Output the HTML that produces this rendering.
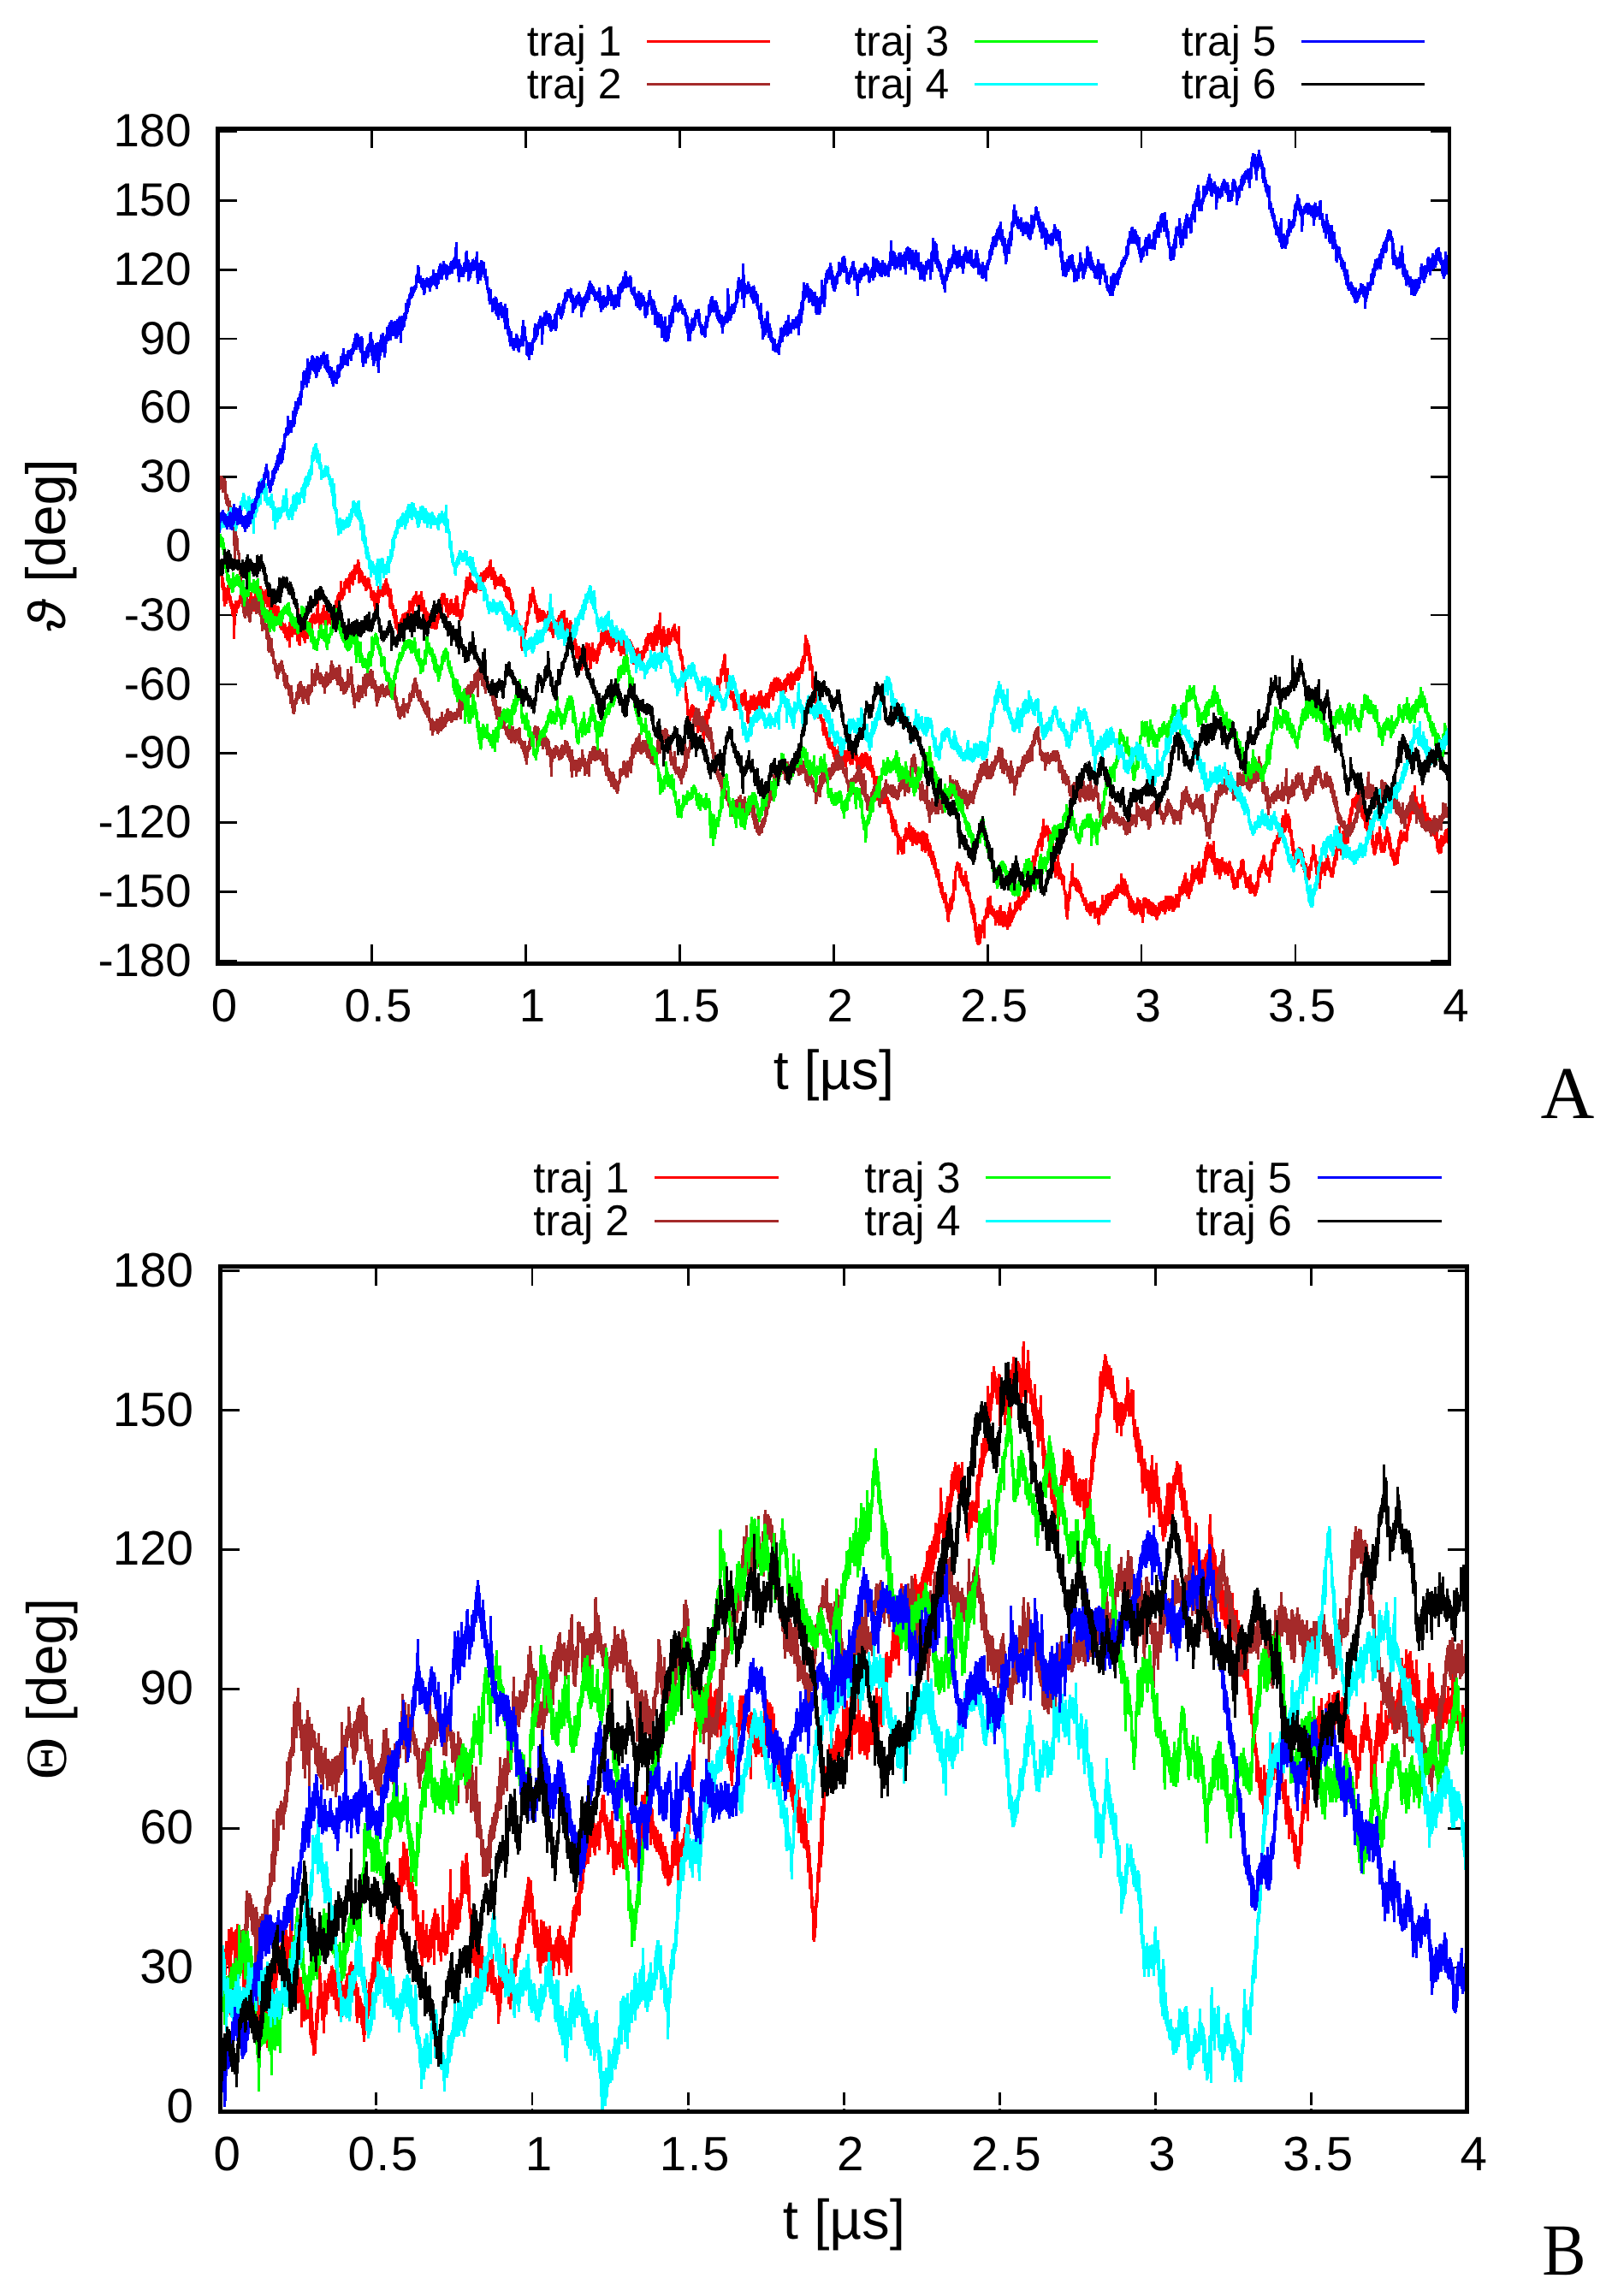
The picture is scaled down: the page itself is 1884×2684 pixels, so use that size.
<!DOCTYPE html>
<html lang="en"><head><meta charset="utf-8"><title>Trajectories</title>
<style>html,body{margin:0;padding:0;background:#fff}svg{display:block}text{fill:#000}</style></head>
<body>
<svg width="1884" height="2684" viewBox="0 0 1884 2684" shape-rendering="crispEdges" text-rendering="geometricPrecision">
<rect width="1884" height="2684" fill="#fff"/>
<path d="M434.4 1124.5v-20.5M434.4 152.5v20.5M614.4 1124.5v-20.5M614.4 152.5v20.5M794.3 1124.5v-20.5M794.3 152.5v20.5M974.2 1124.5v-20.5M974.2 152.5v20.5M1154.2 1124.5v-20.5M1154.2 152.5v20.5M1334.1 1124.5v-20.5M1334.1 152.5v20.5M1514 1124.5v-20.5M1514 152.5v20.5M256.5 153.8h20.5M1692.5 153.8h-20.5M256.5 234.6h20.5M1692.5 234.6h-20.5M256.5 315.3h20.5M1692.5 315.3h-20.5M256.5 396.1h20.5M1692.5 396.1h-20.5M256.5 476.8h20.5M1692.5 476.8h-20.5M256.5 557.6h20.5M1692.5 557.6h-20.5M256.5 719.1h20.5M1692.5 719.1h-20.5M256.5 799.9h20.5M1692.5 799.9h-20.5M256.5 880.6h20.5M1692.5 880.6h-20.5M256.5 961.4h20.5M1692.5 961.4h-20.5M256.5 1042.2h20.5M1692.5 1042.2h-20.5M256.5 1122.9h20.5M1692.5 1122.9h-20.5" fill="none" stroke="#000" stroke-width="2.7"/>
<path d="M257 638.4H1692" fill="none" stroke="#fff" stroke-width="3.4"/>
<clipPath id="clipA"><rect x="254.6" y="150.7" width="1439.4" height="975.7"/></clipPath>
<g clip-path="url(#clipA)" fill="none" stroke-width="3" stroke-linejoin="bevel">
<path d="M255.5 666v6l1 2v-9l1-5v11l1 2v-8l1 10v8l1 7v-15l1 11v10l1 13v-23l1 3v9l1 8v-17l1 5v8l1-4v-13l1-2v12l1 10v-10l1 5v6l1 6v-10l1 7v9l1 2v-6l1-3v36l1-31v-6l1-8v12l1 3v-14l1 2v6l1-1v-6l1-2v7l1-6v-7l1 1v9l1-7v-8l1 7v8l1 8v-20l1 10v8l1-4v-10l1 1v11l1 2v-10l1-1v13l1 0v-10l1-1v9l1-6v-5l1-9v19l1 0v-8l1-3v7l1-3v-7l1 5v13l1-10v-12l1 6v8l1-1v-7l1-2v7l1 1v-7l1-5v11l1-2v-17l1 6v14l1-8v-7l1 2v9l1 10v-14l1-5v13l1-1v-15l1 7v6l1 8v-11l1 0v8l1-1v-11l1 8v12l1-2v-11l1-4v17l1 1v-9l1 5v12l1-5v-10l1-2v8l1 7v-12l1-2v9l1 8v-15l1-1v17l1 2v-12l1-1v16l1 5v-18l1 6v13l1-3v-6l1 4v6l1 3v-12l1 2v15l1-4v-7l1 3v9l1 2v-16l1 1v6l1 17v-30l1 6v8l1 4v-14l1-1v15l1-6v-7l1-6v12l1-1v-11l1 4v12l1-2v-5l1-4v19l1-12v-27l1 24v17l1 3v-19l1-6v15l1-3v-7l1-11v15l1 7v-16l1 5v11l1 6v-14l1 1v7l1-4v-13l1-3v21l1-9v-7l1-4v16l1-5v-15l1 0v10l1 2v-14l1-3v10l1-2v-9l1 2v9l1 1v-9l1 0v9l1-3v-5l1-19v18l1 7v-9l1 0v17l1-8v-10l1 2v10l1-2v-8l1-8v9l1-1v-12l1 14v9l1 1v-7l1-3v7l1 3v-18l1 8v8l1-3v-5l1-1v9l1 0v-10l1-4v10l1 4v-17l1 2v10l1-5v-9l1-2v14l1-7v-11l1-3v14l1-10v-8l1-2v7l1 4v-14l1 4v6l1-2v-21l1 15v7l1-2v-11l1 0v9l1-3v-13l1-1v7l1 1v-12l1 4v7l1-1v-9l1-1v9l1 8v-20l1-4v10l1-1v-6l1-5v16l1 0v-14l1-4v7l1 6v-18l1 3v9l1-3v-9l1 0v11l1-4v-13l1 6v22l1-3v-15l1 4v10l1-2v-9l1 5v7l1 4v-7l1-2v10l1 1v-12l1 7v11l1-3v-8l1-2v9l1-2v-10l1 4v9l1 0v-5l1 6v6l1 7v-7l1-2v9l1-1v-11l1 5v6l1 15v-16l1-5v7l1 1v-6l1-7v16l1-2v-19l1 2v12l1-4v-6l1-2v8l1 0v-10l1 3v10l1-5v-11l1 2v12l1-9v-6l1-5v18l1 0v-13l1 5v10l1 1v-10l1 6v14l1 5v-24l1 14v7l1 5v-8l1 2v9l1 6v-6l1-2v7l1 13v-23l1 13v6l1 6v-6l1 4v6l1-4v-10l1 3v10l1-8v-6l1-4v8l1 1v-12l1-1v6l1 0v-6l1-1v6l1 5v-8l1-5v10l1-1v-6l1-5v10l1-5v-16l1 7v5l1-1v-8l1-2v7l1 9v-17l1-5v12l1-7v-6l1 0v9l1 0v-14l1 9v9l1-6v-7l1 5v11l1 2v-19l1 8v6l1 6v-24l1 14v5l1 3v-11l1 0v15l1 4v-9l1-2v10l1 8v-14l1 3v10l1 6v-12l1-4v12l1-1v-11l1 1v10l1 7v-12l1-7v16l1 2v-10l1 1v8l1 3v-20l1 13v6l1-1v-6l1-9v10l1-8v-8l1-5v9l1 2v-18l1-2v10l1 7v-22l1 0v6l1 2v-8l1 1v10l1 4v-8l1 7v8l1-3v-14l1 11v12l1-6v-6l1-4v11l1 1v-17l1 0v14l1 1v-7l1-4v10l1 4v-13l1 3v8l1-3v-11l1-7v25l1-4v-20l1 16v5l1 3v-6l1-1v10l1 0v-12l1 2v8l1-2v-9l1-9v10l1-6v-9l1-9v13l1-8v-10l1-9v13l1 8v-17l1 2v6l1 5v-12l1-10v19l1 2v-12l1 3v6l1 2v-9l1 6v6l1-1v-7l1-1v10l1-2v-7l1 0v5l1-1v-10l1-6v14l1-2v-9l1 2v14l1-10v-12l1 3v8l1 3v-13l1-2v9l1 3v-13l1 1v9l1-2v-9l1-3v9l1 4v-12l1-2v7l1-2v-8l1-5v15l1 9v-14l1 5v5l1-1v-10l1 8v8l1 10v-21l1 8v9l1-1v-6l1-3v7l1 0v-8l1 4v7l1-2v-7l1-5v14l1-3v-6l1-1v10l1 1v-10l1 4v10l1 1v-5l1 0v10l1 3v-10l1 2v9l1-1v-13l1 5v8l1 5v-11l1 9v9l1 3v-14l1 6v11l1 13v-18l1 4v9l1 3v-15l1 11v6l1 6v-12l1 5v7l1 1v-9l1 4v8l1 3v-6l1 7v11l1 6v-11l1-7v7l1-4v-11l1-1v10l1-8v-7l1-4v6l1-2v-13l1-1v4l1-2v-5l1-18v17l1-3v-10l1-5v8l1-3v-12l1 6v9l1 5v-10l1 9v12l1-1v-11l1 5v9l1 9v-12l1 1v10l1-9v-7l1 4v10l1 1v-12l1 0v11l1-1v-10l1 1v12l1-1v-10l1 5v17l1-6v-6l1 1v11l1-3v-21l1 5v12l1 5v-10l1 1v12l1-6v-6l1 1v10l1 8v-16l1-5v10l1 0v-11l1 5v9l1-4v-8l1 0v12l1-8v-5l1-6v9l1 3v-7l1-7v11l1-2v-12l1 5v25l1-6v-16l1-9v15l1 7v-8l1-1v12l1 7v-23l1 11v5l1 2v-9l1-1v8l1 5v-18l1 4v14l1-1v-11l1 7v17l1-5v-20l1 15v12l1 2v-12l1 9v14l1-3v-6l1-3v11l1 1v-15l1 4v9l1 6v-6l1 0v16l1-4v-9l1-7v11l1-1v-10l1-5v9l1-1v-8l1-8v30l1-18v-7l1-1v8l1 3v-14l1 8v20l1 2v-25l1 1v10l1 4v-21l1 13v9l1-1v-14l1 4v9l1-2v-7l1 2v12l1-6v-8l1-9v14l1-5v-7l1-5v10l1-8v-9l1-6v15l1 3v-7l1-2v7l1-5v-8l1-4v11l1 3v-13l1 0v17l1-8v-9l1 5v7l1 8v-10l1-3v9l1 10v-12l1-3v10l1 3v-15l1-5v15l1-3v-9l1-1v9l1-1v-12l1 1v8l1 4v-8l1 5v12l1 0v-6l1 0v12l1-8v-9l1 5v10l1-6v-6l1-7v19l1-4v-8l1 2v15l1-10v-13l1 5v6l1-1v-8l1-2v6l1 7v-11l1 3v5l1 4v-8l1 5v10l1 9v-19l1 2v7l1 3v-6l1-2v8l1-3v-7l1-3v16l1 6v-14l1-4v10l1 8v-9l1-8v18l1-11v-9l1 3v7l1-3v-11l1-1v7l1 1v-15l1-2v7l1 8v-13l1-8v15l1-5v-8l1 1v7l1 2v-11l1-1v10l1 11v-19l1 8v6l1 5v-16l1-13v19l1 3v-12l1-12v25l1-6v-12l1 0v5l1 6v-13l1-19v26l1 12v-15l1 1v23l1-13v-12l1-6v16l1 3v-15l1 9v12l1-5v-10l1 0v15l1-6v-14l1-3v16l1 4v-10l1-6v11l1 0v-8l1-6v6l1 0v-7l1-2v9l1 8v-20l1 11v7l1 3v-11l1 4v8l1 1v-7l1-13v23l1 12v-9l1 3v7l1 5v-8l1 5v7l1 12v-12l1 6v6l1 13v-6l1 12v7l1 7v-12l1 14v8l1 8v-6l1-4v8l1 5v-11l1-6v13l1-7v-8l1 1v13l1 0v-13l1 6v12l1 1v-6l1 0v8l1 2v-16l1 8v17l1-8v-16l1 11v10l1 0v-13l1 0v6l1 6v-13l1 0v11l1 17v-28l1-2v9l1-7v-9l1 7v10l1-2v-17l1 2v10l1-3v-15l1 1v9l1-1v-12l1-8v6l1-1v-15l1 11v13l1-10v-7l1 1v7l1-5v-10l1 2v7l1-1v-19l1 7v9l1 1v-11l1-5v8l1-4v-12l1-3v7l1 0v-7l1-9v6l1-3v-9l1-1v32l1-3v-13l1 9v12l1 5v-26l1 22v10l1-2v-7l1 1v10l1 2v-7l1-2v7l1 5v-11l1 0v15l1 7v-14l1 5v5l1 2v-6l1 0v7l1-4v-9l1-6v10l1 0v-8l1 0v8l1 1v-11l1 1v14l1-7v-7l1-2v10l1 5v-19l1 7v16l1 1v-9l1 3v18l1 4v-27l1 6v10l1-3v-9l1-10v13l1 0v-9l1-2v15l1-10v-6l1-2v18l1 0v-13l1 2v8l1 3v-13l1-3v11l1 2v-10l1-9v13l1-1v-6l1-7v16l1 6v-16l1 3v9l1-4v-6l1 3v9l1 0v-10l1-7v14l1 3v-12l1 1v5l1 7v-15l1-8v12l1-5v-9l1-6v10l1-4v-5l1 0v21l1-9v-15l1-2v15l1-4v-12l1 2v15l1-2v-11l1-4v9l1 6v-10l1-3v13l1 2v-12l1 5v17l1-12v-8l1 1v13l1-5v-11l1-3v10l1 5v-14l1-3v10l1-5v-8l1-1v11l1 1v-8l1 1v10l1 4v-22l1 9v11l1 1v-14l1-5v9l1 5v-11l1-5v11l1-5v-8l1 1v6l1 6v-14l1-2v14l1-2v-10l1 0v5l1-2v-9l1-6v18l1-7v-14l1 1v8l1-5v-9l1-20v20l1-4v-12l1 4v17l1-3v-12l1 4v6l1 22v-21l1 8v5l1 7v-7l1 5v21l1 4v-16l1 9v7l1 11v-21l1 14v11l1 3v-9l1 7v9l1 9v-8l1-1v7l1 0v-7l1 1v8l1 5v-6l1 5v6l1 10v-20l1 8v9l1 1v-7l1 0v8l1 7v-11l1 6v7l1 6v-14l1 0v13l1 3v-6l1-3v8l1 1v-6l1-3v10l1 8v-8l1-4v10l1 10v-16l1 0v7l1 4v-10l1 0v6l1-3v-7l1-3v15l1-9v-6l1 1v15l1-8v-10l1 5v12l1 6v-14l1 0v10l1 9v-15l1 2v5l1 1v-13l1 1v8l1-2v-10l1 3v15l1 2v-19l1 6v8l1 5v-13l1-3v9l1 1v-6l1-2v6l1 4v-6l1-2v17l1-3v-5l1-1v5l1-2v-7l1-1v21l1-13v-9l1-4v19l1-3v-13l1 1v12l1-1v-12l1-4v11l1-2v-7l1 1v14l1 4v-10l1-3v11l1 3v-17l1 2v14l1 3v-8l1 0v14l1-4v-7l1 7v7l1 9v-9l1 0v10l1-5v-10l1 10v19l1-8v-13l1 10v8l1 5v-7l1-8v16l1-3v-5l1 0v7l1 1v-6l1 2v5l1-7v-7l1-2v15l1-1v-6l1 1v7l1 11v-16l1 4v8l1 6v-8l1 4v6l1 14v-18l1 6v16l1-7v-7l1-1v9l1 10v-19l1 9v9l1 2v-7l1 6v22l1-15v-7l1 2v15l1-11v-5l1 6v9l1 6v-15l1 0v8l1 6v-19l1-4v6l1 3v-15l1-1v14l1-3v-5l1-1v8l1-7v-13l1 11v7l1 5v-19l1 7v6l1 11v-20l1-1v11l1 1v-6l1-4v16l1-1v-9l1 2v10l1-5v-9l1-1v9l1 4v-12l1 1v10l1 1v-11l1-2v22l1-2v-22l1 3v9l1 7v-17l1 5v19l1-9v-12l1-1v17l1 3v-14l1 8v12l1-5v-11l1 6v7l1 9v-13l1 3v14l1-8v-8l1 9v10l1 2v-13l1 10v5l1 8v-11l1 3v5l1 6v-13l1 10v7l1 5v-7l1 3v9l1 2v-14l1 10v8l1 2v-8l1 3v10l1-4v-9l1 5v10l1 8v-11l1 2v16l1 5v-19l1 1v9l1-7v-10l1-3v14l1-1v-12l1-6v10l1-2v-24l1 5v5l1 3v-17l1-12v7l1-4v-6l1-1v9l1-1v-5l1-2v15l1 3v-8l1-5v13l1 5v-7l1-2v12l1 0v-10l1-1v7l1 5v-18l1 10v13l1 1v-11l1 1v11l1 5v-8l1 6v5l1 10v-9l1 2v13l1 2v-11l1-1v14l1 8v-18l1 11v8l1 16v-18l1 9v10l1 7v-10l1 2v9l1-3v-22l1 11v12l1-12v-7l1-3v7l1-5v-8l1 2v7l1 13v-24l1-3v5l1-3v-7l1-5v8l1 5v-21l1-3v16l1 4v-15l1-7v17l1 2v-7l1 1v9l1 1v-5l1-3v8l1 4v-8l1 4v12l1-6v-11l1 0v6l1 4v-9l1 2v14l1-8v-11l1-5v16l1 8v-17l1 3v10l1 6v-18l1 0v13l1 0v-13l1 7v10l1 0v-9l1 2v11l1-7v-10l1-10v15l1 8v-28l1 14v10l1-3v-8l1-4v10l1-2v-6l1-2v6l1-5v-11l1 5v5l1 0v-11l1 1v5l1 4v-19l1 9v10l1 0v-11l1-3v8l1-2v-7l1 0v6l1 2v-12l1-3v7l1 5v-14l1-2v15l1-7v-7l1-1v11l1 0v-23l1 0v11l1-3v-11l1-5v8l1-6v-7l1-12v15l1-5v-10l1 3v9l1-10v-8l1-2v9l1-1v-7l1-10v8l1-3v-7l1 0v9l1-6v-10l1 1v20l1-10v-9l1-19v23l1-5v-7l1 2v9l1-5v-9l1 2v6l1 2v-10l1 7v8l1 7v-17l1 5v10l1 8v-8l1 7v6l1 7v-21l1 21v8l1 7v-15l1 5v16l1-4v-9l1-4v11l1 0v-21l1 18v11l1-3v-12l1 4v9l1 2v-6l1 1v12l1-3v-8l1 1v10l1 11v-6l1 5v9l1 18v-23l1 4v22l1-19v-8l1-6v12l1-7v-10l1-7v7l1-3v-7l1-18v21l1 4v-8l1 2v7l1 1v-9l1 0v14l1 0v-11l1-2v7l1 8v-13l1 5v7l1 3v-9l1 2v8l1 4v-6l1 3v7l1 0v-5l1 3v7l1-4v-6l1 6v7l1 4v-6l1-4v9l1 1v-9l1 1v9l1 4v-17l1 4v8l1 0v-11l1 0v8l1 4v-10l1-4v21l1-4v-8l1 3v5l1 3v-12l1 3v15l1 2v-19l1 1v8l1-5v-6l1-3v8l1-1v-18l1 12v12l1-5v-9l1 3v7l1-2v-18l1 2v11l1 3v-8l1-10v14l1-3v-7l1 0v11l1-7v-8l1-1v10l1-3v-8l1 2v7l1-5v-7l1 3v9l1-5v-9l1-2v16l1-8v-9l1 1v6l1 3v-6l1-2v7l1-2v-20l1 10v14l1-1v-8l1 1v9l1 0v-19l1 7v9l1 2v-7l1-4v14l1 2v-9l1 7v8l1 9v-17l1 0v11l1 8v-16l1 2v9l1 2v-11l1 7v8l1 1v-12l1 2v8l1 0v-5l1-13v16l1-4v-8l1-1v10l1 7v-17l1 8v8l1 4v-10l1 2v15l1-14v-13l1-3v13l1-3v-8l1-1v9l1 2v-8l1 9v6l1-2v-15l1 4v14l1-2v-13l1 11v5l1-1v-12l1-2v16l1-3v-11l1 3v7l1 5v-14l1 4v13l1-1v-7l1-6v10l1-3v-13l1 2v11l1-6v-8l1 0v7l1 0v-7l1 3v9l1-3v-11l1 3v14l1-6v-16l1 6v10l1-3v-11l1-1v9l1 8v-17l1 1v6l1 6v-14l1 4v8l1 7v-18l1 4v13l1-2v-13l1 3v9l1-4v-13l1 7v8l1-1v-11l1-3v16l1-13v-12l1 4v7l1-2v-6l1-6v13l1-2v-13l1-2v15l1-11v-7l1-6v20l1 5v-11l1-7v21l1-5v-5l1 0v13l1-10v-9l1-2v11l1 0v-9l1-21v25l1-7v-10l1 3v9l1-6v-9l1 0v9l1 2v-7l1-6v11l1 5v-15l1-8v27l1-12v-7l1 6v6l1 6v-14l1-6v11l1-4v-16l1 4v18l1-14v-12l1-10v21l1-8v-11l1-8v18l1 1v-14l1 0v8l1-1v-9l1 2v10l1 9v-10l1-2v11l1 4v-28l1 24v8l1 8v-11l1-5v9l1-1v-12l1 8v9l1 2v-10l1-8v24l1-8v-11l1 1v9l1-1v-16l1 10v6l1-3v-8l1 3v10l1 2v-14l1 2v6l1 3v-9l1 0v14l1-8v-8l1-1v8l1 6v-9l1 5v8l1 7v-16l1 9v10l1 5v-7l1-8v12l1 0v-12l1 2v6l1 5v-17l1-5v10l1 2v-10l1-4v13l1-5v-15l1-1v7l1 7v-16l1 4v12l1 6v-8l1 4v6l1 10v-13l1 5v7l1-3v-9l1 2v7l1 10v-12l1-10v23l1-9v-5l1 3v9l1 0v-6l1-3v8l1 6v-13l1 2v10l1-7v-7l1-3v10l1-7v-12l1-7v8l1 4v-9l1-7v10l1-1v-11l1-2v9l1-2v-12l1-1v11l1 7v-9l1 2v9l1 3v-8l1 1v8l1 0v-7l1-3v18l1-14v-9l1-4v11l1 0v-23l1 1v6l1-1v-12l1-3v8l1 4v-12l1-3v5l1-2v-8l1 3v6l1 1v-11l1-3v11l1-6v-8l1-5v11l1 3v-18l1-7v21l1-4v-6l1 3v6l1-4v-23l1 13v6l1-1v-8l1-5v12l1 10v-19l1 7v9l1 8v-8l1 1v12l1 12v-15l1 7v14l1-3v-6l1 4v8l1 7v-10l1-1v8l1 1v-12l1-2v13l1-9v-9l1 3v8l1 3v-8l1-4v21l1-4v-13l1 10v8l1 6v-13l1 4v9l1 1v-12l1 8v7l1 4v-11l1 7v5l1-5v-9l1-5v6l1 2v-15l1-2v7l1-7v-14l1 3v14l1 1v-7l1 3v5l1 16v-16l1 8v9l1 1v-17l1 6v6l1 20v-23l1-2v15l1-13v-7l1-1v10l1 1v-11l1 3v7l1 6v-17l1 4v6l1-1v-16l1 1v9l1 4v-11l1 8v6l1 2v-6l1 3v8l1 1v-8l1-3v12l1-8v-6l1-10v12l1-4v-10l1-7v11l1 2v-22l1 4v5l1 2v-12l1-17v28l1-8v-12l1 10v16l1-15v-8l1-6v16l1-2v-9l1 0v11l1-1v-16l1 2v15l1-10v-10l1 3v16l1-18v-7l1-9v8l1 13v-25l1-5v11l1-4v-16l1 0v8l1-1v-8l1 0v11l1 0v-10l1-6v8l1 0v-10l1 7v7l1 5v-10l1 5v10l1-2v-12l1 0v18l1 2v-13l1 6v7l1 4v-7l1 4v9l1 3v-11l1 2v9l1 4v-16l1-2v12l1-5v-6l1 3v5l1 11v-9l1 7v11l1 7v-15l1 13v7l1 4v-6l1-8v12l1-9v-11l1-5v15l1-2v-7l1-3v9l1-1v-18l1 16v8l1 7v-16l1 6v7l1 3v-7l1 0v7l1-5v-13l1-1v10l1-6v-16l1 3v9l1 7v-13l1 5v13l1 4v-16l1 14v9l1-1v-7l1 0v9l1 5v-14l1 6v13l1-6v-10l1 6v9l1-6v-12l1-3v20l1-18v-8l1-6v15l1-12v-7l1-4v16l1-5v-6l1-2v8l1 1v-8l1-2v7l1 4v-8l1 0v9l1-2v-16l1-3v8l1-9v-16l1 6v10l1-7v-9l1-6v11l1-8v-15l1 4v20l1-9v-11l1-14v21l1 3v-9l1-2v14l1-3v-5l1 5v10l1-1v-7l1-4v11l1 4v-15l1 1v7l1 6v-25l1 22v10l1-6v-18l1 9v10l1 5v-8l1-2v8l1 3v-12l1 10v8l1-3v-7l1-2v11l1 6v-9l1 4v5l1 4v-12l1 2v7l1 4v-9l1-1v11l1 4v-7l1-3v15l1 8v-14l1 0v14l1 2v-5l1-13v16l1 0v-20l1 7v7l1-3v-9l1 0v9l1-3v-7l1-7v11l1 1v-13l1 2v12l1 3v-16l1-3v19" stroke="#ff0000"/>
<path d="M255.5 562v7l1 4v-12l1 2v5l1-5v-7l1 3v9l1 8v-14l1-1v14l1-3v-13l1 6v14l1 10v-12l1 3v11l1-1v-8l1 11v10l1 0v-18l1 12v9l1 4v-5l1-4v9l1 8v-11l1 2v10l1 36v-39l1 5v7l1 4v-6l1 6v6l1 11v-6l1 6v12l1 11v-14l1 16v8l1 13v-12l1 8v6l1 20v-7l1 0v9l1 4v-13l1-2v10l1-3v-20l1 10v12l1 5v-12l1 3v14l1-1v-21l1 3v10l1-7v-8l1-3v9l1 4v-11l1-3v11l1 0v-11l1 2v17l1-4v-10l1-2v15l1-3v-18l1 11v10l1 4v-7l1-4v11l1 17v-21l1 6v9l1-1v-7l1-7v19l1 0v-5l1 5v9l1 3v-19l1 16v14l1 4v-21l1 7v10l1 2v-12l1-3v21l1-1v-8l1 6v11l1 1v-6l1 3v8l1 5v-11l1 4v12l1 3v-12l1-1v7l1-2v-11l1 3v6l1-2v-8l1-2v9l1 7v-11l1 9v6l1 10v-16l1 3v14l1 2v-10l1-6v14l1 3v-8l1 4v11l1 0v-5l1 3v12l1-5v-17l1 15v6l1 12v-13l1-1v15l1-7v-7l1-5v8l1-3v-10l1-3v11l1-12v-7l1 0v17l1-10v-8l1-3v11l1 8v-15l1 4v12l1 7v-18l1-3v11l1 0v-7l1 2v6l1 6v-11l1-7v17l1 5v-24l1 5v9l1-5v-5l1-4v8l1 1v-27l1 9v11l1-6v-8l1 2v10l1 2v-19l1 0v13l1-5v-16l1 6v10l1 4v-7l1 0v10l1 1v-13l1 5v7l1 1v-9l1 6v5l1 3v-11l1-1v19l1-13v-7l1-6v16l1 0v-10l1 0v10l1-5v-7l1-3v13l1-3v-13l1-11v18l1 5v-18l1 2v7l1 3v-6l1-1v12l1-2v-11l1 0v9l1 11v-21l1 4v12l1-1v-18l1 7v12l1 12v-15l1-1v7l1 4v-9l1 6v12l1-3v-9l1-2v13l1-4v-8l1-3v11l1-9v-16l1 10v12l1-7v-9l1 1v7l1 2v-19l1 18v8l1 10v-15l1 8v12l1 8v-17l1 1v6l1 2v-10l1 0v9l1-4v-12l1-2v20l1-7v-11l1 4v6l1-2v-10l1 3v12l1-9v-16l1 9v5l1-1v-16l1 6v20l1-17v-10l1 3v13l1-7v-6l1-2v14l1-9v-7l1-4v8l1 15v-20l1 0v18l1-2v-7l1 2v5l1 9v-15l1 10v9l1 12v-12l1-11v19l1-7v-13l1 6v8l1-3v-8l1-5v12l1-4v-8l1 1v8l1 6v-8l1 0v8l1-2v-8l1-2v9l1-2v-9l1 2v10l1-3v-14l1 3v10l1 6v-14l1 1v14l1 0v-18l1 1v13l1 4v-11l1-6v17l1 6v-9l1 4v8l1 6v-10l1 8v7l1 3v-11l1-1v14l1-6v-7l1-3v10l1 2v-7l1-14v16l1 7v-14l1-3v8l1 1v-8l1 2v5l1 4v-8l1-5v8l1-6v-11l1-2v10l1-1v-6l1-6v8l1-4v-9l1-4v18l1-14v-7l1-3v18l1-6v-7l1 6v8l1 5v-5l1 1v8l1-4v-10l1 4v8l1 6v-7l1 0v8l1 2v-8l1 5v6l1 2v-10l1 5v6l1 3v-12l1-5v20l1-3v-9l1 1v14l1 2v-5l1 3v12l1-8v-6l1 2v18l1-8v-7l1-1v9l1-1v-6l1-3v6l1 6v-15l1 6v12l1-2v-16l1 4v7l1-5v-8l1 5v12l1-4v-19l1 12v6l1 1v-10l1-1v7l1 3v-13l1-3v12l1-4v-11l1-3v11l1-2v-5l1 0v11l1-4v-8l1 3v11l1-3v-8l1 1v5l1 2v-6l1-4v7l1 1v-5l1-3v10l1-7v-7l1 3v7l1-4v-16l1 1v13l1 9v-28l1 1v15l1 1v-5l1-10v10l1-3v-13l1 4v8l1-4v-13l1 2v5l1 5v-11l1-5v15l1-2v-9l1 2v7l1 2v-19l1 6v9l1-5v-7l1-3v11l1-4v-13l1-3v5l1 2v-6l1-3v8l1 22v-32l1 1v10l1 1v-14l1-1v7l1 8v-6l1-1v14l1-6v-8l1 0v11l1 7v-11l1-6v22l1-10v-9l1-2v15l1 1v-10l1 6v7l1-2v-7l1 6v8l1-3v-9l1 3v10l1 10v-14l1-2v12l1 10v-14l1 2v12l1 10v-15l1 2v11l1 2v-12l1-2v12l1 13v-26l1 12v5l1 9v-18l1 4v9l1 3v-5l1-4v9l1 4v-5l1 3v5l1 3v-11l1 2v9l1 4v-17l1 2v16l1-6v-12l1 8v14l1-4v-9l1-7v16l1 0v-9l1 4v9l1-2v-12l1-3v9l1 5v-10l1-3v7l1 9v-17l1-1v17l1 3v-8l1 4v8l1 0v-8l1 2v7l1 6v-10l1-6v16l1 8v-10l1-3v17l1-15v-7l1 0v6l1-2v-7l1-6v13l1-8v-10l1 0v6l1 0v-9l1 2v5l1 0v-9l1-5v14l1-7v-5l1 2v24l1-19v-8l1 5v10l1-2v-7l1 6v9l1 0v-13l1 3v8l1 8v-18l1-2v14l1-2v-9l1 2v9l1 6v-12l1-1v20l1-11v-7l1 2v11l1 7v-12l1 4v9l1 22v-26l1-5v14l1-8v-6l1-2v11l1-1v-7l1-7v8l1 3v-8l1-1v8l1 4v-6l1 1v9l1-3v-8l1-4v12l1 0v-15l1 1v14l1-6v-6l1 1v8l1-8v-10l1 3v9l1 4v-14l1 2v15l1 1v-6l1-7v15l1 4v-8l1 4v8l1 14v-33l1 15v7l1-1v-7l1-2v13l1-4v-9l1 4v16l1-9v-8l1-2v5l1 4v-12l1 2v14l1-6v-9l1 0v9l1-6v-14l1 12v6l1 2v-9l1 0v20l1-6v-9l1 1v6l1 6v-12l1-6v5l1 16v-22l1-8v12l1 3v-10l1-3v7l1 0v-10l1-5v17l1-8v-7l1-1v17l1-5v-7l1-5v14l1 1v-10l1-3v6l1 0v-6l1 4v6l1 5v-7l1-3v5l1 10v-16l1 7v6l1-1v-9l1 3v11l1 11v-32l1 14v6l1 13v-11l1 3v13l1-6v-6l1 3v6l1 10v-10l1-8v10l1 3v-13l1 7v13l1-1v-9l1-1v9l1 6v-5l1-3v10l1-6v-7l1-3v4l1-2v-15l1 0v7l1 0v-7l1 0v5l1 2v-14l1-3v16l1-1v-13l1 7v9l1 2v-10l1-10v20l1-13v-6l1 2v9l1-7v-8l1-1v19l1-18v-8l1-8v16l1-1v-11l1-5v10l1 3v-10l1-9v13l1 1v-15l1 8v9l1-3v-12l1-7v20l1 4v-11l1-3v15l1-5v-7l1-5v15l1-8v-6l1 5v7l1 0v-13l1 3v10l1 8v-13l1-4v15l1 2v-9l1 0v6l1 7v-6l1 2v7l1-2v-12l1 5v9l1 0v-8l1-3v10l1 1v-16l1-3v9l1-3v-11l1-8v12l1 2v-6l1-2v14l1-9v-9l1-10v10l1 6v-10l1-6v14l1 1v-8l1-9v14l1-6v-7l1 3v7l1 3v-7l1 3v10l1 8v-7l1-2v14l1 11v-16l1 9v6l1-4v-6l1 3v10l1 4v-23l1 13v12l1 2v-8l1 2v6l1 0v-8l1 0v10l1 3v-7l1-4v9l1 9v-18l1 1v8l1 1v-11l1-6v14l1-13v-32l1 23v18l1-8v-17l1-1v9l1 2v-11l1-2v6l1-6v-8l1-1v5l1-2v-7l1-11v7l1-3v-9l1-9v11l1 3v-12l1-11v19l1-1v-7l1 4v6l1-6v-14l1 8v12l1 0v-8l1 1v14l1 0v-18l1 2v10l1-1v-7l1 3v9l1 1v-7l1 1v10l1 4v-11l1-4v13l1 5v-11l1 1v12l1-3v-14l1 9v12l1 10v-17l1 8v13l1 4v-5l1-5v21l1-1v-7l1 5v5l1 7v-8l1-1v11l1 2v-9l1 1v8l1 7v-17l1 6v16l1-5v-10l1-1v11l1 9v-10l1 2v9l1 4v-9l1 1v8l1 3v-9l1 3v9l1 4v-7l1 3v8l1 7v-13l1-1v13l1-3v-7l1 1v10l1 0v-19l1 0v12l1 7v-20l1 1v9l1-1v-7l1-6v16l1-5v-8l1-5v14l1 4v-11l1-2v16l1-3v-10l1 3v9l1 9v-27l1 12v12l1 0v-11l1-2v10l1-5v-8l1 1v13l1-6v-7l1-3v13l1-6v-7l1 6v9l1 7v-27l1 19v8l1 10v-18l1 3v10l1 9v-12l1-4v14l1 5v-8l1 1v8l1-4v-5l1-5v6l1 5v-13l1-4v9l1 0v-8l1-3v9l1-7v-16l1 4v10l1-4v-8l1-7v10l1-4v-11l1-7v15l1-7v-11l1-6v21l1-14v-5l1-4v7l1-4v-9l1-3v5l1 4v-15l1 1v11l1-2v-6l1-8v8l1-2v-7l1-1v10l1-3v-8l1 0v9l1 5v-9l1-2v6l1 4v-13l1 3v18l1-3v-12l1-6v6l1 1v-8l1 6v10l1-3v-7l1-3v15l1-8v-8l1 2v7l1 0v-5l1-2v11l1-8v-6l1-7v9l1 3v-10l1 6v6l1 5v-8l1-5v17l1-12v-8l1 2v17l1-9v-6l1-2v14l1 0v-13l1 2v9l1 2v-7l1 6v8l1 5v-14l1 5v13l1-2v-14l1 4v7l1 1v-9l1 0v7l1 5v-9l1 1v11l1 0v-9l1 4v10l1 0v-8l1-3v25l1-7v-7l1-3v7l1-2v-10l1 1v9l1 4v-25l1 0v16l1-7v-20l1 9v10l1 1v-10l1-8v13l1 3v-9l1-1v9l1 2v-10l1-1v7l1 1v-12l1-3v15l1-3v-6l1-4v9l1-3v-10l1-4v14l1-2v-11l1 4v6l1-3v-6l1-11v14l1 1v-6l1 0v10l1-4v-18l1 6v9l1 6v-14l1-2v11l1 3v-9l1 4v10l1 1v-5l1 0v6l1 5v-10l1-3v16l1 4v-6l1 3v11l1 1v-13l1 0v10l1 7v-20l1 2v11l1 6v-15l1-5v7l1-2v-8l1 3v6l1-1v-9l1-2v7l1 4v-15l1-5v13l1-4v-7l1 10v10l1 2v-18l1 12v16l1 0v-13l1-11v25l1 2v-10l1-9v21l1 5v-9l1 0v18l1-1v-16l1 3v9l1 1v-11l1 0v17l1-11v-12l1 0v10l1-5v-5l1-7v7l1-1v-8l1 2v6l1 4v-8l1 2v7l1 3v-11l1 9v9l1 4v-19l1 8v7l1-5v-8l1-1v8l1-7v-6l1 1v10l1-1v-12l1-8v10l1 7v-10l1-2v8l1 1v-5l1-2v10l1 0v-10l1 0v10l1 4v-5l1-10v11l1 5v-6l1-8v13l1 0v-10l1 3v9l1 0v-5l1-5v11l1-6v-7l1-7v11l1-3v-8l1-8v13l1-5v-5l1-5v18l1-2v-6l1-8v24l1-9v-7l1 0v9l1-5v-6l1-1v15l1-2v-19l1 0v6l1 0v-8l1-18v22l1-11v-8l1-7v17l1-9v-9l1 8v13l1 2v-11l1 6v7l1 7v-6l1 3v10l1 3v-6l1 3v14l1 2v-16l1-7v11l1 7v-14l1 11v6l1 3v-14l1 5v12l1-4v-8l1-10v25l1 5v-11l1-2v13l1 14v-22l1 7v4l1 0v-9l1-9v15l1 0v-7l1 0v7l1-4v-7l1 6v9l1-4v-7l1-6v11l1 6v-14l1-5v9l1 0v-5l1-1v11l1-6v-10l1 3v17l1-8v-12l1 2v7l1 0v-6l1-3v10l1-4v-6l1-4v6l1-2v-9l1-2v6l1 2v-22l1 12v16l1-6v-12l1-5v13l1 1v-7l1-3v12l1-8v-5l1-2v13l1-2v-11l1 6v13l1 6v-18l1 2v8l1 8v-10l1 1v6l1 6v-13l1-5v19l1-2v-13l1 2v5l1 2v-12l1 6v9l1 8v-15l1 3v6l1 1v-9l1-8v13l1 2v-12l1 1v8l1-2v-7l1-3v16l1-11v-13l1 0v13l1-7v-10l1 2v9l1-6v-13l1 3v8l1-1v-11l1-5v17l1-6v-16l1 6v7l1 0v-14l1 3v7l1 1v-13l1 3v14l1-1v-4l1-15v24l1-5v-10l1 4v8l1 3v-16l1 5v9l1 1v-13l1-7v18l1-3v-12l1 2v6l1-2v-6l1-10v12l1-2v-6l1-4v9l1-3v-7l1-9v11l1 6v-12l1 10v11l1-3v-22l1 5v25l1-12v-6l1 9v10l1-8v-7l1-2v11l1-1v-6l1 7v9l1-7v-5l1 4v5l1 11v-15l1-12v21l1-3v-12l1 6v13l1 1v-8l1 6v17l1-11v-7l1-6v12l1-2v-9l1-11v12l1-2v-10l1 3v10l1-3v-8l1-4v9l1-4v-7l1-8v18l1-6v-8l1-6v14l1-6v-7l1 3v6l1-2v-12l1 0v13l1-1v-12l1-4v17l1-11v-8l1-1v9l1 10v-24l1 0v5l1 0v-9l1-7v15l1-9v-6l1-4v12l1-2v-9l1-3v16l1 6v-9l1 4v17l1 0v-7l1 5v7l1 1v-9l1 1v8l1 1v-10l1 2v19l1-9v-9l1-2v7l1 5v-14l1 7v6l1 0v-6l1-3v6l1 0v-9l1 2v6l1 0v-8l1-3v10l1 2v-11l1 1v11l1-1v-11l1 0v12l1-2v-9l1 7v13l1 5v-14l1-1v11l1 4v-7l1-3v13l1 9v-17l1 5v7l1-1v-10l1 8v8l1 2v-13l1 5v7l1 0v-10l1 9v6l1 9v-11l1-1v6l1 8v-14l1-1v13l1 1v-14l1-4v11l1-1v-6l1 1v9l1-1v-12l1 4v8l1-1v-15l1 9v14l1 4v-19l1 1v8l1 3v-8l1-15v24l1 0v-19l1 9v7l1 8v-11l1-3v9l1 1v-12l1-4v16l1 3v-15l1 5v7l1-6v-15l1 11v12l1-4v-7l1 6v7l1-5v-7l1-5v7l1-1v-11l1 8v9l1 0v-5l1 1v17l1 2v-8l1 2v10l1 9v-13l1 4v11l1-1v-5l1-1v11l1-2v-7l1 1v8l1 4v-17l1 2v5l1 0v-9l1 1v10l1-1v-12l1-12v21l1-2v-5l1-10v12l1-1v-8l1-1v14l1 6v-11l1-3v8l1-1v-7l1 3v9l1 2v-8l1 0v5l1 6v-9l1 2v5l1-2v-5l1-2v7l1 3v-10l1 5v9l1 1v-11l1 7v10l1-2v-8l1-6v16l1-10v-9l1-1v13l1 5v-22l1 0v12l1 0v-9l1-3v13l1-6v-4l1-2v10l1-3v-8l1 5v10l1-6v-23l1 7v8l1 0v-11l1 4v6l1 3v-7l1-1v6l1 7v-13l1-4v12l1 4v-15l1 2v8l1 5v-11l1 1v11l1-2v-6l1-6v13l1 11v-16l1-4v18l1-5v-15l1-7v9l1 1v-9l1-3v8l1 1v-8l1-4v12l1-3v-8l1 1v8l1 1v-7l1 1v10l1-2v-13l1 6v8l1 3v-6l1 3v8l1 0v-8l1 3v11l1-6v-8l1 2v6l1-6v-6l1-7v14l1-1v-16l1-2v10l1 3v-8l1 1v9l1 2v-9l1 2v7l1 6v-7l1 1v10l1 3v-18l1 3v11l1-4v-9l1 3v7l1 3v-8l1-1v5l1-3v-5l1-1v17l1-11v-8l1-19v22l1-4v-7l1-13v12l1 5v-13l1-6v9l1 0v-12l1 9v8l1 3v-10l1 0v12l1 2v-9l1-1v9l1 4v-7l1 0v12l1 0v-8l1-5v8l1-1v-6l1-5v7l1 0v-13l1 10v7l1-4v-5l1-1v7l1 7v-15l1-5v13l1-1v-10l1-3v16l1 11v-16l1 2v14l1 6v-7l1 0v12l1 12v-15l1-2v10l1 4v-12l1 1v17l1-11v-6l1-7v6l1-3v-21l1 6v17l1-12v-9l1 3v6l1-2v-17l1-7v18l1-4v-8l1-5v10l1-8v-10l1 6v8l1-2v-8l1-5v14l1-4v-7l1-4v10l1-3v-12l1 11v6l1-6v-22l1 13v17l1-9v-20l1 10v14l1-4v-12l1-2v16l1-3v-10l1 3v8l1 8v-13l1 5v16l1-4v-12l1 1v13l1-9v-8l1-3v9l1-4v-16l1 3v10l1-1v-12l1 2v13l1-2v-10l1 2v11l1-3v-5l1-9v14l1 2v-8l1-12v16l1 3v-24l1 17v11l1 1v-6l1-2v10l1 0v-10l1-10v16l1 1v-13l1-9v18l1-5v-6l1-4v11l1 2v-8l1-3v12l1-8v-15l1 4v10l1 7v-18l1-12v9l1 17v-20l1 4v15l1 3v-16l1 6v22l1 4v-19l1 10v7l1 3v-6l1 4v10l1-3v-15l1 4v15l1 15v-24l1 4v7l1 5v-10l1-4v7l1-4v-6l1 0v8l1 4v-14l1 1v7l1 2v-12l1 4v9l1-6v-8l1-6v13l1 4v-8l1-2v9l1 0v-7l1-2v12l1-2v-20l1 10v13l1-3v-9l1-4v9l1-3v-8l1-21v32l1-1v-10l1 3v18l1-9v-12l1 4v9l1-1v-8l1-6v14l1-1v-19l1 9v9l1 0v-12l1-2v7l1-2v-10l1-5v14l1 2v-12l1-6v10l1 5v-10l1 1v7l1 2v-8l1-7v19l1 1v-11l1 6v6l1 9v-10l1 1v11l1 1v-11l1-2v10l1 0v-10l1-2v8l1 1v-7l1-15v13l1 5v-13l1 3v5l1 7v-22l1 5v5l1 2v-15l1-7v22l1-10v-7l1-6v13l1 2v-10l1-5v11l1-1v-5l1 6v6l1 7v-9l1 5v5l1 2v-8l1 0v5l1-2v-13l1 9v7l1-1v-17l1 8v9l1-2v-10l1 5v6l1 3v-14l1 6v14l1-1v-12l1 5v8l1 11v-13l1-1v13l1 7v-10l1-3v16l1 4v-15l1 13v7l1 6v-13l1 4v8l1 3v-10l1 2v10l1-1v-5l1 0v7l1 1v-8l1 1v7l1 6v-9l1 0v14l1-5v-10l1 1v13l1-2v-9l1 2v9l1-4v-6l1-7v11l1 1v-8l1-2v6l1-2v-8l1-2v6l1-3v-9l1-1v12l1-9v-10l1-5v12l1-1v-9l1-7v11l1-4v-14l1-3v14l1 2v-11l1-8v16l1-3v-8l1-6v13l1-1v-9l1-3v13l1 2v-19l1-13v25l1 7v-15l1-3v10l1 8v-10l1-5v17l1-5v-14l1 9v5l1 0v-8l1-2v8l1 3v-7l1 2v17l1-10v-8l1-2v11l1-2v-11l1 1v9l1 10v-29l1-1v13l1 2v-11l1 4v12l1-6v-12l1 3v8l1 9v-16l1 6v11l1-1v-10l1-4v9l1 6v-13l1 0v9l1 1v-5l1 0v7l1 12v-10l1-4v13l1-7v-10l1 7v13l1 4v-18l1 6v10l1 3v-16l1 4v11l1 4v-6l1-7v18l1 2v-8l1-17v20l1-1v-7l1-1v20l1-6v-13l1-5v11l1-2v-13l1 4v8l1-6v-7l1-2v12l1-4v-15l1-1v11l1-1v-13l1-1v22l1-4v-7l1 8v6l1 0v-13l1 7v18l1-9v-11l1 5v7l1-1v-8l1 7v5l1 5v-12l1-7v22l1 1v-16l1 6v6l1 6v-7l1-1v10l1 0v-10l1 0v6l1 2v-9l1 0v12l1-4v-6l1-2v10l1 8v-15l1-3v14l1-6v-9l1-2v9l1 10v-23l1 6v10l1-5v-7l1 1v14l1-1v-5l1-8v12l1-9v-8l1 7v6l1 5v-13l1-7v10l1-7v-16l1 11v8l1-3v-6l1-9v15l1 0v-6l1-3v10l1-1v-8l1-5v13" stroke="#a52a2a"/>
<path d="M255.5 625v14l1 0v-9l1-6v8l1 8v-12l1 1v7l1 7v-14l1 9v8l1 5v-11l1 10v9l1 11v-13l1 13v8l1 2v-8l1 1v7l1 7v-9l1-2v10l1 2v-5l1 0v10l1-3v-21l1 9v7l1 0v-9l1 0v8l1-1v-9l1-3v12l1 1v-8l1-3v12l1 1v-7l1 2v13l1 1v-9l1-1v10l1 4v-21l1 15v16l1-12v-8l1 1v6l1 2v-13l1 0v13l1-3v-10l1-19v22l1 2v-9l1 3v6l1 2v-10l1 1v9l1 0v-15l1 4v13l1-5v-8l1 2v7l1 7v-17l1-4v18l1 9v-14l1 1v7l1 3v-11l1 11v7l1 12v-18l1 4v8l1 10v-10l1-3v7l1 11v-14l1-2v13l1 2v-14l1 5v6l1 10v-17l1 9v13l1-14v-12l1 8v12l1 1v-17l1 8v12l1 0v-16l1 0v7l1 4v-8l1-2v7l1 0v-8l1 1v9l1-5v-8l1-1v7l1 8v-18l1 1v12l1-6v-8l1-2v6l1 1v-8l1-2v5l1 5v-9l1-2v9l1 2v-13l1 0v15l1 0v-10l1 9v7l1 2v-9l1-2v15l1-2v-8l1-1v9l1 5v-11l1-3v11l1 3v-6l1 1v9l1 2v-8l1-13v17l1-4v-11l1-3v10l1-4v-17l1 5v16l1-11v-9l1 4v10l1 14v-20l1 2v11l1 3v-7l1 4v7l1 3v-13l1 5v7l1 5v-16l1 11v12l1-5v-11l1 5v7l1 12v-8l1-7v14l1 1v-7l1-4v9l1 4v-14l1 1v6l1-9v-8l1 1v5l1-2v-10l1 0v15l1-1v-9l1 3v7l1 2v-13l1 7v8l1 0v-25l1 12v16l1 7v-10l1-3v6l1-3v-8l1-1v5l1-6v-7l1 0v10l1-6v-10l1-3v8l1 2v-10l1-8v13l1 7v-8l1-17v26l1-3v-9l1-2v14l1-5v-12l1 10v7l1 7v-13l1 5v10l1 2v-7l1-1v11l1 0v-9l1 7v6l1 3v-12l1 1v13l1 0v-12l1 5v7l1-1v-17l1 6v10l1-3v-17l1 7v7l1-2v-6l1-6v8l1 8v-11l1 3v10l1 19v-28l1-10v23l1 1v-12l1 4v8l1 14v-16l1-9v21l1 2v-10l1 7v7l1 4v-11l1 0v7l1 3v-10l1 1v10l1-1v-8l1 0v15l1-10v-11l1-4v18l1-9v-10l1 4v14l1-20v-15l1 2v21l1-12v-6l1-2v5l1 1v-11l1-2v6l1 8v-11l1 5v8l1 4v-7l1 5v6l1 2v-9l1 11v11l1-1v-6l1-5v12l1-2v-10l1 3v14l1 5v-5l1 2v10l1-1v-9l1 2v5l1 4v-11l1 12v5l1 4v-14l1 4v16l1 5v-11l1-9v10l1-9v-7l1-6v9l1-3v-7l1-7v7l1 1v-11l1-5v8l1-5v-6l1-5v6l1 5v-8l1 0v5l1-4v-8l1-4v11l1-8v-9l1 2v10l1-2v-7l1-3v8l1 0v-6l1-3v7l1 4v-10l1 2v5l1 9v-16l1 3v13l1-3v-7l1-2v6l1 2v-15l1 10v8l1 7v-11l1 3v9l1 3v-8l1-8v16l1 5v-7l1-3v19l1-5v-8l1 4v7l1-3v-12l1 0v7l1-7v-11l1 1v16l1-17v-8l1-16v24l1 3v-9l1-3v12l1 2v-9l1 3v5l1 4v-10l1 2v12l1 4v-7l1-5v17l1 4v-18l1 6v14l1-3v-7l1 1v6l1 13v-14l1-1v12l1-8v-5l1-5v8l1-3v-12l1-4v12l1-7v-7l1-3v14l1-8v-8l1 1v9l1 2v-7l1-1v13l1 7v-9l1 0v10l1 5v-8l1 0v12l1 0v-7l1 7v8l1 8v-16l1 3v17l1-5v-14l1 6v9l1 13v-27l1 10v11l1 0v-12l1-1v12l1 4v-8l1 0v9l1-1v-9l1 0v10l1 2v-16l1 11v30l1-16v-6l1 3v8l1-3v-17l1-3v30l1 4v-14l1-8v22l1-9v-8l1-3v6l1 7v-28l1 3v14l1 0v-8l1 2v9l1 10v-12l1 7v10l1 10v-12l1-1v16l1 11v-15l1 8v13l1-2v-24l1 4v10l1-2v-16l1 4v8l1 5v-7l1-1v8l1-2v-7l1-8v14l1 4v-8l1 3v7l1 1v-9l1 9v5l1-6v-7l1 0v16l1-7v-15l1 6v6l1 14v-23l1-6v7l1 3v-9l1-1v18l1-10v-9l1-11v15l1-3v-6l1-3v10l1-7v-7l1-6v11l1-4v-9l1 1v7l1 6v-12l1 4v8l1 2v-15l1-2v15l1-3v-7l1-4v23l1-10v-11l1-1v12l1 6v-22l1-4v9l1 5v-19l1 10v7l1-5v-16l1-1v14l1-4v-18l1 7v9l1-3v-9l1-14v21l1 0v-14l1 24v9l1 12v-13l1 5v5l1 2v-9l1 7v10l1-5v-8l1-7v21l1-7v-5l1 1v18l1 0v-12l1 1v7l1 4v-6l1 3v14l1-1v-6l1-6v23l1 1v-7l1 1v6l1 6v-10l1-6v9l1-7v-9l1 1v5l1-1v-7l1-10v12l1-7v-5l1 0v9l1-3v-6l1-4v8l1 4v-12l1-2v9l1-3v-11l1 1v7l1-6v-7l1-4v8l1-2v-5l1-6v16l1 0v-13l1 4v6l1-1v-10l1 6v7l1 3v-10l1-4v7l1 4v-7l1-23v22l1 0v-9l1 3v7l1 2v-8l1 4v9l1 9v-15l1-2v8l1 1v-11l1 2v11l1-7v-7l1-9v15l1-8v-5l1-10v15l1-3v-7l1-8v15l1 2v-13l1-4v14l1-3v-9l1 6v24l1-4v-16l1 13v5l1 6v-11l1 13v7l1 10v-15l1 7v10l1-2v-8l1-10v6l1-2v-7l1-4v6l1 13v-22l1 1v8l1 4v-21l1 16v10l1 1v-8l1-5v9l1 2v-9l1-4v10l1 3v-17l1-2v12l1-11v-10l1-3v7l1 1v-11l1 8v12l1-1v-9l1 6v11l1 6v-14l1 6v13l1 16v-20l1-14v17l1 2v-11l1-6v10l1 0v-11l1 0v17l1-10v-11l1-1v10l1-6v-8l1-3v7l1-1v-8l1-3v9l1-3v-9l1-1v13l1-6v-6l1-5v8l1-2v-8l1 3v5l1 0v-6l1-5v10l1-8v-12l1-3v15l1-4v-16l1 0v5l1-8v-8l1-6v17l1-8v-8l1-1v14l1-11v-5l1 4v8l1-4v-12l1-6v22l1-7v-9l1-3v9l1-2v-12l1 6v11l1 7v-12l1 12v16l1-10v-6l1 5v10l1 7v-7l1-12v21l1 0v-8l1 4v14l1 8v-14l1 9v6l1 6v-19l1 8v12l1 8v-16l1 5v9l1 3v-9l1 1v19l1-7v-6l1 1v8l1-2v-6l1 0v7l1 3v-18l1 15v6l1 5v-6l1 2v8l1 0v-15l1 7v12l1 3v-10l1-4v13l1 9v-12l1 1v11l1-3v-6l1-1v18l1-2v-7l1-4v14l1 6v-6l1 8v13l1-2v-10l1 6v21l1-11v-9l1 8v7l1 2v-14l1 1v8l1 2v-16l1 0v9l1-2v-24l1 14v8l1 8v-18l1 6v6l1-1v-7l1 5v11l1-4v-9l1-4v18l1 0v-9l1-4v18l1 4v-8l1 3v8l1 7v-5l1 3v9l1 7v-17l1-5v11l1 11v-14l1 8v5l1 0v-13l1-2v8l1-6v-13l1 4v9l1-2v-10l1 2v6l1 3v-9l1-8v11l1 0v-7l1-1v9l1-3v-5l1-1v6l1 1v-14l1 3v10l1-8v-7l1 1v5l1 2v-5l1 2v6l1 13v-11l1-3v10l1 8v-19l1 2v10l1 9v-12l1-7v9l1 3v-6l1 0v7l1 1v-10l1 3v7l1 4v-10l1-10v14l1 3v-5l1-3v9l1-7v-5l1 7v9l1 31v-32l1 11v5l1 8v-21l1 17v21l1-16v-21l1 10v19l1-11v-6l1-5v7l1-2v-9l1 4v8l1-13v-7l1 0v8l1-10v-7l1-13v21l1-3v-21l1 5v7l1-8v-16l1 3v10l1-10v-7l1-1v10l1 6v-8l1 11v10l1 5v-7l1 13v10l1-10v-9l1 4v12l1-2v-17l1 7v14l1 2v-11l1-1v13l1 11v-22l1-1v12l1-4v-8l1 0v11l1 1v-19l1 13v12l1 4v-12l1-5v7l1 2v-14l1 10v10l1 5v-12l1-5v11l1-11v-14l1 1v14l1-4v-13l1-7v13l1 6v-12l1-3v10l1-6v-6l1-6v11l1 4v-8l1-7v9l1 3v-10l1 5v11l1-1v-7l1 6v7l1 7v-12l1 9v8l1-8v-7l1-3v6l1 5v-8l1-25v26l1-1v-8l1-13v17l1-8v-5l1-3v17l1-14v-8l1-6v10l1-6v-9l1 2v11l1-2v-7l1 1v7l1 1v-9l1 6v5l1 12v-27l1 16v6l1-2v-10l1-7v9l1-6v-6l1-3v10l1-6v-8l1-4v9l1-5v-6l1-17v20l1-2v-14l1-3v20l1-4v-10l1 1v8l1 6v-8l1-1v10l1 4v-9l1 5v6l1 3v-9l1-3v7l1 5v-12l1 1v5l1 2v-12l1-9v16l1-6v-7l1-4v12l1-4v-7l1-3v12l1 0v-12l1-9v18l1-2v-12l1 2v6l1 7v-10l1-8v6l1-1v-6l1-2v12l1 2v-8l1-4v14l1 9v-17l1-2v14l1 8v-12l1 2v11l1 5v-19l1 7v10l1-3v-8l1-1v7l1 6v-9l1-14v23l1 3v-10l1-1v28l1-20v-9l1-2v6l1 5v-9l1 0v5l1 0v-14l1-4v17l1-3v-6l1 3v5l1 3v-9l1-13v19l1-1v-7l1 2v6l1 10v-8l1 12v8l1 11v-12l1 4v6l1 0v-5l1-5v13l1 6v-14l1 4v5l1 7v-11l1-1v7l1 5v-16l1 4v9l1 1v-14l1 2v7l1 4v-11l1-4v9l1 4v-12l1 8v12l1 2v-7l1-3v8l1 12v-20l1-1v12l1-2v-9l1-5v15l1-1v-18l1 0v6l1 3v-8l1-8v9l1 1v-17l1 6v9l1-5v-7l1-3v7l1 4v-5l1 3v11l1 12v-25l1 0v12l1 2v-11l1 1v6l1 5v-15l1 13v9l1 1v-11l1 5v13l1 12v-11l1 7v9l1 3v-6l1 10v10l1-9v-17l1 0v6l1-2v-10l1 0v10l1-8v-8l1-10v18l1-9v-14l1 8v8l1 1v-19l1 0v8l1-3v-7l1-3v8l1-3v-9l1-4v9l1-1v-9l1-9v26l1-16v-10l1 0v6l1-3v-12l1 0v6l1-3v-13l1 6v10l1 3v-10l1 3v7l1-4v-10l1-8v12l1 3v-12l1 3v10l1 3v-10l1-1v9l1-2v-8l1-3v11l1-1v-12l1 0v10l1 0v-8l1-12v27l1-9v-16l1 16v6l1 13v-29l1 13v11l1 3v-14l1 3v8l1 0v-14l1 5v10l1-1v-5l1-3v8l1 1v-20l1 10v16l1-8v-6l1-1v7l1 6v-7l1 7v6l1-2v-9l1 5v5l1 1v-23l1 21v5l1 8v-22l1 2v15l1-1v-17l1 5v7l1 1v-13l1-12v17l1-1v-8l1-2v10l1-6v-7l1-2v5l1 1v-9l1-10v12l1 9v-26l1 4v8l1 5v-12l1-5v16l1-1v-12l1-3v14l1-1v-20l1 14v10l1 3v-9l1 1v8l1 4v-8l1 3v10l1 18v-25l1 3v12l1-1v-10l1 7v7l1 5v-16l1 7v10l1 7v-7l1 1v8l1-1v-6l1 0v11l1 2v-18l1 2v19l1 7v-34l1 9v6l1-3v-6l1 0v14l1-1v-12l1-2v7l1 3v-16l1 3v5l1 4v-11l1 3v9l1-3v-8l1 2v9l1 5v-5l1-4v9l1 9v-12l1 5v13l1-1v-16l1 5v10l1 1v-13l1 7v7l1 4v-18l1 12v8l1 1v-5l1 4v7l1 2v-8l1 8v8l1-1v-9l1 1v11l1 6v-17l1 6v8l1 4v-10l1 6v5l1 10v-16l1 1v13l1 4v-10l1-1v10l1 0v-6l1-3v7l1-2v-8l1-7v9l1 0v-7l1-6v17l1-14v-12l1-3v8l1 2v-9l1 0v17l1 7v-17l1 6v16l1 3v-9l1 1v7l1 8v-9l1 6v8l1 4v-12l1 3v9l1 1v-9l1 2v12l1 7v-6l1 3v10l1 2v-9l1-5v13l1 7v-13l1 2v16l1-5v-12l1 1v10l1-10v-11l1-4v11l1 6v-16l1-3v9l1 1v-8l1 2v8l1 2v-10l1 4v11l1 9v-16l1 1v7l1 7v-14l1 6v11l1 1v-11l1 1v13l1 3v-10l1 0v13l1-1v-6l1 2v5l1 1v-5l1-3v8l1-4v-10l1 5v10l1-8v-11l1 5v13l1-9v-15l1 3v9l1-5v-8l1-4v6l1 4v-7l1-12v11l1 5v-10l1-11v13l1 0v-10l1 0v13l1-7v-10l1 7v13l1 9v-20l1-4v9l1 10v-10l1 4v12l1 6v-12l1-10v24l1-2v-8l1-12v11l1 4v-16l1 2v6l1-8v-6l1-11v14l1-2v-15l1 14v11l1-3v-8l1-10v11l1-1v-10l1 1v10l1 6v-13l1-4v8l1-2v-10l1-6v12l1 1v-14l1-16v25l1 0v-14l1-6v9l1-6v-16l1 1v8l1 1v-13l1 4v12l1 3v-18l1 2v14l1-7v-7l1-4v10l1-2v-7l1-1v11l1-2v-9l1 1v23l1-20v-12l1-2v5l1-1v-5l1-3v9l1 4v-22l1 9v9l1-3v-10l1 1v6l1 7v-15l1 6v21l1-10v-9l1-5v15l1 4v-5l1-5v12l1 6v-6l1-5v15l1 3v-6l1-1v6l1 6v-9l1 2v8l1-6v-13l1-3v11l1 3v-14l1-6v10l1-2v-9l1 2v9l1-3v-6l1-3v8l1 0v-11l1-3v10l1 7v-9l1-1v6l1 0v-13l1 9v29l1-17v-14l1 5v5l1 1v-8l1 5v9l1 2v-11l1-9v26l1 5v-19l1-3v7l1-2v-7l1-6v9l1-6v-8l1-3v7l1-7v-11l1-3v10l1-8v-10l1-7v6l1 3v-14l1-6v13l1-7v-14l1 0v19l1-6v-10l1-9v14l1 11v-19l1-5v13l1-7v-6l1-4v11l1 10v-23l1 3v5l1-3v-5l1-8v11l1-7v-18l1 0v6l1-5v-9l1-9v13l1 2v-10l1 2v5l1 1v-6l1 5v8l1-1v-5l1 3v8l1 4v-8l1-12v17l1 4v-11l1 3v7l1 5v-9l1 3v9l1 5v-15l1 9v7l1 17v-22l1 8v15l1-7v-8l1-4v8l1-4v-16l1 4v13l1-2v-12l1-15v9l1-2v-16l1-1v5l1-8v-14l1 2v6l1 6v-7l1 3v8l1-1v-17l1 7v11l1-2v-16l1 12v8l1 10v-19l1 4v7l1-2v-22l1 11v12l1-1v-16l1 9v10l1 7v-18l1 2v10l1 7v-13l1-3v11l1 5v-11l1-4v5l1 3v-14l1-3v12l1-1v-8l1-3v11l1-2v-12l1-1v7l1 4v-14l1 8v8l1-2v-6l1 7v9l1-5v-17l1 6v6l1 3v-18l1 8v9l1-7v-13l1-4v7l1-4v-8l1-7v13l1-2v-11l1 5v6l1 6v-10l1 3v6l1 4v-11l1 9v6l1-3v-6l1 1v21l1-11v-25l1 7v11l1-5v-13l1-3v15l1-3v-7l1 2v11l1-5v-14l1-14v13l1 2v-6l1-9v8l1 6v-19l1 6v9l1 2v-12l1 2v5l1-2v-6l1-4v13l1 6v-8l1 5v8l1 5v-9l1 4v12l1 13v-24l1 5v10l1 5v-7l1-1v10l1-4v-11l1 0v9l1-3v-5l1-4v12l1-8v-8l1-2v21l1-13v-12l1 3v7l1 7v-15l1-5v11l1-5v-6l1 4v6l1-3v-6l1-10v16l1 2v-15l1-10v9l1 13v-13l1-1v9l1 3v-12l1 7v11l1 9v-10l1-9v12l1 2v-6l1 2v10l1-4v-5l1 6v10l1 6v-13l1-2v10l1 2v-8l1-7v20l1-2v-6l1 3v6l1 1v-14l1 3v13l1 1v-9l1-6v21l1-2v-5l1-3v11l1-4v-7l1 0v9l1 1v-7l1 0v19l1-4v-7l1 1v14l1-5v-7l1 0v13l1 3v-10l1 10v9l1 0v-19l1 11v9l1 12v-13l1 1v5l1 16v-17l1-7v16l1-5v-8l1-3v14l1 5v-10l1-1v13l1-3v-8l1-14v16l1-1v-25l1 15v13l1-9v-10l1 4v6l1 6v-10l1 2v6l1 3v-10l1 3v6l1 3v-7l1 2v7l1 8v-12l1 0v11l1-2v-14l1-3v10l1-2v-6l1-6v9l1-6v-11l1-12v23l1-6v-9l1-8v24l1-12v-9l1-9v12l1-9v-9l1-4v6l1-4v-7l1-11v14l1-15v-11l1 3v9l1 16v-22l1-3v13l1 1v-6l1-1v7l1 8v-12l1-2v14l1-1v-5l1-16v13l1 4v-9l1-5v13l1-10v-5l1 6v6l1 12v-20l1-2v12l1 8v-12l1 0v18l1-4v-6l1-3v17l1 0v-12l1-3v10l1 4v-9l1 5v10l1 2v-7l1 1v11l1 0v-10l1-8v9l1-5v-8l1-5v7l1-3v-9l1-8v11l1 3v-17l1-3v10l1-4v-5l1-2v16l1-5v-26l1 12v10l1 6v-18l1-1v12l1 2v-15l1 2v8l1 7v-22l1 7v11l1 7v-24l1 8v9l1 0v-9l1 2v7l1 11v-20l1 4v9l1 3v-17l1-1v17l1 2v-10l1 4v7l1 4v-10l1-9v14l1 6v-8l1 4v8l1 15v-18l1-3v9l1 9v-9l1-6v19l1-2v-7l1-6v12l1-4v-6l1-6v8l1 2v-9l1-5v10l1-4v-13l1 3v7l1 5v-6l1-14v15l1-4v-13l1 1v9l1-2v-7l1-2v18l1-9v-14l1 8v8l1-4v-8l1 6v12l1-4v-6l1 0v9l1 4v-12l1-5v28l1-22v-5l1-10v16l1-6v-10l1-1v17l1 15v-24l1 4v8l1-4v-8l1-7v15l1 2v-4l1-8v13l1 9v-14l1 4v9l1 2v-7l1-1v8l1 5v-17l1 4v6l1 2v-14l1-14v19l1-7v-11l1 0v6l1-1v-17l1 1v8l1-3v-6l1 3v11l1 7v-20l1 10v10l1 1v-14l1-2v17l1-5v-11l1 8v6l1 1v-11l1 6v10l1 1v-10l1-6v20l1-4v-10l1 0v11l1 10v-6l1 0v17l1-2v-12l1 5v8l1 4v-13l1 3v17l1-9v-15l1-2v6l1 8v-15l1-1v10l1-6v-7l1-2v11l1 4v-15l1 4v11l1 0v-12l1 4v17l1-6v-21l1 14v6l1 0v-5l1-7v6l1 2v-7l1-4v5l1 3v-10l1 0v7l1-7v-11l1-5v10l1 1v-7l1 4v7l1 2v-8l1 1v12l1-7v-14l1 1v8l1 0v-6l1-5v11l1 8v-26l1 13v12l1 1v-19l1 10v12l1 1v-9l1 0v7l1-4v-12l1-3v12l1 2v-15l1 2v20l1-17v-6l1-5v10l1 4v-13l1 3v12l1-11v-7l1-3v16l1-6v-19l1 14v10l1-2v-17l1 12v7l1-2v-12l1 7v13l1 0v-6l1-5v9l1 8v-7l1 3v6l1 3v-6l1-2v10l1 9v-10l1-2v10l1 8v-13l1-3v13l1 3v-10l1 2v19l1-9v-6l1 2v6l1 24v-32l1 5v8l1 1v-9l1 5v7l1-2v-8l1 4v6l1 11v-25l1-3v22l1-26v-8l1 7v6l1 1v-5l1-2v7l1 3v-7l1-6v14" stroke="#00ff00"/>
<path d="M255.5 606v16l1-1v-12l1-1v12l1-5v-8l1-3v9l1 2v-8l1-2v12l1-7v-10l1 3v9l1 5v-15l1 2v7l1-5v-5l1-2v14l1-6v-6l1-8v14l1 0v-12l1-1v10l1 8v-7l1 1v8l1 1v-12l1 2v16l1-6v-6l1-6v9l1-1v-8l1 0v8l1-4v-7l1-14v12l1-2v-7l1-8v11l1-1v-15l1 5v9l1 5v-10l1 1v8l1 2v-6l1-1v12l1-1v-20l1 2v9l1 3v-6l1-3v11l1 1v-11l1-3v17l1 24v-24l1-3v6l1 2v-6l1-6v7l1-5v-6l1-17v20l1-1v-12l1-5v7l1 9v-25l1-5v8l1 7v-16l1 5v14l1-2v-6l1 4v12l1-5v-16l1 10v10l1 6v-9l1 0v9l1-3v-5l1 0v5l1 6v-11l1-6v11l1 8v-9l1-1v23l1-5v-10l1-2v27l1-16v-7l1-1v14l1 0v-10l1-6v11l1 3v-13l1 0v12l1-4v-9l1 1v6l1-4v-7l1-10v19l1-1v-10l1 0v8l1-4v-20l1 20v9l1 5v-6l1-1v10l1-6v-6l1-2v9l1-2v-10l1-1v18l1-10v-15l1-5v19l1-5v-9l1-2v17l1-7v-14l1-1v10l1 1v-6l1-5v14l1-3v-6l1-6v5l1 2v-12l1 0v10l1 2v-13l1-5v24l1-15v-13l1-2v13l1-9v-6l1 2v11l1-4v-9l1-7v14l1-4v-7l1-8v11l1-1v-17l1-9v11l1-1v-13l1-3v10l1-5v-6l1-3v15l1 8v-17l1 5v7l1 7v-11l1-2v17l1 1v-8l1 7v14l1-5v-5l1 2v6l1-3v-6l1-2v8l1 1v-13l1 4v7l1-3v-7l1 2v8l1 6v-7l1 4v6l1 5v-9l1 5v6l1 9v-21l1 19v10l1 7v-30l1 22v6l1 8v-7l1 2v13l1 8v-10l1 4v15l1-9v-9l1-3v11l1 8v-13l1-3v11l1-3v-9l1 4v9l1-5v-7l1 2v6l1 1v-7l1-6v7l1 6v-11l1 0v9l1-1v-14l1 4v7l1-6v-9l1-1v10l1-9v-8l1-3v7l1 5v-8l1-1v14l1 1v-10l1-2v11l1 5v-19l1-3v20l1 5v-14l1 7v17l1-7v-9l1 6v22l1-1v-14l1-4v18l1 9v-14l1 5v12l1 10v-13l1-1v13l1 3v-10l1 8v12l1 0v-10l1 1v19l1-10v-6l1-3v11l1-1v-7l1 6v7l1-2v-8l1 1v7l1 15v-22l1-10v22l1 1v-17l1-6v21l1 15v-28l1-3v6l1 3v-15l1 3v9l1 12v-16l1 0v9l1 3v-13l1 6v7l1-4v-5l1-13v15l1 5v-13l1-4v6l1-4v-13l1 5v7l1-7v-15l1-4v16l1-7v-7l1-9v9l1-3v-5l1-6v7l1 1v-16l1 1v7l1 2v-9l1-2v7l1-1v-9l1 0v12l1-4v-12l1 1v11l1-1v-11l1 5v14l1-8v-13l1-1v13l1 1v-16l1-6v9l1 1v-7l1 2v12l1-4v-10l1-5v21l1-8v-8l1-4v11l1 2v-7l1 1v7l1 5v-5l1-5v12l1 8v-18l1 3v14l1-8v-5l1-11v14l1 0v-11l1-4v17l1-5v-11l1 7v10l1 3v-8l1-10v11l1 7v-15l1 7v13l1-8v-9l1 1v9l1 0v-10l1 6v12l1-11v-7l1-1v15l1-4v-7l1 1v6l1 4v-6l1-3v6l1 3v-7l1 0v9l1 4v-15l1-5v13l1-3v-8l1 0v9l1-3v-11l1 6v7l1 1v-10l1 1v12l1 0v-8l1-16v33l1-6v-11l1 3v10l1 5v-6l1 6v16l1 2v-8l1-2v14l1 12v-13l1 7v7l1 4v-5l1 2v8l1 5v-14l1-4v9l1-5v-6l1-2v6l1 3v-10l1-7v11l1-1v-8l1 2v6l1 4v-8l1-2v8l1 1v-7l1-6v10l1 2v-6l1-5v17l1-4v-5l1 3v6l1 0v-8l1-3v11l1 5v-13l1 2v12l1 6v-22l1 11v10l1 1v-5l1-5v10l1 2v-7l1 5v8l1-3v-6l1 7v8l1 3v-15l1 0v7l1 7v-7l1-2v9l1 1v-9l1 7v15l1-6v-11l1 4v11l1 0v-6l1 1v11l1 6v-7l1 2v10l1-6v-9l1 5v6l1-2v-7l1 1v10l1-3v-13l1 4v6l1 3v-9l1 4v6l1 5v-10l1-5v13l1-5v-5l1 0v4l1-1v-8l1 4v9l1-2v-10l1 7v6l1 3v-9l1 2v9l1 9v-8l1-8v13l1 4v-16l1 10v11l1 1v-20l1 5v15l1-7v-10l1 2v6l1 5v-9l1-2v11l1-2v-12l1 1v19l1-5v-12l1-9v12l1 3v-6l1 7v8l1 0v-6l1 1v11l1-2v-9l1 0v8l1 4v-7l1 1v13l1 10v-13l1 0v11l1 9v-16l1-4v11l1 0v-9l1-1v9l1 1v-11l1-3v7l1 2v-9l1 1v14l1 4v-19l1 2v15l1-6v-4l1-12v13l1-2v-7l1-8v17l1-1v-8l1-7v13l1 0v-7l1-7v16l1-6v-6l1-2v12l1-1v-13l1-2v9l1-6v-10l1-4v16l1-2v-6l1-6v9l1-2v-7l1-6v10l1-4v-10l1-21v24l1-1v-6l1 0v8l1 9v-8l1 7v8l1-2v-5l1-1v15l1-4v-11l1 8v6l1 7v-10l1-6v11l1 4v-20l1 0v17l1-3v-18l1 10v14l1-3v-8l1 4v15l1-7v-5l1-1v5l1 2v-12l1-2v14l1 2v-7l1-1v10l1-5v-8l1 2v7l1 16v-25l1-10v18l1-4v-12l1 3v11l1-4v-20l1 6v14l1-8v-8l1-6v12l1-3v-8l1-5v6l1 2v-11l1 1v8l1-5v-10l1 0v18l1-14v-10l1 1v10l1 0v-18l1 5v6l1-1v-9l1-4v8l1-2v-7l1-6v13l1 8v-20l1 11v9l1 2v-5l1-2v12l1-1v-21l1 16v9l1 3v-6l1 10v5l1 6v-11l1 2v15l1-7v-7l1 0v7l1 2v-13l1 2v7l1 9v-17l1 8v7l1-2v-10l1-5v10l1 7v-18l1 1v11l1-3v-10l1-4v17l1 1v-6l1 2v8l1 8v-18l1-1v11l1 10v-14l1 2v8l1-2v-6l1 2v7l1 8v-20l1 7v10l1-4v-6l1 1v7l1 3v-11l1 1v7l1 9v-18l1-2v9l1 2v-9l1 3v8l1-1v-5l1 3v5l1 15v-22l1 6v9l1 0v-11l1 5v7l1 6v-15l1 7v18l1-1v-14l1-4v12l1 1v-9l1 6v8l1 1v-7l1 2v17l1-10v-10l1 2v8l1 3v-13l1-3v12l1 8v-12l1 2v8l1 0v-9l1 2v9l1-1v-7l1 2v16l1-9v-6l1 0v9l1-3v-8l1-5v11l1-3v-7l1-4v11l1-2v-18l1 10v10l1-2v-7l1-3v10l1 4v-19l1 0v13l1 9v-21l1 7v10l1-8v-7l1-3v10l1-2v-7l1-1v11l1 8v-17l1-2v10l1 0v-9l1 0v6l1 1v-5l1-6v12l1-6v-10l1 2v15l1 0v-8l1 3v6l1 4v-7l1 4v8l1 7v-18l1 12v12l1 2v-12l1 3v7l1 0v-7l1 4v10l1 1v-5l1-5v20l1-7v-8l1-5v11l1 3v-13l1-3v10l1-1v-17l1 5v6l1 9v-15l1-3v11l1-1v-9l1-5v14l1-4v-6l1-2v10l1-6v-8l1-3v6l1 5v-8l1 1v13l1-9v-8l1-3v9l1 8v-15l1 3v7l1 9v-10l1 3v8l1 4v-9l1 2v8l1 7v-13l1 3v5l1 1v-7l1 1v11l1-9v-9l1 2v6l1 2v-6l1-2v9l1-2v-10l1 7v22l1-8v-19l1 4v14l1-2v-13l1-2v12l1 1v-9l1 5v8l1 4v-11l1 1v9l1-3v-7l1-2v18l1-2v-11l1 0v9l1-3v-11l1 6v7l1 6v-11l1 4v7l1 1v-8l1 6v6l1 6v-8l1-5v11l1 1v-10l1-5v13l1-4v-12l1-2v7l1-7v-13l1 6v9l1-9v-14l1 4v10l1-5v-6l1-1v16l1-4v-14l1 6v5l1 4v-8l1 5v6l1 7v-8l1 2v11l1 4v-8l1-4v15l1 6v-10l1 5v14l1-3v-8l1 4v9l1 17v-15l1 0v9l1 0v-9l1 8v8l1 7v-13l1 1v7l1 4v-9l1-7v10l1-1v-8l1-14v23l1-4v-10l1-9v12l1-3v-9l1-3v9l1-2v-9l1-1v8l1 5v-15l1 1v11l1-1v-8l1-8v14l1 1v-11l1 1v7l1-1v-7l1 6v5l1 2v-9l1 5v8l1 6v-9l1-3v11l1-4v-7l1-1v8l1-2v-7l1-5v13l1 6v-17l1 4v6l1 1v-5l1-1v8l1-2v-7l1 3v8l1-11v-6l1 0v11l1 0v-9l1-6v12l1 12v-26l1-3v8l1-10v-14l1 4v5l1 6v-10l1-6v6l1 8v-7l1 1v12l1-1v-8l1-2v29l1-17v-10l1 0v6l1 4v-6l1 7v6l1 5v-9l1-4v14l1 8v-16l1 4v15l1-14v-18l1 7v8l1-4v-7l1-2v8l1-2v-7l1-23v22l1 3v-6l1 3v10l1 4v-9l1-1v15l1 14v-27l1 3v8l1 6v-15l1 2v5l1-3v-8l1-6v11l1-7v-9l1 2v6l1 12v-16l1 1v17l1-5v-8l1 2v10l1 2v-7l1-5v15l1 2v-13l1-4v7l1 0v-7l1-4v19l1-9v-24l1 13v10l1 6v-19l1 9v8l1 1v-11l1 2v8l1-2v-7l1 4v10l1-1v-13l1 9v10l1 0v-11l1 6v7l1-1v-14l1 6v26l1-8v-9l1-3v9l1-1v-10l1 11v6l1 6v-9l1 9v9l1-2v-8l1-7v8l1 2v-11l1 4v9l1 3v-8l1 3v8l1 9v-21l1 8v15l1-3v-18l1 5v8l1-1v-7l1-4v6l1-3v-6l1-6v11l1 0v-11l1-12v15l1-3v-15l1 9v9l1-7v-10l1 1v11l1-3v-10l1 2v6l1 9v-15l1 4v9l1 1v-9l1 4v7l1-1v-18l1 7v10l1 2v-12l1-7v11l1-5v-18l1 5v13l1 8v-8l1 3v8l1 0v-5l1 4v10l1 0v-8l1-11v17l1 5v-9l1-3v13l1 9v-11l1-7v9l1 5v-13l1-18v19l1-6v-7l1 1v8l1-6v-12l1-1v13l1-6v-12l1-2v10l1-1v-10l1-8v11l1 8v-20l1-7v12l1-6v-9l1-3v9l1-4v-15l1 5v9l1-8v-10l1 4v7l1-2v-14l1 9v14l1-11v-11l1 4v8l1 2v-8l1 4v11l1 17v-22l1 7v7l1 6v-7l1-4v25l1-8v-8l1-8v17l1-1v-12l1 9v14l1-5v-13l1 0v8l1 2v-8l1 2v6l1 5v-18l1 0v11l1 0v-8l1 3v11l1 5v-8l1 6v8l1-3v-7l1-4v13l1 2v-5l1 2v6l1 15v-11l1-2v10l1-3v-6l1-5v14l1-12v-8l1-7v10l1 3v-24l1 15v10l1-1v-7l1-12v20l1-5v-7l1-4v11l1 3v-10l1-5v15l1 4v-9l1 3v7l1 2v-6l1-15v18l1 5v-17l1 3v10l1-4v-15l1 5v8l1-2v-5l1-5v10l1 3v-10l1 10v7l1 6v-6l1 5v6l1 8v-15l1 0v22l1-5v-8l1 1v6l1 7v-11l1 7v7l1-5v-12l1-5v9l1-2v-16l1-2v9l1-1v-10l1 3v10l1-4v-11l1 0v7l1-2v-6l1 1v10l1-1v-9l1 2v10l1 6v-7l1 2v7l1 3v-8l1 4v5l1-2v-8l1-12v23l1-5v-13l1 6v11l1 2v-11l1 4v11l1-2v-9l1 3v11l1-5v-8l1 7v8l1-2v-5l1 0v10l1-5v-5l1 1v9l1-4v-9l1 0v10l1-3v-12l1-7v23l1-2v-11l1 1v8l1 5v-15l1 8v8l1 0v-15l1 6v9l1-2v-19l1 11v7l1-8v-8l1-2v15l1-1v-10l1 1v12l1-5v-7l1-8v17l1-1v-6l1-10v19l1 4v-13l1 3v6l1 4v-22l1 5v12l1 2v-14l1 0v11l1-9v-9l1-6v7l1 2v-12l1-14v10l1-6v-13l1 4v13l1-8v-11l1-5v8l1-6v-11l1-5v10l1 2v-17l1-1v14l1 0v-14l1-10v17l1-3v-7l1-3v16l1 0v-8l1-1v12l1 5v-18l1 10v13l1 2v-11l1 1v7l1 2v-10l1-15v25l1 6v-9l1 1v11l1 2v-10l1 5v10l1 0v-8l1 5v11l1-1v-10l1 2v11l1-5v-8l1-4v11l1 2v-14l1-11v16l1 0v-8l1 3v19l1-17v-9l1-2v11l1 10v-15l1-13v15l1 0v-17l1 0v6l1 9v-18l1 3v8l1-1v-9l1 2v14l1-5v-22l1 11v10l1-3v-11l1 6v6l1 5v-8l1 5v7l1 0v-14l1 0v16l1-11v-6l1-3v8l1 1v-8l1-1v28l1-7v-6l1 5v12l1-2v-15l1 14v7l1 8v-4l1-10v18l1-5v-6l1 0v8l1-3v-10l1-5v13l1-2v-10l1-1v10l1-5v-11l1 3v6l1 8v-16l1-2v9l1-4v-10l1-3v7l1-3v-7l1 0v7l1 6v-8l1-1v7l1 10v-7l1 3v6l1 1v-9l1-1v8l1 6v-8l1 1v6l1 3v-12l1 2v9l1 6v-7l1-2v6l1 15v-17l1-1v14l1 3v-9l1 0v12l1-6v-7l1-6v10l1-3v-12l1-10v15l1-2v-7l1-2v7l1 3v-9l1-5v13l1 2v-23l1 6v5l1-4v-14l1 13v5l1 8v-20l1-1v9l1-3v-6l1 3v9l1-5v-7l1-3v11l1-1v-6l1 1v12l1 3v-11l1 8v11l1-5v-6l1 0v12l1 13v-12l1-3v18l1-3v-17l1 13v18l1-2v-10l1 3v29l1-21v-9l1-3v10l1 1v-12l1-5v7l1 7v-13l1 3v9l1-3v-15l1 5v8l1 16v-25l1 3v7l1-1v-14l1-1v19l1-5v-14l1-6v17l1-1v-14l1 6v14l1-6v-9l1-8v15l1 5v-21l1 2v17l1-6v-6l1-1v10l1 3v-6l1 4v7l1-2v-6l1-3v20l1-3v-8l1-1v17l1-7v-10l1 2v7l1 6v-16l1 5v8l1 5v-6l1-3v18l1 3v-10l1 1v12l1-4v-11l1 8v6l1 3v-10l1-7v13l1-4v-9l1-5v13l1-5v-17l1 1v17l1-5v-6l1-1v5l1-4v-8l1 0v5l1-3v-8l1 4v18l1-8v-8l1 9v8l1-9v-11l1 4v11l1 4v-10l1-6v26l1-5v-7l1 1v6l1 0v-13l1 9v5l1 9v-11l1 0v16l1 1v-15l1 1v21l1-11v-9l1 5v5l1 2v-8l1-1v8l1 5v-8l1-5v19l1-8v-18l1 10v4l1-1v-30l1 23v8l1-1v-8l1-8v10l1 6v-11l1-5v11l1 7v-21l1-4v7l1-3v-7l1-3v7l1-2v-18l1-1v19l1-5v-7l1 0v10l1-8v-7l1-5v8l1 1v-12l1-11v11l1 2v-11l1-6v14l1-6v-12l1 2v10l1 6v-14l1-7v14l1-4v-9l1-7v24l1-9v-9l1 6v11l1-4v-6l1 8v7l1 2v-7l1-2v5l1 1v-6l1-3v11l1 5v-11l1 5v9l1-1v-6l1-6v15l1 1v-11l1 6v10l1-3v-8l1 1v12l1-1v-6l1-2v12l1 8v-8l1-9v14l1 1v-5l1 6v8l1-2v-6l1-2v10l1 9v-15l1 0v8l1 15v-20l1 5v7l1 9v-15l1-6v19l1 14v-16l1-5v18l1 5v-8l1-8v12l1 3v-14l1 1v7l1 0v-18l1 4v12l1-2v-7l1-4v6l1 4v-12l1 3v10l1-5v-14l1 5v8l1 8v-21l1 7v10l1 1v-9l1-11v15l1-2v-4l1 1v7l1 6v-15l1-6v10l1 1v-6l1-10v14l1 6v-12l1 5v14l1-4v-5l1 2v8l1 1v-14l1 2v14l1 4v-24l1 8v8l1 2v-11l1 5v6l1 4v-7l1-4v15l1 1v-9l1 1v6l1 10v-14l1 3v6l1 3v-13l1-3v16l1 5v-13l1 1v15l1 2v-11l1 3v5l1 11v-22l1 6v8l1 1v-7l1 3v6l1 6v-11l1 7v8l1 7v-8l1 7v6l1 0v-7l1 4v5l1 5v-9l1-3v10l1-3v-9l1-3v8l1 2v-10l1 0v8l1-5v-10l1 3v9l1 3v-13l1 1v8l1-1v-13l1-4v14l1 4v-11l1 4v6l1 3v-15l1 2v12l1-1v-10l1 1v12l1 3v-11l1 1v9l1 1v-9l1-8v16l1 1v-10l1-5v8l1-1v-7l1-7v16l1 0v-10l1 3v12l1-2v-6l1 2v7l1 2v-8l1-2v17l1-5v-6l1 0v8l1 2v-10l1 11v6l1 0v-9l1 5v8l1 3v-12l1 10v7l1 2v-9l1 1v13l1 5v-9l1 2v9l1-3v-10l1 6v11l1-4v-7l1 6v9l1-1v-6l1-7v7l1-6v-8l1-2v8l1-5v-7l1 1v7l1 4v-7l1-4v11l1 0v-9l1 5v9l1 2v-9l1 3v10l1 2v-6l1 6v7l1 9v-8l1 5v8l1 7v-10l1 5v13l1 2v-10l1-11v24l1 2v-10l1 3v8l1-4v-16l1-3v10l1-4v-8l1-5v11l1-3v-13l1-3v12l1-7v-12l1-6v9l1-11v-6l1-1v6l1-2v-14l1 1v6l1 1v-12l1-4v17l1-4v-11l1-1v19l1-12v-8l1-5v8l1-1v-8l1 4v7l1 5v-11l1-7v18l1 3v-7l1-2v14l1-4v-11l1-16v19l1-1v-12l1-11v23l1-6v-17l1 10v14l1 3v-16l1 3v11l1 1v-17l1 3v13l1 3v-9l1 4v17l1-7v-8l1 0v13l1-6v-10l1 5v9l1 2v-15l1 4v8l1 0v-7l1-3v15l1-2v-6l1-1v9l1 1v-11l1 2v8l1 6v-16l1 1v12l1 2v-16l1 1v9l1 2v-12l1-1v8l1 2v-12l1-6v11l1-3v-7l1 2v11l1 4v-16l1 3v11l1-6v-6l1-3v15l1-9v-14l1 5v5l1-4v-9l1-5v11l1-2v-7l1-14v23l1-10v-11l1 1v6l1 4v-11l1-7v14l1-11v-6l1-3v9l1 1v-10l1 1v6l1 6v-19l1-8v20l1-4v-27l1 25v8l1 10v-18l1 6v9l1 5v-10l1 7v5l1-1v-5l1-21v17l1-5v-11l1 1v5l1 2v-15l1-5v16l1-5v-7l1 1v15l1-10v-12l1-2v6l1-2v-15l1 5v9l1 3v-12l1 3v9l1 0v-18l1 0v10l1 1v-8l1-4v8l1 1v-8l1-7v6l1 0v-12l1 0v14l1-8v-8l1-8v14l1 1v-8l1-4v8l1-6v-6l1-5v9l1-8v-9l1 2v5l1-6v-13l1 2v16l1-9v-9l1-4v8l1-3v-20l1 9v7l1 1v-10l1 1v5l1-2v-7l1 0v17l1 4v-15l1-14v23l1 3v-6l1 1v7l1 3v-10l1-9v19l1 3v-17l1 6v13l1 2v-16l1 0v26l1-13v-6l1 3v7l1 5v-13l1 1v20l1-3v-14l1 2v7l1-1v-10l1 2v12l1-4v-8l1 2v5l1-1v-10l1 5v8l1-7v-7l1 1v6l1-1v-15l1 6v12l1-7v-9l1 0v6l1 0v-8l1-2v14l1-1v-13l1-3v11l1 0v-13l1-3v10l1-2v-9l1-4v10" stroke="#00ffff"/>
<path d="M255.5 603v12l1 8v-11l1-11v9l1-2v-9l1 1v7l1-3v-8l1 7v7l1 2v-12l1 3v8l1 5v-10l1 0v13l1-7v-9l1 6v4l1-5v-8l1-1v20l1-5v-8l1 1v13l1-11v-11l1-9v23l1-6v-8l1-5v8l1 8v-14l1 0v19l1-5v-12l1 4v9l1 3v-22l1 9v13l1-3v-6l1-1v13l1-4v-7l1-1v9l1 9v-17l1-2v10l1 5v-15l1-2v11l1 4v-16l1-3v13l1 3v-10l1-5v6l1 3v-17l1-1v10l1 1v-11l1-2v7l1 0v-10l1-4v8l1-6v-8l1-5v12l1 1v-19l1 2v12l1-6v-7l1 4v8l1-6v-8l1 1v8l1-3v-11l1-5v9l1-5v-6l1-8v9l1 4v-6l1 5v11l1 6v-9l1 7v7l1-4v-10l1-2v8l1-3v-13l1-3v14l1-6v-8l1-4v7l1 1v-9l1-6v6l1 6v-18l1 0v14l1-6v-6l1-10v17l1 1v-9l1-7v15l1-7v-11l1-6v13l1-8v-15l1 0v5l1-5v-5l1-3v6l1 4v-23l1 14v7l1-6v-7l1-3v7l1 8v-11l1-2v6l1-1v-18l1 3v16l1-7v-9l1-14v18l1-6v-6l1-2v7l1-4v-10l1-1v8l1-5v-5l1-6v17l1-17v-12l1 5v6l1-5v-14l1-4v7l1 4v-11l1 6v7l1 7v-12l1-22v15l1 14v-25l1 13v7l1-10v-9l1-2v10l1-5v-10l1-1v15l1 3v-15l1 1v12l1 5v-13l1 1v17l1-5v-21l1 3v13l1 3v-7l1-1v5l1-3v-7l1-7v13l1-4v-8l1-2v9l1-2v-10l1 8v9l1 3v-11l1-3v15l1 2v-20l1 14v7l1 2v-9l1 4v10l1-3v-8l1-2v12l1 8v-13l1-2v18l1-8v-11l1 5v6l1 0v-6l1 0v11l1-12v-9l1-1v13l1 0v-14l1 1v7l1-5v-13l1 3v12l1-3v-8l1-13v18l1 2v-8l1 0v6l1-4v-7l1 3v8l1 3v-17l1-1v8l1 0v-6l1-3v8l1 5v-14l1 1v5l1-1v-9l1-4v10l1-2v-7l1-11v12l1 7v-18l1-1v10l1 0v-9l1 6v5l1 7v-10l1 1v10l1 3v-20l1 5v21l1 10v-12l1-5v5l1 2v-9l1 3v12l1-13v-5l1-2v14l1-5v-10l1-3v11l1-7v-12l1-5v18l1 10v-20l1 4v14l1 14v-19l1 4v12l1-7v-13l1-4v16l1-2v-11l1-4v22l1 14v-26l1-10v21l1-9v-9l1-12v19l1 2v-13l1-10v19l1 4v-13l1 6v13l1-9v-13l1-5v11l1-7v-13l1 8v9l1-6v-10l1-6v10l1 11v-19l1-5v15l1-2v-9l1 1v14l1-6v-11l1 0v10l1 10v-12l1-1v13l1-5v-18l1 2v8l1-2v-9l1-2v13l1 18v-28l1-4v16l1 1v-11l1-3v10l1-1v-14l1-1v8l1-2v-18l1 7v6l1-5v-11l1-1v10l1-7v-7l1-4v6l1 0v-12l1 1v11l1-5v-5l1-2v7l1-4v-5l1 0v5l1-5v-11l1-2v10l1-6v-15l1 5v11l1 5v-7l1-2v6l1 8v-7l1 0v6l1 4v-14l1 4v16l1-5v-13l1 4v5l1-4v-6l1-1v11l1-3v-6l1-1v7l1 8v-12l1-6v13l1-4v-7l1-3v8l1-3v-12l1 8v9l1 1v-12l1 2v8l1 7v-19l1 7v7l1-3v-10l1-9v16l1-3v-16l1 2v14l1 3v-11l1 0v6l1-6v-11l1 6v9l1-1v-7l1-3v16l1 2v-17l1 4v7l1-1v-6l1-2v9l1-4v-7l1-5v10l1 5v-15l1 1v9l1-5v-6l1-4v12l1 2v-19l1-12v19l1 11v-10l1 5v7l1 15v-27l1 10v8l1-4v-7l1 4v10l1-4v-5l1-1v10l1-8v-7l1-3v7l1 4v-20l1-4v25l1-2v-13l1 3v23l1-5v-15l1-1v17l1-9v-6l1-4v10l1-2v-11l1 2v10l1 1v-12l1 3v6l1 3v-10l1-12v23l1 15v-19l1-5v14l1-1v-14l1 7v14l1-8v-16l1 7v5l1-1v-7l1-2v10l1 9v-10l1 0v7l1 11v-8l1-2v11l1 9v-6l1 0v10l1 9v-10l1-8v13l1 5v-5l1-2v16l1-4v-11l1-1v9l1-3v-6l1-2v18l1 4v-20l1 10v6l1 9v-11l1-3v5l1-3v-8l1 0v11l1 7v-15l1 3v7l1 3v-9l1 3v5l1 16v-30l1 12v8l1 8v-23l1 22v7l1 4v-12l1 6v7l1 11v-17l1 0v13l1 2v-7l1 0v9l1 5v-14l1 3v6l1 2v-7l1-10v15l1 1v-14l1 6v9l1 5v-14l1-2v8l1 0v-4l1-8v9l1 2v-15l1-14v31l1-16v-7l1 1v8l1 8v-6l1 10v12l1 0v-13l1-2v13l1 8v-14l1 0v7l1-5v-9l1 2v13l1-10v-6l1-4v6l1-3v-10l1-10v19l1-1v-8l1-1v7l1-4v-7l1-7v8l1-1v-5l1-9v14l1-1v-10l1 0v31l1-23v-6l1-4v10l1-1v-14l1 3v13l1-7v-11l1 7v7l1 1v-8l1-4v15l1 1v-15l1 5v14l1 1v-11l1-2v7l1 4v-6l1-6v5l1-3v-7l1-1v20l1-6v-14l1-7v7l1-1v-11l1 0v11l1 2v-9l1 2v12l1-2v-8l1-8v14l1-7v-9l1-4v12l1-11v-8l1 1v8l1 0v-7l1-6v7l1 2v-8l1 1v8l1-1v-8l1-2v15l1 1v-9l1 3v19l1-8v-6l1-1v8l1 0v-10l1-2v11l1-4v-8l1-1v8l1-2v-10l1 6v11l1-3v-8l1 3v21l1-11v-11l1 5v9l1-2v-14l1 0v11l1-6v-5l1-6v10l1 3v-11l1-8v12l1 4v-17l1-6v11l1 5v-12l1 1v9l1 0v-8l1 3v6l1 4v-8l1 2v11l1-4v-5l1 2v5l1-1v-6l1-3v11l1 3v-18l1 8v11l1 10v-14l1-5v10l1 6v-13l1-4v15l1-4v-7l1-2v12l1-2v-8l1-2v10l1-3v-21l1 5v14l1-5v-7l1-2v6l1 14v-18l1 8v9l1-1v-11l1 9v8l1-5v-9l1-4v15l1-2v-10l1 0v7l1-2v-17l1 2v22l1-17v-10l1 0v9l1 0v-8l1-5v13l1-7v-11l1 4v6l1 4v-18l1-2v20l1-6v-6l1-1v10l1 1v-7l1-3v8l1 2v-13l1 5v11l1 6v-8l1 4v5l1-1v-5l1-4v11l1 5v-7l1-1v15l1-3v-8l1 2v11l1-5v-15l1 11v10l1 1v-12l1-8v17l1-3v-6l1-5v8l1 5v-11l1 10v9l1 6v-18l1 1v13l1-1v-8l1-8v8l1-5v-9l1-6v16l1 0v-9l1 6v6l1 10v-10l1-8v14l1 3v-15l1 9v19l1-4v-16l1 8v7l1 8v-14l1-4v14l1 1v-8l1 2v7l1 3v-17l1 7v21l1-8v-10l1-2v13l1 11v-16l1-13v23l1 7v-5l1-6v7l1 3v-18l1 1v14l1-14v-14l1 5v10l1-3v-10l1-9v10l1 7v-18l1-3v5l1 3v-15l1-5v17l1 2v-8l1-1v9l1 0v-10l1 1v9l1-4v-7l1-3v8l1 5v-9l1 5v6l1 3v-5l1-3v6l1 4v-9l1 8v8l1 7v-16l1 4v8l1 19v-21l1 1v9l1 11v-14l1-3v8l1-6v-10l1-2v15l1-3v-7l1-6v11l1-2v-9l1-9v8l1 2v-7l1-3v7l1 8v-16l1 10v9l1 2v-6l1 6v5l1 5v-13l1 4v5l1 0v-6l1 2v9l1 1v-10l1-15v13l1 0v-7l1-5v6l1-10v-9l1-1v13l1-7v-8l1-7v12l1 5v-18l1 10v9l1-2v-10l1 4v7l1-1v-12l1 5v10l1 7v-16l1 10v7l1 2v-14l1 11v5l1 0v-8l1-2v8l1 14v-18l1 4v6l1-4v-6l1-3v7l1-3v-8l1 1v12l1-3v-38l1 13v18l1 3v-8l1-2v14l1-7v-6l1-7v12l1-1v-6l1-1v8l1-4v-8l1-1v6l1-8v-11l1-2v15l1-9v-12l1-9v18l1-3v-11l1 2v11l1-5v-7l1-2v23l1-6v-36l1 24v28l1-22v-6l1 2v6l1 3v-6l1 1v6l1-4v-11l1 7v5l1 1v-7l1 5v6l1 2v-10l1-3v11l1 9v-21l1 2v16l1-2v-8l1-2v10l1 8v-13l1-1v15l1 4v-6l1 5v9l1 3v-6l1-14v19l1 11v-16l1 14v15l1-7v-10l1-3v9l1 6v-20l1 4v8l1-4v-16l1 2v16l1 13v-15l1-2v13l1 7v-15l1 8v7l1 3v-6l1 1v14l1-4v-7l1-3v13l1 3v-8l1-1v9l1-2v-8l1 1v8l1 4v-13l1-9v13l1-9v-14l1 2v13l1 2v-14l1-3v9l1 0v-12l1 0v8l1 2v-15l1 10v6l1 2v-12l1-13v21l1 0v-9l1-3v10l1 3v-10l1-3v7l1-1v-10l1 3v9l1-2v-7l1-3v10l1-2v-11l1 4v10l1-5v-7l1-5v25l1-21v-8l1-1v6l1 10v-23l1-4v17l1-9v-8l1-21v22l1-4v-8l1-1v6l1 3v-12l1-5v16l1-4v-9l1 8v12l1-5v-11l1 1v10l1 4v-14l1 4v12l1 3v-11l1-5v16l1-4v-13l1 14v9l1 4v-22l1 7v8l1 0v-12l1 0v19l1-5v-16l1 0v8l1-2v-26l1 19v7l1 1v-14l1-7v26l1-18v-9l1-13v13l1-3v-13l1 1v9l1-3v-7l1-4v15l1-5v-15l1 8v6l1 12v-17l1 10v7l1 7v-10l1 0v11l1-7v-11l1 0v8l1 1v-11l1-4v7l1-3v-15l1 3v13l1-2v-11l1-1v10l1-8v-7l1-3v7l1 12v-20l1 6v8l1 4v-6l1 5v12l1 4v-12l1 4v7l1 1v-11l1-5v7l1 0v-9l1-2v8l1-2v-12l1 0v6l1 16v-16l1 4v6l1 3v-6l1 2v8l1 17v-21l1-2v6l1 2v-15l1 1v9l1 1v-14l1 4v5l1 1v-10l1 2v6l1 1v-14l1 1v12l1-5v-6l1 2v7l1 2v-9l1 9v8l1 1v-11l1-2v8l1-4v-6l1-2v7l1 8v-28l1 5v18l1 1v-14l1-6v12l1-5v-9l1 4v11l1 1v-13l1 6v6l1 6v-16l1 3v11l1 3v-12l1-8v11l1 3v-10l1 0v10l1 5v-15l1 4v7l1-1v-6l1-1v9l1 4v-13l1-6v11l1-2v-7l1-26v28l1 2v-15l1-3v7l1 3v-8l1 1v19l1-2v-15l1 5v6l1 5v-13l1 3v7l1-6v-7l1-3v12l1 9v-21l1 7v6l1 0v-8l1 2v10l1-2v-10l1-6v12l1 15v-20l1-11v14l1-1v-13l1-1v9l1 11v-16l1-3v13l1 0v-7l1 3v16l1-11v-12l1 6v7l1 11v-17l1-1v7l1 4v-17l1 10v9l1 1v-8l1-9v19l1 4v-8l1 1v16l1-4v-17l1 12v9l1-6v-12l1 3v11l1 6v-15l1-3v7l1 3v-16l1 2v9l1-3v-8l1-2v10l1 0v-9l1 2v21l1-23v-6l1-5v25l1-22v-18l1 9v7l1 2v-14l1 4v23l1-10v-14l1 15v13l1 0v-10l1 5v7l1 3v-10l1 2v11l1 6v-13l1 11v7l1 0v-8l1 0v10l1 8v-18l1-4v7l1 1v-16l1 4v8l1-8v-9l1-5v10l1 6v-8l1-2v4l1 1v-10l1-6v10l1-4v-17l1 9v14l1-2v-9l1-4v8l1 12v-21l1 8v11l1-1v-10l1-9v19l1-4v-5l1 0v9l1 2v-14l1 4v17l1-12v-8l1-5v9l1 1v-17l1 8v8l1 4v-10l1 0v9l1-3v-8l1-4v14l1 3v-15l1-2v19l1 0v-6l1-2v10l1-1v-9l1 1v9l1-5v-8l1-8v17l1 4v-17l1 11v14l1-2v-12l1 5v8l1 0v-9l1 6v6l1 3v-20l1 8v8l1 2v-11l1-3v10l1 9v-16l1-6v7l1 2v-11l1-1v6l1-7v-8l1-4v13l1-9v-5l1-7v15l1-12v-9l1 0v8l1 0v-9l1 1v12l1-4v-9l1-8v13l1-2v-9l1-5v13l1-3v-8l1-8v21l1 2v-7l1-7v18l1 1v-11l1 8v8l1 7v-21l1 14v17l1-6v-13l1-1v6l1-4v-8l1-5v19l1-17v-7l1-3v18l1-13v-12l1-5v6l1 0v-12l1-13v22l1-1v-10l1-4v13l1 5v-9l1-2v12l1 3v-6l1-2v8l1-2v-8l1-4v17l1-2v-8l1 2v13l1-4v-10l1-2v6l1 8v-12l1-3v9l1 3v-6l1-5v15l1 4v-7l1 1v7l1-1v-6l1-22v21l1 1v-15l1-6v15l1-2v-9l1-6v7l1-2v-13l1 1v12l1 3v-9l1-2v12l1 7v-13l1 6v11l1 1v-6l1 1v13l1-5v-15l1 4v15l1-3v-7l1-2v14l1 12v-24l1 2v11l1 4v-10l1-1v8l1 0v-8l1 5v7l1 0v-11l1-3v15l1-2v-9l1-8v7l1-3v-10l1 6v8l1 6v-10l1-2v7l1 3v-12l1 6v8l1 6v-18l1 17v7l1 13v-13l1 1v14l1 14v-18l1 2v8l1 2v-7l1 5v9l1-5v-9l1-7v12l1 3v-11l1-8v16l1-2v-13l1-1v10l1 3v-13l1-1v15l1 5v-12l1 8v16l1-9v-6l1-1v11l1 4v-13l1 0v6l1 4v-12l1-7v11l1-7v-16l1 11v9l1 1v-10l1 4v14l1 2v-12l1 0v7l1-7v-12l1 4v8l1-7v-19l1 2v18l1 3v-16l1 7v11l1-1v-18l1 11v11l1-4v-8l1 6v6l1 2v-7l1 2v11l1 1v-9l1-5v14l1 0v-10l1-12v20l1-4v-12l1 9v17l1-14v-7l1-4v8l1 5v-8l1-5v10l1 4v-7l1 5v9l1 1v-6l1-2v11l1 7v-6l1-1v7l1 2v-5l1-1v10l1-8v-15l1 7v10l1 6v-23l1-4v21l1-6v-9l1-2v8l1 0v-11l1 1v11l1 0v-12l1-5v11l1-2v-9l1-3v9l1-6v-7l1-4v7l1 1v-6l1-6v9l1-1v-7l1-2v6l1-4v-12l1-1v12l1-4v-13l1-5v8l1-2v-14l1 4v11l1-5v-14l1 0v15l1 4v-12l1-2v11l1-1v-13l1 4v13l1 0v-10l1 1v8l1 8v-13l1-2v15l1 9v-11l1 7v10l1-6v-9l1-2v9l1 1v-12l1 1v5l1-3v-7l1-7v12l1 10v-19l1-3v10l1 4v-16l1-1v8l1 7v-8l1 2v8l1-2v-7l1-3v12l1-5v-14l1-2v22l1-14v-9l1 1v8l1-5v-8l1-6v11l1 8v-15l1-4v6l1 7v-18l1-4v16l1-4v-13l1 3v9l1 10v-20l1-3v14l1 9v-13l1 0v16l1 5v-12l1 7v9l1 7v-7l1 9v9l1 4v-12l1 1v7l1-3v-6l1-7v19l1-8v-11l1-11v17l1-3v-21l1-2v9l1 2v-11l1 0v7l1 6v-23l1 12v15l1 8v-20l1 5v7l1 5v-15l1-8v15l1-7v-8l1-8v12l1 11v-27l1-2v17l1-7v-5l1 0v12l1-3v-5l1-3v17l1-3v-16l1-7v10l1-8v-9l1-1v11l1 10v-24l1-2v8l1-4v-7l1-11v22l1-3v-23l1 13v18l1-5v-7l1-1v10l1 3v-7l1-9v8l1-7v-15l1 7v8l1-5v-7l1-3v11l1-3v-5l1-9v12l1-4v-8l1-8v18l1 3v-15l1 1v17l1 3v-15l1 1v8l1 2v-10l1-4v14l1-1v-9l1 7v22l1-15v-11l1 0v5l1 5v-9l1 5v7l1-2v-6l1-7v11l1 2v-15l1-2v10l1-7v-7l1 4v6l1 7v-7l1-4v10l1 2v-14l1 7v16l1-8v-6l1 4v8l1 1v-10l1-3v13l1-9v-8l1-9v8l1-1v-6l1 5v8l1 1v-6l1 2v20l1-10v-6l1-4v10l1 1v-12l1-3v6l1-2v-7l1-7v17l1-9v-10l1 6v6l1-5v-8l1-2v6l1 3v-11l1 2v7l1-3v-8l1 4v7l1 12v-23l1 1v12l1-3v-12l1-12v12l1-8v-8l1 5v8l1 5v-17l1 7v9l1 15v-25l1-3v17l1-7v-8l1-10v19l1-2v-10l1 2v6l1 8v-10l1 7v8l1 11v-17l1-1v13l1 10v-12l1 6v9l1 4v-9l1-1v13l1 1v-7l1-6v28l1-4v-6l1 4v6l1 8v-6l1-4v9l1 7v-10l1 4v10l1 5v-10l1 3v14l1-4v-8l1 4v7l1 4v-9l1-1v15l1 0v-18l1-10v32l1 4v-16l1 0v8l1 2v-12l1 8v7l1 3v-14l1-1v11l1-5v-11l1-4v8l1 0v-19l1 4v10l1 2v-14l1 3v5l1 0v-6l1-4v10l1-5v-10l1-12v20l1-12v-7l1-5v11l1-5v-14l1 8v9l1 2v-14l1 13v5l1 2v-11l1 8v22l1-14v-7l1-6v7l1-3v-5l1-3v8l1-1v-7l1-3v10l1 4v-9l1-5v12l1 0v-10l1 3v5l1 6v-6l1-5v9l1 4v-15l1 7v17l1-14v-11l1-2v7l1 10v-11l1-2v10l1-1v-5l1-4v8l1 8v-20l1-3v19l1 4v-7l1 0v11l1 6v-11l1 4v12l1-7v-7l1 7v14l1-9v-20l1 14v6l1 0v-9l1 4v16l1 4v-16l1 0v6l1 10v-22l1 14v14l1-2v-9l1-9v15l1 5v-11l1 10v12l1 5v-20l1 5v9l1-1v-11l1 1v7l1 7v-7l1 6v6l1 6v-13l1 4v5l1 7v-7l1-5v12l1 9v-13l1 9v10l1 0v-18l1 12v8l1 5v-9l1 0v6l1 2v-8l1-1v14l1 0v-11l1 4v7l1 5v-7l1-1v13l1-2v-16l1 8v8l1 1v-5l1-8v9l1-2v-8l1-1v6l1-1v-12l1 3v5l1 3v-9l1 2v12l1 0v-13l1 5v22l1-16v-7l1-2v13l1-8v-11l1 3v6l1-2v-5l1-3v11l1-11v-8l1-1v7l1 6v-18l1-1v10l1-2v-8l1-11v14l1-6v-8l1 1v11l1-2v-9l1-2v7l1 1v-11l1-3v19l1-13v-11l1 1v5l1 5v-13l1-6v10l1-3v-7l1-2v15l1-4v-11l1-8v9l1-1v-10l1-3v10l1-1v-7l1 1v9l1 2v-6l1 4v15l1 15v-26l1 15v9l1 1v-10l1 2v5l1 9v-11l1 1v8l1-6v-6l1 0v13l1-3v-17l1 4v9l1-3v-17l1 18v13l1 6v-16l1 3v6l1 10v-13l1 8v12l1-2v-16l1 9v7l1-4v-4l1 0v12l1-2v-11l1 9v13l1-6v-11l1-1v11l1 8v-17l1 7v10l1-4v-16l1 9v6l1-2v-8l1-5v11l1-1v-12l1 3v5l1-9v-6l1-9v16l1-1v-12l1 5v9l1 6v-20l1 0v15l1-4v-9l1-1v7l1-2v-13l1-4v14l1-3v-8l1 0v19l1-10v-8l1-3v8l1 6v-19l1 4v12l1 1v-13l1 6v7l1-7v-14l1 0v11l1-4v-9l1 0v15l1 0v-9l1-1v12l1 2v-8l1 7v9l1 6v-8l1 0v11l1-6v-8l1-18v22l1 2v-12l1-8v23l1-15v-4l1-8v18" stroke="#0000ff"/>
<path d="M255.5 655v25l1-14v-7l1-2v10l1 6v-19l1 1v18l1-5v-9l1-6v7l1-5v-13l1 7v10l1 0v-7l1-3v11l1 9v-24l1-2v13l1 1v-9l1 1v16l1-2v-11l1 5v8l1 2v-7l1-7v11l1 0v-5l1-5v9l1-1v-6l1 2v7l1 1v-12l1 3v8l1 0v-5l1 1v7l1 6v-11l1-9v17l1 5v-18l1 0v9l1-1v-8l1-2v8l1 25v-34l1-7v13l1 8v-12l1-3v5l1 7v-13l1 4v9l1 1v-10l1 3v7l1 7v-10l1-6v14l1-1v-8l1-4v9l1 7v-26l1 2v20l1-10v-6l1-2v15l1-6v-10l1-4v15l1 0v-6l1 2v6l1 7v-12l1 6v9l1 8v-13l1 5v7l1 7v-8l1 2v13l1 1v-16l1 5v8l1 4v-9l1 0v21l1-6v-7l1-3v9l1-4v-11l1 7v11l1-2v-14l1 4v7l1 3v-12l1-7v13l1-1v-22l1 9v21l1-14v-14l1 1v15l1-10v-7l1-2v12l1-2v-6l1-1v7l1 4v-13l1 1v7l1 8v-8l1 0v12l1-5v-8l1-2v16l1-5v-8l1 6v10l1 1v-12l1 8v10l1-1v-6l1 3v7l1 2v-11l1 10v5l1 13v-11l1 6v7l1 0v-12l1 6v15l1-5v-8l1-3v6l1 8v-12l1-5v9l1 7v-19l1 0v8l1-3v-14l1 5v7l1-4v-13l1 2v8l1-4v-12l1 1v18l1-9v-6l1 0v9l1-2v-8l1 2v5l1 1v-18l1 0v14l1 2v-12l1-1v7l1-3v-9l1 0v14l1-4v-13l1 3v10l1 2v-10l1 1v8l1 4v-9l1 4v5l1 2v-6l1-1v8l1 8v-12l1 0v6l1 8v-12l1 2v10l1 0v-10l1 7v6l1 6v-16l1 4v22l1-7v-21l1 17v9l1 6v-9l1-4v9l1-9v-6l1-10v14l1-2v-20l1 9v12l1 2v-12l1 6v12l1 3v-11l1 8v9l1 0v-13l1 8v11l1 2v-17l1 7v8l1-2v-6l1-15v19l1-3v-6l1-3v11l1 0v-11l1-2v13l1-1v-11l1-3v18l1-5v-10l1-4v5l1 4v-8l1-2v15l1 4v-14l1-2v17l1-6v-6l1 6v7l1-4v-16l1 6v9l1-2v-6l1-7v15l1-7v-13l1 7v10l1-6v-10l1-3v12l1 8v-16l1-7v21l1 2v-13l1 2v11l1-1v-11l1-4v13l1-8v-10l1 0v8l1 1v-9l1-5v10l1-5v-12l1 4v9l1 12v-8l1 2v15l1 0v-6l1-2v15l1 2v-7l1-2v9l1 2v-13l1 3v8l1-4v-6l1 0v8l1-6v-5l1-2v10l1-6v-9l1-3v13l1 1v-10l1 7v25l1-12v-15l1 7v11l1 0v-7l1 1v7l1 2v-9l1-1v12l1-7v-6l1-3v6l1-4v-14l1 5v16l1-9v-11l1-2v18l1-9v-6l1-1v20l1-7v-20l1 7v7l1-3v-10l1-1v10l1 3v-19l1 7v8l1 2v-7l1 2v10l1-9v-13l1 3v25l1-15v-9l1-1v8l1 11v-18l1-7v14l1-4v-6l1-1v11l1 7v-16l1-12v18l1 5v-9l1 4v8l1 3v-9l1-2v7l1-3v-11l1 9v22l1-14v-9l1 2v9l1 1v-10l1 2v14l1-7v-9l1-3v9l1-5v-8l1-2v9l1-3v-10l1-4v11l1 2v-11l1-11v25l1-9v-12l1 4v5l1 3v-10l1-2v9l1-6v-8l1 1v12l1 3v-11l1 8v9l1 0v-6l1 1v10l1 0v-11l1 3v14l1-6v-7l1 1v14l1 0v-10l1 4v14l1-11v-6l1 0v14l1 1v-14l1 7v20l1-10v-13l1 0v9l1 1v-7l1 3v9l1 2v-11l1-3v21l1-8v-7l1-4v14l1 14v-40l1 13v16l1 3v-13l1 5v7l1 4v-5l1-2v15l1-4v-9l1 3v17l1-3v-16l1 8v8l1 0v-7l1-1v9l1-11v-9l1-3v15l1-6v-9l1 3v11l1-5v-21l1 14v8l1 11v-16l1 0v9l1 5v-7l1 4v6l1 2v-6l1 2v5l1 4v-9l1 4v10l1 3v-11l1-4v8l1-2v-16l1 13v9l1 10v-36l1 26v9l1 4v-6l1 1v10l1 4v-5l1 2v7l1-3v-5l1-2v13l1-5v-9l1-5v14l1 5v-12l1-3v9l1 4v-7l1-6v15l1 3v-16l1-3v12l1-2v-8l1-6v8l1 5v-5l1-2v6l1 4v-14l1 5v16l1-1v-11l1-8v8l1-6v-5l1-17v16l1-3v-7l1-6v7l1 3v-11l1-1v14l1 3v-9l1 3v6l1 2v-10l1 6v8l1 4v-11l1 3v7l1-1v-6l1 7v12l1 0v-6l1-10v20l1-4v-14l1 4v10l1 4v-10l1 0v17l1-8v-8l1-1v20l1-9v-11l1 4v5l1 3v-16l1 4v13l1-4v-5l1 4v12l1-2v-8l1-3v12l1 0v-8l1 2v10l1-4v-5l1 4v10l1-2v-16l1 0v9l1-9v-10l1-10v12l1 0v-16l1-5v9l1 1v-7l1 0v6l1 6v-11l1 5v14l1-9v-7l1 0v8l1-9v-8l1-6v17l1-9v-8l1-1v15l1-8v-24l1 16v7l1 7v-8l1 4v15l1 0v-8l1-3v13l1 9v-8l1 1v7l1 4v-10l1-11v23l1-3v-21l1 3v4l1-3v-17l1 9v10l1-3v-9l1-7v9l1-4v-12l1-1v10l1-4v-5l1-6v6l1-3v-5l1-5v9l1-7v-7l1-6v16l1-15v-6l1-1v6l1-6v-6l1 11v7l1 6v-13l1 8v7l1 8v-7l1 7v5l1 6v-11l1 5v8l1 6v-14l1 4v6l1 0v-11l1-7v13l1-7v-8l1-1v5l1 4v-14l1-9v11l1 15v-22l1 3v16l1 8v-10l1 6v6l1 7v-11l1 0v12l1 0v-8l1 3v6l1 6v-6l1 1v6l1 4v-13l1 2v16l1-3v-6l1 2v6l1 6v-8l1 0v14l1 1v-8l1 5v10l1 5v-25l1 11v15l1 6v-15l1-8v21l1-6v-21l1 9v7l1-1v-13l1-4v7l1-3v-9l1 0v11l1-4v-11l1 1v9l1 2v-9l1-6v14l1 9v-28l1 12v13l1-8v-5l1-6v14l1-5v-5l1-11v14l1 6v-11l1 2v7l1 6v-18l1 12v8l1 6v-16l1 2v11l1 1v-8l1 5v11l1 3v-10l1-1v14l1 0v-25l1 15v10l1-1v-12l1-12v13l1-8v-9l1-4v11l1-8v-8l1 5v10l1 3v-15l1 6v8l1 3v-11l1-9v17l1 12v-11l1-5v10l1 1v-9l1 5v11l1 8v-17l1-1v6l1 3v-11l1 7v6l1-1v-10l1-3v10l1 6v-8l1-1v10l1-2v-6l1-3v13l1-3v-11l1 7v6l1-4v-6l1-1v8l1 5v-10l1-2v14l1 8v-20l1 17v9l1 2v-6l1 2v8l1 2v-7l1 0v8l1 0v-17l1-1v18l1 1v-23l1 16v9l1 1v-8l1 4v12l1 3v-12l1 10v21l1-15v-8l1-2v6l1-2v-11l1 3v9l1 5v-15l1-5v11l1 5v-11l1-2v5l1 0v-10l1 2v7l1-5v-5l1-2v8l1-3v-12l1 2v9l1 3v-8l1-4v12l1 20v-25l1 3v6l1 7v-15l1 5v11l1 7v-8l1 0v9l1-9v-8l1-6v8l1 0v-15l1-11v11l1-1v-11l1-4v16l1 11v-23l1 4v7l1-2v-6l1 8v5l1 19v-23l1-7v18l1 1v-10l1 5v14l1-1v-8l1-8v28l1-13v-9l1-2v13l1 0v-11l1 6v6l1-2v-14l1 8v9l1-2v-7l1-3v13l1 6v-13l1 2v15l1 4v-14l1-1v10l1 7v-11l1 6v8l1 8v-11l1-1v9l1 10v-13l1-2v6l1-1v-13l1 2v7l1-1v-7l1 1v14l1-7v-14l1 2v12l1-5v-9l1-1v9l1 4v-7l1-12v25l1-9v-7l1-5v14l1 12v-16l1-10v28l1-25v-11l1 0v10l1-11v-8l1-4v10l1-4v-10l1 4v5l1-3v-12l1 3v12l1 0v-10l1-2v19l1 2v-6l1 7v6l1 0v-11l1 6v11l1-1v-7l1 2v9l1 5v-16l1 5v10l1 3v-6l1 3v10l1-1v-19l1 23v10l1 12v-21l1-8v7l1 1v-8l1-5v10l1-2v-11l1-3v10l1 1v-10l1-12v19l1 3v-9l1 1v10l1 2v-11l1-5v15l1 0v-6l1 7v7l1 9v-13l1 0v5l1 4v-15l1-2v19l1 11v-21l1 10v7l1 7v-8l1-11v15l1-2v-15l1 14v6l1 4v-10l1-7v15l1-6v-10l1-3v15l1-4v-6l1-4v13l1-5v-12l1-7v9l1-6v-11l1-2v15l1-8v-8l1 1v7l1 3v-12l1-5v19l1-1v-6l1 0v11l1-3v-12l1 5v20l1-15v-15l1 4v13l1-7v-11l1 2v7l1 3v-9l1-4v9l1 5v-8l1-6v14l1 4v-8l1 1v11l1 7v-14l1-7v21l1 0v-8l1-9v10l1-1v-17l1-2v14l1-3v-14l1 9v9l1-7v-17l1 3v12l1-5v-12l1 6v9l1-5v-6l1-13v18l1-3v-9l1-7v10l1-8v-7l1-10v8l1-1v-6l1-8v14l1-10v-20l1 8v10l1-3v-14l1-9v11l1 1v-16l1 1v5l1 0v-10l1 3v10l1-2v-9l1-7v8l1 5v-13l1-1v12l1-8v-12l1-15v22l1-4v-8l1 3v10l1-3v-7l1-2v13l1 10v-12l1-4v10l1-3v-11l1-1v17l1-14v-5l1 1v9l1 2v-5l1 0v7l1 4v-9l1 0v6l1 1v-7l1 5v8l1 4v-6l1-4v13l1 4v-14l1 2v15l1-4v-8l1 1v7l1-6v-7l1 0v8l1-4v-13l1 8v9l1-2v-15l1 9v8l1 7v-10l1 6v7l1 11v-12l1 5v7l1 7v-5l1 3v6l1 7v-11l1-4v20l1 0v-10l1 8v8l1 5v-12l1-8v15l1 0v-8l1 3v8l1 11v-14l1-2v7l1-4v-5l1-6v13l1 7v-24l1 8v5l1 1v-13l1-4v12l1-7v-10l1 1v11l1 0v-5l1-2v9l1-5v-6l1-8v6l1 1v-12l1-13v8l1-6v-11l1 5v9l1-2v-6l1 2v13l1-7v-10l1 6v8l1 2v-13l1-2v8l1-7v-11l1-2v8l1-5v-13l1 3v10l1-4v-14l1 4v8l1-1v-8l1 6v6l1 0v-10l1 4v13l1 0v-16l1-4v16l1 9v-10l1 1v8l1 19v-16l1 5v11l1 3v-5l1-1v7l1 1v-8l1-2v9l1 1v-8l1-14v22l1 2v-15l1 4v9l1-2v-7l1-12v14l1 0v-12l1 3v10l1-8v-10l1-1v8l1 6v-13l1 8v8l1 7v-14l1-6v18l1-4v-8l1 5v14l1 1v-14l1 0v10l1 0v-9l1 0v10l1 1v-10l1 8v8l1-1v-8l1-3v16l1 9v-21l1 4v6l1 5v-11l1 1v14l1-7v-12l1 5v10l1-2v-10l1 5v7l1 4v-12l1 9v7l1 1v-7l1-4v11l1 10v-11l1 2v9l1 2v-8l1 0v10l1 4v-9l1 5v19l1 5v-20l1 15v10l1 4v-10l1 1v9l1-9v-5l1-8v7l1 3v-10l1 3v11l1 12v-13l1 8v7l1 6v-5l1-5v19l1 3v-13l1-5v14l1-10v-9l1-8v14l1-4v-11l1 0v14l1 8v-7l1-2v16l1-3v-9l1-1v11l1 1v-10l1 2v11l1 3v-13l1 2v8l1 10v-9l1-6v16l1 0v-14l1 4v10l1-8v-5l1-5v18l1-10v-8l1 7v5l1 6v-7l1-1v12l1 0v-6l1-1v18l1 11v-28l1 18v23l1-11v-11l1 7v10l1-4v-7l1 1v10l1 2v-8l1-5v15l1 3v-12l1-1v9l1 3v-6l1 3v7l1 6v-12l1 1v8l1 4v-11l1 4v7l1 2v-8l1-13v26l1-7v-21l1 10v12l1-14v-11l1 3v9l1-2v-11l1-8v10l1-9v-10l1 4v8l1-3v-11l1 0v7l1 0v-13l1 11v6l1 6v-9l1 4v8l1 3v-10l1 7v12l1-4v-6l1 5v17l1-9v-8l1 8v12l1 0v-6l1-10v25l1-2v-9l1 3v24l1-13v-5l1 5v8l1 2v-8l1-2v7l1-4v-7l1-4v6l1 5v-9l1 7v11l1 8v-12l1-5v10l1 3v-8l1 2v12l1-3v-11l1-2v7l1 0v-7l1-1v7l1 10v-10l1-10v13l1-1v-11l1-7v12l1 5v-8l1-15v16l1-6v-5l1 2v25l1-16v-13l1-12v27l1-11v-10l1 6v10l1 2v-10l1 8v6l1 3v-12l1 4v12l1-2v-14l1 6v11l1 0v-6l1 1v11l1-5v-7l1 1v7l1-3v-10l1-7v14l1 0v-9l1 4v10l1 6v-17l1-2v10l1-4v-5l1-4v9l1 4v-11l1-10v11l1 1v-7l1-1v10l1-2v-5l1-4v7l1 4v-11l1 8v10l1 10v-17l1-11v20l1 10v-6l1-3v8l1 2v-8l1-5v6l1 3v-13l1-4v8l1-2v-15l1 6v6l1-4v-7l1-3v5l1 7v-31l1 10v16l1-7v-11l1-15v19l1-3v-8l1-2v9l1-6v-7l1-12v17l1 2v-6l1-6v11l1 1v-29l1 15v9l1-2v-17l1-5v17l1-1v-8l1-1v8l1-9v-7l1 0v7l1 0v-10l1-6v9l1-1v-13l1 1v7l1-8v-16l1-5v19l1 2v-9l1-8v6l1-5v-20l1 11v9l1 2v-17l1 2v9l1-2v-25l1 12v5l1-2v-6l1-12v15l1 3v-19l1 12v7l1-6v-18l1 6v7l1-2v-7l1-8v8l1-1v-9l1 2v9l1-1v-8l1 1v7l1 9v-21l1 2v21l1-3v-12l1-1v10l1 3v-10l1 3v7l1 1v-10l1 3v11l1 1v-8l1-1v11l1-2v-7l1-11v9l1 2v-14l1-5v8l1 9v-21l1-1v10l1-2v-7l1 1v8l1 12v-10l1 3v10l1 4v-18l1 7v12l1 5v-16l1 2v10l1 4v-12l1 5v18l1-7v-5l1-2v16l1-1v-14l1 2v10l1 0v-5l1 5v6l1 2v-5l1-4v6l1 1v-11l1 4v8l1 1v-9l1 1v14l1-6v-11l1-5v8l1 7v-17l1 19v5l1 10v-14l1 6v6l1 4v-11l1 3v7l1 6v-14l1-12v25l1-10v-10l1-14v16l1 0v-16l1 2v6l1 4v-17l1 5v9l1-4v-9l1 3v13l1-3v-10l1-1v10l1-4v-5l1-1v7l1 8v-12l1-5v6l1 12v-15l1-5v9l1-1v-8l1 0v4l1 3v-6l1-5v15l1-11v-9l1 8v6l1 6v-11l1-3v9l1 0v-5l1 1v8l1-1v-14l1-8v19l1 5v-11l1 3v9l1-1v-7l1 11v7l1 10v-24l1 12v5l1-4v-13l1-1v12l1-3v-5l1-6v12l1-8v-10l1 0v8l1 3v-17l1 6v8l1-7v-9l1 5v8l1-3v-9l1-8v8l1-1v-19l1 6v9l1-10v-15l1-5v18l1-13v-10l1 0v7l1 0v-15l1-5v7l1 7v-10l1-7v9l1 8v-17l1 3v30l1-24v-7l1 7v7l1-2v-6l1 2v15l1 0v-14l1 6v14l1 9v-15l1-3v7l1 4v-6l1 1v11l1-1v-5l1 2v7l1 1v-6l1-6v15l1-2v-5l1-11v11l1-2v-11l1-8v9l1-3v-12l1-2v9l1 4v-11l1 3v18l1-10v-10l1-2v7l1-4v-13l1 4v6l1 1v-13l1-9v16l1-2v-13l1 1v13l1 9v-17l1-5v22l1 1v-22l1-3v7l1 16v-20l1-3v8l1 10v-12l1-7v11l1 10v-15l1-2v7l1 9v-32l1 15v12l1-6v-17l1 5v12l1-5v-7l1-2v5l1 6v-9l1 3v8l1-1v-14l1 12v5l1 16v-19l1 0v6l1 2v-10l1-1v16l1 6v-13l1 2v13l1 3v-8l1-6v8l1-6v-7l1 0v7l1-2v-11l1 2v9l1-8v-9l1-1v10l1 8v-10l1 1v14l1 14v-18l1 7v8l1 7v-14l1 10v7l1 0v-13l1 11v11l1 2v-7l1-2v5l1 6v-10l1-4v6l1 2v-16l1 1v25l1-23v-13l1-4v12l1-5v-17l1 4v10l1-2v-8l1-10v18l1 1v-10l1 3v10l1-4v-6l1 2v6l1 1v-7l1-10v12l1-4v-10l1 1v7l1-1v-25l1-4v21l1 4v-12l1 3v8l1-4v-8l1-1v10l1 0v-7l1-9v17l1-3v-11l1-5v12l1-9v-5l1-8v20l1-18v-11l1-4v15l1-1v-11l1-20v23l1-2v-12l1 2v7l1-4v-8l1-2v7l1-1v-13l1 5v10l1 6v-8l1 1v11l1 4v-7l1-20v27l1 11v-24l1 4v12l1-5v-10l1-1v11l1-4v-6l1-2v6l1 8v-13l1-1v7l1 3v-6l1-7v12l1-2v-8l1 0v6l1-1v-8l1-5v8l1-2v-35l1 27v8l1 7v-23l1 2v8l1 9v-14l1-1v12l1-13v-8l1 2v15l1-9v-8l1-10v11l1 2v-9l1 2v10l1 5v-7l1 4v9l1 6v-9l1 2v12l1 11v-17l1 6v9l1-2v-6l1-8v16l1 3v-15l1 2v9l1 0v-7l1-4v12l1-1v-6l1 1v6l1 2v-9l1-7v22l1 3v-16l1 0v7l1-1v-11l1-13v30l1 0v-6l1 0v13l1-3v-6l1-2v10l1 4v-12l1-3v23l1-15v-10l1-2v13l1-4v-10l1-8v13l1 4v-8l1 10v10l1 9v-15l1 5v18l1 4v-7l1-1v21l1-4v-8l1 5v6l1 12v-13l1-3v14l1-6v-9l1-2v10l1 4v-12l1-5v18l1 1v-9l1 3v11l1 3v-5l1 8v7l1 4v-11l1 12v7l1 9v-12l1 5v13l1 7v-11l1-2v14l1-9v-10l1-3v5l1-1v-27l1 16v7l1-1v-8l1 3v7l1 2v-8l1 2v9l1 7v-11l1 3v9l1-4v-13l1-1v25l1-9v-16l1 5v7l1-3v-10l1 14v6l1 9v-16l1 13v7l1 10v-10l1 1v11l1 5v-7l1 0v15l1-7v-7l1-1v12l1-8v-9l1 3v6l1 1v-12l1-7v9l1 1v-9l1-1v14l1-5v-13l1-3v7l1-4v-8l1 4v7l1 10v-6l1-6v18l1 10v-18l1 2v13l1-4v-5l1-6v7l1-5v-6l1-6v8l1-4v-8l1-3v17l1-12v-9l1 1v7l1 1v-7l1 2v13l1 1v-13l1-1v13l1-10v-8l1-3v6l1-3v-7l1-5v8l1 4v-12l1-5v4l1-10v-5l1-4v10l1 0v-17l1-12v18l1-6v-10l1 1v23l1-19v-6l1-9v9l1 6v-12l1 2v9l1 7v-14l1 14v5l1 4v-19l1 5v9l1 3v-10l1 1v11l1 5v-10l1 0v9l1 13v-17l1-9v20l1 0v-12l1-7v7l1 3v-16l1 2v12l1-2v-10l1 3v11l1 13v-21l1 12v12l1 0v-12l1-3v17l1 10v-16l1-5v18l1-12v-10l1-5v18l1-6v-5l1-4v12l1-9v-10l1 1v18l1-9v-15l1 7v8l1-5v-11l1-2v15l1 0v-14l1 1v11l1 8v-16l1-1v8l1 7v-26l1 8v5l1 0v-7l1-7v13l1 10v-17l1 6v20l1-9v-7l1 3v11l1 2v-11l1 5v6l1 3v-9l1 0v8l1 4v-12l1 10v7l1 1v-7l1-2v8" stroke="#000000"/>
</g>
<path d="M252 148H1696V1129H252ZM257 153V1124H1692V153Z" fill="#000" fill-rule="evenodd"/>
<text x="223.5" y="171.4" font-size="54.5" text-anchor="end" font-family='"Liberation Sans", sans-serif' >180</text>
<text x="223.5" y="252.2" font-size="54.5" text-anchor="end" font-family='"Liberation Sans", sans-serif' >150</text>
<text x="223.5" y="332.9" font-size="54.5" text-anchor="end" font-family='"Liberation Sans", sans-serif' >120</text>
<text x="223.5" y="413.7" font-size="54.5" text-anchor="end" font-family='"Liberation Sans", sans-serif' >90</text>
<text x="223.5" y="494.4" font-size="54.5" text-anchor="end" font-family='"Liberation Sans", sans-serif' >60</text>
<text x="223.5" y="575.2" font-size="54.5" text-anchor="end" font-family='"Liberation Sans", sans-serif' >30</text>
<text x="223.5" y="656" font-size="54.5" text-anchor="end" font-family='"Liberation Sans", sans-serif' >0</text>
<text x="223.5" y="736.7" font-size="54.5" text-anchor="end" font-family='"Liberation Sans", sans-serif' >-30</text>
<text x="223.5" y="817.5" font-size="54.5" text-anchor="end" font-family='"Liberation Sans", sans-serif' >-60</text>
<text x="223.5" y="898.2" font-size="54.5" text-anchor="end" font-family='"Liberation Sans", sans-serif' >-90</text>
<text x="223.5" y="979" font-size="54.5" text-anchor="end" font-family='"Liberation Sans", sans-serif' >-120</text>
<text x="223.5" y="1059.8" font-size="54.5" text-anchor="end" font-family='"Liberation Sans", sans-serif' >-150</text>
<text x="223.5" y="1140.5" font-size="54.5" text-anchor="end" font-family='"Liberation Sans", sans-serif' >-180</text>
<text x="262" y="1193.9" font-size="54.5" text-anchor="middle" font-family='"Liberation Sans", sans-serif' >0</text>
<text x="442.7" y="1193.9" font-size="54.5" text-anchor="middle" font-family='"Liberation Sans", sans-serif' letter-spacing="1.6">0.5</text>
<text x="621.9" y="1193.9" font-size="54.5" text-anchor="middle" font-family='"Liberation Sans", sans-serif' >1</text>
<text x="802.6" y="1193.9" font-size="54.5" text-anchor="middle" font-family='"Liberation Sans", sans-serif' letter-spacing="1.6">1.5</text>
<text x="981.7" y="1193.9" font-size="54.5" text-anchor="middle" font-family='"Liberation Sans", sans-serif' >2</text>
<text x="1162.5" y="1193.9" font-size="54.5" text-anchor="middle" font-family='"Liberation Sans", sans-serif' letter-spacing="1.6">2.5</text>
<text x="1341.6" y="1193.9" font-size="54.5" text-anchor="middle" font-family='"Liberation Sans", sans-serif' >3</text>
<text x="1522.3" y="1193.9" font-size="54.5" text-anchor="middle" font-family='"Liberation Sans", sans-serif' letter-spacing="1.6">3.5</text>
<text x="1701.5" y="1193.9" font-size="54.5" text-anchor="middle" font-family='"Liberation Sans", sans-serif' >4</text>
<text x="615.7" y="64.6" font-size="49.8" text-anchor="start" font-family='"Liberation Sans", sans-serif' >traj 1</text>
<line x1="755.8" y1="48.1" x2="899.8" y2="48.1" stroke="#ff0000" stroke-width="3"/>
<text x="615.7" y="114.8" font-size="49.8" text-anchor="start" font-family='"Liberation Sans", sans-serif' >traj 2</text>
<line x1="755.8" y1="98.3" x2="899.8" y2="98.3" stroke="#a52a2a" stroke-width="3"/>
<text x="998.5" y="64.6" font-size="49.8" text-anchor="start" font-family='"Liberation Sans", sans-serif' >traj 3</text>
<line x1="1138.5" y1="48.1" x2="1282.5" y2="48.1" stroke="#00ff00" stroke-width="3"/>
<text x="998.5" y="114.8" font-size="49.8" text-anchor="start" font-family='"Liberation Sans", sans-serif' >traj 4</text>
<line x1="1138.5" y1="98.3" x2="1282.5" y2="98.3" stroke="#00ffff" stroke-width="3"/>
<text x="1380.7" y="64.6" font-size="49.8" text-anchor="start" font-family='"Liberation Sans", sans-serif' >traj 5</text>
<line x1="1520.8" y1="48.1" x2="1664.8" y2="48.1" stroke="#0000ff" stroke-width="3"/>
<text x="1380.7" y="114.8" font-size="49.8" text-anchor="start" font-family='"Liberation Sans", sans-serif' >traj 6</text>
<line x1="1520.8" y1="98.3" x2="1664.8" y2="98.3" stroke="#000000" stroke-width="3"/>
<text x="903.7" y="1272.7" font-size="64.6" text-anchor="start" font-family='"Liberation Sans", sans-serif' >t [µs]</text>
<text transform="translate(76,738.6) rotate(-90) scale(1.1,1)" font-size="61" font-style="italic" font-family='"Liberation Sans", sans-serif'>ϑ</text>
<text transform="translate(76,680.5) rotate(-90)" font-size="64.8" font-family='"Liberation Sans", sans-serif'>[deg]</text>
<text x="1800.5" y="1306.6" font-size="87" text-anchor="start" font-family='"Liberation Serif", serif' >A</text>
<path d="M439.8 2466.5v-20.5M439.8 1482.5v20.5M621.9 2466.5v-20.5M621.9 1482.5v20.5M804.1 2466.5v-20.5M804.1 1482.5v20.5M986.2 2466.5v-20.5M986.2 1482.5v20.5M1168.3 2466.5v-20.5M1168.3 1482.5v20.5M1350.5 2466.5v-20.5M1350.5 1482.5v20.5M1532.7 2466.5v-20.5M1532.7 1482.5v20.5M259.5 1485.6h20.5M1712.5 1485.6h-20.5M259.5 1648.5h20.5M1712.5 1648.5h-20.5M259.5 1811.3h20.5M1712.5 1811.3h-20.5M259.5 1974.2h20.5M1712.5 1974.2h-20.5M259.5 2137.1h20.5M1712.5 2137.1h-20.5M259.5 2299.9h20.5M1712.5 2299.9h-20.5" fill="none" stroke="#000" stroke-width="2.8"/>
<path d="M260 2462.8H1712" fill="none" stroke="#fff" stroke-width="3.4"/>
<clipPath id="clipB"><rect x="257.5" y="1480.6" width="1457.2" height="987.9"/></clipPath>
<g clip-path="url(#clipB)" fill="none" stroke-width="3" stroke-linejoin="bevel">
<path d="M258.5 2299v19l1-3v-16l1-7v33l1-22v-22l1 2v13l1 13v-21l1-19v28l1-3v-17l1-5v13l1 14v-44l1 4v56l1 18v-63l1-17v32l1-10v-15l1-1v18l1-2v-17l1 2v59l1-42v-19l1-3v11l1-3v-14l1 5v24l1 17v-35l1 7v21l1 11v-20l1-11v26l1 8v-18l1 10v49l1-21v-29l1 4v14l1-8v-38l1 17v35l1 6v-30l1 15v17l1 3v-14l1 1v20l1-1v-26l1-9v32l1 19v-37l1-2v31l1 6v-41l1 18v43l1-19v-18l1 5v21l1 14v-34l1-1v16l1 4v-41l1 24v13l1 1v-14l1-5v37l1-6v-21l1-1v27l1 0v-24l1-10v42l1 5v-39l1-11v61l1-37v-16l1-1v45l1-29v-30l1 5v41l1-32v-29l1 0v23l1-7v-22l1-4v25l1-12v-16l1-10v39l1-23v-20l1 2v21l1-5v-26l1 12v18l1-16v-13l1-3v18l1 0v-25l1-1v21l1-6v-11l1-9v18l1 2v-16l1-9v13l1 26v-30l1-1v27l1 12v-37l1-1v25l1-10v-19l1-23v46l1 29v-46l1-1v13l1 22v-39l1 12v20l1 6v-15l1 1v38l1-14v-23l1 26v29l1-4v-26l1 2v27l1-4v-16l1-10v59l1-24v-19l1 0v28l1 8v-35l1-2v24l1 11v-39l1 12v22l1 4v-20l1-5v23l1-2v-14l1 15v18l1 8v-55l1 36v20l1 7v-28l1 19v21l1-10v-17l1 1v24l1-31v-12l1-9v24l1-15v-24l1 0v13l1 0v-49l1 15v13l1 19v-27l1 19v25l1-13v-18l1 1v45l1-37v-25l1 7v25l1 8v-25l1-11v20l1-5v-14l1-13v18l1 5v-18l1-8v20l1 10v-36l1 2v11l1 15v-23l1 1v34l1-5v-18l1-10v44l1-11v-12l1 10v15l1-11v-14l1-1v32l1-9v-22l1-19v52l1-3v-22l1-14v34l1-1v-14l1-9v17l1 1v-22l1-11v14l1 22v-44l1 9v12l1 6v-19l1-17v23l1-7v-15l1-6v11l1 11v-18l1 6v13l1 0v-19l1 11v25l1-6v-13l1 8v26l1 17v-34l1-8v30l1 6v-21l1-5v13l1 7v-17l1 10v17l1 8v-28l1 4v24l1 16v-36l1-4v32l1-25v-40l1 22v16l1 9v-26l1-3v25l1-17v-23l1 13v22l1-2v-29l1-15v18l1-9v-16l1-11v18l1 7v-20l1 1v23l1-18v-19l1-17v25l1 10v-27l1-11v40l1-16v-26l1 5v23l1-11v-51l1 46v11l1-3v-21l1 0v24l1 16v-17l1-7v19l1 4v-29l1 7v22l1 7v-25l1-29v55l1-18v-39l1-5v71l1-45v-30l1 15v20l1-13v-24l1 0v26l1 6v-33l1-9v31l1-3v-38l1 1v15l1-6v-31l1 3v11l1 0v-37l1 10v14l1 16v-29l1-13v35l1-11v-41l1 5v45l1-10v-17l1-9v16l1 13v-35l1 18v20l1 13v-30l1 11v24l1 5v-29l1 0v26l1-7v-19l1 17v35l1-2v-25l1 4v20l1-5v-28l1 10v38l1 11v-26l1-4v22l1 18v-20l1 7v17l1 2v-37l1 24v16l1 12v-29l1-37v47l1 6v-19l1 10v12l1-7v-18l1-15v23l1 16v-20l1-4v30l1-7v-18l1-14v32l1 0v-25l1-12v17l1-2v-21l1-2v16l1 39v-56l1-10v28l1 5v-21l1 0v25l1-5v-26l1 8v36l1-7v-16l1 4v17l1 14v-25l1-9v23l1-7v-48l1 38v17l1 0v-19l1-6v29l1-6v-19l1 6v17l1-15v-14l1-11v17l1-2v-19l1-55v74l1-8v-22l1-9v48l1-11v-36l1 8v25l1-6v-11l1-10v27l1 1v-31l1-6v36l1 1v-23l1-4v20l1-3v-16l1-16v19l1-8v-34l1-15v44l1-9v-20l1 3v14l1 7v-25l1-21v21l1-2v-21l1 21v19l1 17v-31l1 21v15l1 15v-12l1 2v38l1-2v-16l1 21v21l1-13v-15l1-5v36l1-7v-25l1 3v53l1-27v-16l1 8v30l1-10v-14l1-29v40l1-1v-23l1 12v22l1 2v-41l1 21v25l1-4v-24l1-5v19l1 11v-24l1-6v28l1 12v-38l1-6v39l1-6v-19l1 7v14l1-6v-22l1 6v33l1-17v-29l1 26v17l1 5v-15l1-6v14l1 6v-18l1 10v11l1 10v-13l1-7v42l1-18v-33l1-12v49l1-20v-18l1-11v21l1-1v-24l1-6v20l1 3v-44l1 19v16l1 6v-16l1 13v17l1-5v-13l1 4v30l1-8v-33l1 17v30l1-19v-17l1-11v22l1-12v-10l1-13v26l1-8v-22l1 1v24l1-20v-18l1 3v14l1-2v-20l1-2v18l1-3v-22l1-14v25l1 3v-24l1-9v33l1-18v-25l1 10v12l1 5v-27l1-13v24l1-8v-15l1-15v29l1-2v-35l1 4v50l1-22v-15l1-13v36l1-1v-20l1 7v20l1 22v-19l1-11v36l1 9v-25l1-6v18l1-2v-18l1 18v31l1-12v-20l1 18v13l1 15v-29l1-34v54l1-13v-17l1 1v25l1-1v-47l1 30v12l1-7v-14l1-15v41l1-10v-23l1 12v13l1-8v-17l1-9v32l1 15v-33l1 15v16l1 2v-25l1 3v34l1-18v-18l1 1v17l1-2v-19l1-6v28l1-6v-14l1-18v25l1 29v-49l1-9v38l1-7v-20l1 7v17l1 5v-28l1 5v20l1 5v-20l1-5v28l1 6v-26l1 7v27l1-16v-21l1 2v21l1-10v-15l1-12v30l1 17v-48l1-12v19l1-4v-24l1-8v36l1-13v-25l1 0v19l1-1v-26l1-3v21l1-5v-15l1-7v28l1 1v-32l1-13v20l1-3v-18l1-23v39l1-14v-25l1-3v22l1-11v-19l1 6v15l1-4v-15l1-16v17l1 17v-25l1-24v33l1 8v-25l1-7v21l1-3v-21l1-5v26l1 2v-16l1-12v32l1 6v-26l1-9v25l1-3v-20l1-5v18l1 4v-24l1 3v31l1-26v-16l1-5v14l1-1v-22l1-9v30l1-7v-23l1 11v18l1 14v-19l1 0v20l1 9v-27l1 11v33l1-7v-19l1-3v13l1-8v-17l1 12v18l1 4v-44l1 37v21l1 17v-34l1 1v16l1 6v-29l1 10v24l1-12v-12l1-7v22l1-4v-20l1 7v23l1-9v-13l1-28v41l1-11v-18l1 0v40l1-22v-21l1 9v21l1-12v-21l1 3v27l1 0v-46l1-4v40l1 3v-23l1-3v18l1 4v-30l1 21v25l1-6v-12l1-8v27l1 2v-17l1 4v19l1-9v-15l1-9v18l1-7v-18l1-3v19l1 0v-20l1-3v25l1-2v-28l1-33v40l1 7v-16l1-25v33l1-19v-15l1-9v31l1 6v-18l1-20v17l1 9v-17l1-3v26l1 2v-29l1 13v46l1-27v-17l1 5v25l1 7v-21l1 9v13l1 9v-24l1 1v20l1 8v-16l1-10v13l1 10v-15l1 1v20l1 0v-24l1 1v27l1 2v-16l1-5v30l1 8v-17l1 0v16l1 6v-38l1 14v19l1-5v-19l1 16v21l1-1v-12l1-6v17l1-2v-20l1 3v12l1-5v-27l1-11v32l1-7v-13l1-14v15l1 1v-12l1-13v40l1-7v-34l1 22v44l1-29v-19l1 2v32l1-17v-17l1-5v11l1 6v-18l1-3v19l1-5v-12l1-15v29l1 9v-26l1-5v17l1-15v-16l1-11v45l1-36v-20l1-11v21l1 1v-21l1-17v22l1-25v-29l1-7v25l1 3v-36l1-20v13l1 2v-16l1-8v17l1-3v-15l1-15v20l1 3v-24l1 0v18l1 2v-34l1 8v28l1-7v-23l1-7v19l1 5v-24l1 7v17l1 1v-29l1 14v12l1 3v-13l1 4v18l1-7v-15l1-17v36l1 9v-29l1 3v22l1-1v-18l1-2v24l1-16v-18l1 0v17l1 4v-24l1 10v47l1-18v-30l1 18v12l1 9v-28l1 15v22l1-6v-16l1 1v14l1 6v-23l1-11v28l1 9v-43l1 15v37l1-19v-15l1 16v38l1-17v-15l1-1v35l1 6v-24l1 6v24l1 12v-32l1-9v25l1-25v-16l1 4v14l1-6v-18l1-11v19l1 0v-17l1 0v13l1-1v-16l1-25v36l1-15v-26l1 13v20l1-6v-16l1-11v43l1 2v-39l1 16v13l1-4v-26l1-4v26l1 9v-14l1 3v15l1 5v-20l1 11v31l1 31v-78l1 1v30l1-2v-16l1 12v13l1 5v-36l1 15v22l1 8v-30l1 7v18l1-6v-20l1 4v24l1-5v-23l1-2v18l1 6v-27l1-5v41l1-13v-20l1-14v14l1 10v-50l1 24v13l1 25v-55l1-1v27l1-5v-14l1 1v35l1-16v-25l1 5v16l1 14v-24l1-6v22l1 21v-29l1-6v23l1 13v-17l1-2v25l1 22v-42l1 6v12l1 26v-25l1 11v13l1 10v-33l1 4v14l1 3v-11l1-1v34l1-14v-22l1 6v24l1 21v-41l1 7v10l1-3v-12l1 4v20l1 7v-14l1-23v25l1 7v-30l1 18v17l1 11v-35l1 16v21l1 8v-25l1-5v40l1-3v-33l1 16v12l1 0v-24l1-4v28l1 25v-38l1-4v32l1 10v-30l1 1v39l1 1v-24l1-5v24l1 11v-34l1-12v47l1-18v-14l1 6v19l1 18v-15l1-6v38l1-7v-25l1 18v32l1 1v-25l1 15v28l1 10v-19l1 20v28l1 5v-19l1-1v15l1-21v-14l1-17v17l1-11v-20l1-21v22l1-1v-46l1 6v20l1 4v-44l1-28v57l1-20v-21l1-28v29l1-19v-45l1 8v26l1-8v-11l1-14v13l1 1v-27l1-1v19l1 21v-52l1 2v13l1 11v-24l1-9v35l1-5v-18l1 2v16l1-2v-15l1-10v24l1-12v-20l1-7v25l1-2v-27l1 9v26l1-11v-12l1 12v14l1-4v-26l1 8v25l1-23v-49l1 20v22l1 0v-25l1 9v32l1-9v-46l1 23v25l1-2v-18l1-20v32l1-9v-11l1-25v37l1 37v-48l1-18v27l1 9v-13l1-5v19l1-3v-18l1-3v21l1-1v-19l1 0v17l1 1v-49l1 38v37l1 1v-23l1-20v36l1 4v-21l1-1v15l1 7v-43l1 27v21l1-5v-15l1-20v31l1 14v-30l1-1v21l1 1v-29l1-12v31l1-9v-16l1 5v22l1-5v-22l1 12v15l1-11v-15l1-19v26l1 2v-23l1-27v35l1-1v-18l1 9v33l1-29v-19l1 2v16l1 7v-19l1-1v31l1-28v-22l1 7v15l1-12v-41l1 3v40l1-2v-44l1-4v36l1-11v-15l1-5v16l1 1v-12l1 3v17l1-10v-11l1-22v17l1 7v-37l1 4v18l1 8v-23l1 2v25l1-1v-26l1-1v15l1 9v-18l1-7v37l1-34v-18l1-1v22l1-8v-57l1 30v32l1-17v-16l1-4v20l1 5v-30l1-9v23l1 8v-20l1-9v16l1 0v-12l1-3v14l1 1v-19l1-2v19l1 12v-31l1-6v19l1 5v-18l1-12v22l1-5v-24l1 11v14l1 12v-25l1 9v25l1 1v-32l1-3v24l1-8v-18l1 1v19l1-6v-16l1-9v15l1 7v-20l1-9v20l1 2v-14l1-14v34l1-13v-34l1 17v19l1-16v-15l1-11v18l1 29v-48l1 20v15l1-4v-36l1 8v26l1-11v-24l1-7v29l1-1v-41l1 3v31l1-10v-12l1-3v26l1-19v-17l1-10v22l1 0v-52l1 32v15l1 5v-18l1-3v30l1 10v-31l1-5v19l1 0v-23l1-14v16l1 14v-37l1 4v23l1-4v-18l1-8v23l1-14v-18l1-14v32l1-12v-23l1 10v12l1-2v-18l1-13v20l1 7v-23l1 7v20l1 4v-17l1-15v40l1-7v-25l1 8v16l1-2v-18l1-15v32l1 3v-13l1 0v15l1 10v-24l1 13v16l1 13v-17l1 21v16l1 8v-18l1-15v25l1-14v-24l1 7v15l1 8v-12l1-20v19l1 5v-17l1-4v13l1 9v-21l1-4v17l1 9v-39l1-17v31l1 8v-28l1-23v25l1-11v-19l1-3v16l1 7v-40l1 5v23l1-8v-26l1 5v18l1-5v-14l1-19v32l1-2v-31l1-45v56l1-16v-29l1 8v24l1-5v-29l1 1v19l1-16v-29l1 11v19l1-11v-26l1 12v17l1-1v-16l1 5v13l1 15v-29l1 6v15l1 6v-34l1 3v58l1-31v-20l1 21v15l1-1v-16l1-1v18l1 1v-18l1 1v30l1-22v-27l1 0v33l1-13v-39l1 9v40l1-15v-12l1-19v44l1 13v-46l1-10v22l1-2v-20l1-16v30l1 5v-34l1 19v10l1-1v-19l1-4v20l1-1v-20l1 4v18l1 2v-20l1 16v35l1-11v-35l1 1v17l1 15v-52l1-13v50l1-3v-14l1 0v37l1 2v-21l1-26v33l1 1v-49l1 25v12l1 14v-18l1 5v25l1-1v-17l1 11v13l1 8v-24l1 3v31l1-10v-37l1 33v14l1 1v-21l1 7v19l1 21v-35l1-5v14l1 8v-15l1-28v54l1-9v-21l1 8v23l1 31v-36l1 17v18l1-7v-14l1 14v16l1-1v-15l1 10v13l1 7v-21l1-26v36l1 8v-16l1 6v21l1 11v-39l1 11v18l1 14v-26l1 5v21l1 13v-14l1-1v12l1-3v-15l1-1v40l1-20v-29l1 1v19l1 0v-21l1-17v31l1-11v-21l1-13v19l1-9v-29l1 15v29l1-13v-15l1-12v35l1-23v-14l1 2v27l1 4v-33l1 4v23l1 8v-29l1 12v25l1 10v-46l1 21v16l1 16v-21l1-1v15l1-8v-18l1 19v16l1 3v-22l1 2v20l1-3v-27l1-1v33l1-14v-17l1 2v22l1-2v-22l1-1v26l1 20v-34l1 1v17l1 11v-43l1 30v26l1 0v-24l1-2v20l1-16v-29l1-6v17l1-16v-17l1-9v28l1-17v-20l1-13v29l1-8v-26l1 3v15l1-8v-32l1 0v31l1-12v-20l1-13v19l1-4v-38l1-13v49l1-25v-18l1 0v24l1-14v-15l1-14v23l1-6v-24l1 4v34l1-5v-25l1 8v25l1-6v-18l1-4v23l1 6v-21l1-5v27l1 8v-21l1-5v20l1 7v-17l1 15v27l1-5v-27l1 12v11l1 24v-33l1-3v18l1 8v-25l1 9v18l1-7v-15l1-6v40l1-23v-16l1 14v12l1-8v-17l1 3v15l1-7v-15l1-6v15l1-12v-24l1 7v26l1 13v-21l1-4v18l1 7v-24l1-8v22l1 10v-24l1-7v25l1 30v-18l1-3v14l1 19v-18l1 3v18l1 3v-30l1 14v28l1-10v-18l1 3v21l1 8v-16l1-8v29l1 27v-35l1 10v19l1-15v-20l1 8v21l1 6v-23l1 9v17l1-5v-18l1-1v31l1 24v-39l1-8v21l1 10v-33l1-24v44l1 7v-13l1-10v39l1-22v-28l1 8v18l1 9v-43l1 29v14l1 9v-10l1-14v28l1 19v-34l1 4v21l1 6v-15l1 6v15l1 14v-21l1-6v14l1 8v-37l1 17v15l1-16v-12l1-30v50l1-16v-16l1-19v37l1 12v-44l1 3v32l1 9v-48l1 15v24l1-15v-32l1-1v21l1-8v-12l1-10v15l1 0v-23l1 5v23l1-7v-12l1 5v14l1 15v-39l1 18v11l1 25v-32l1 11v13l1 16v-35l1 7v12l1 31v-29l1-6v29l1 20v-38l1 22v12l1 0v-27l1 3v45l1 19v-43l1 4v35l1-17v-23l1 13v15l1 1v-17l1 17v18l1-14v-48l1 6v43l1 7v-14l1 12v23l1-15v-14l1 2v26l1 15v-36l1 6v21l1-18v-21l1 16v14l1-5v-19l1-9v24l1-13v-15l1 4v31l1-23v-16l1 1v14l1-7v-25l1-25v41l1 0v-17l1 7v21l1 13v-26l1 4v29l1-6v-21l1 6v28l1 8v-25l1 2v16l1 9v-27l1 9v19l1 14v-19l1-1v20l1 19v-26l1-15v36l1-1v-28l1 14v13l1 15v-33l1 10v24l1 2v-38l1 3v29l1 5v-28l1 5v22l1-5v-31l1 10v15l1 26v-40l1-15v34l1 7v-23l1 5v18l1 3v-17l1 4v27l1-4v-34l1 29v12l1-3v-26l1 14v20l1 13v-30l1-11v34l1 26v-37l1 7v14l1 18v-16l1-2v20l1 0v-19l1-7v36l1-6v-13l1-4v24l1 18v-16l1 4v24l1-3v-29l1 19v21l1 3v-13l1 9v13l1 11v-15l1 12v12l1 8v-16l1 11v35l1-9v-22l1 11v14l1 13v-16l1 12v15l1 5v-40l1 26v15l1 2v-20l1 7v25l1-25v-33l1 23v19l1-10v-20l1-3v26l1-1v-20l1-9v29l1-6v-22l1-3v20l1-8v-12l1-23v35l1 3v-44l1 15v29l1-16v-15l1 5v12l1 0v-13l1 1v14l1 23v-48l1 3v25l1-6v-11l1-3v12l1 19v-14l1-8v24l1 18v-20l1 8v18l1-5v-16l1-8v40l1 13v-32l1 1v15l1 2v-20l1 22v29l1-14v-15l1-7v29l1 0v-21l1 5v27l1-3v-12l1 6v13l1 18v-30l1-1v29l1 2v-17l1 0v21l1 5v-24l1-2v20l1-17v-21l1-9v26l1-5v-21l1-30v30l1-9v-24l1-9v24l1 6v-37l1 2v27l1-8v-13l1-9v47l1-48v-33l1-2v32l1-19v-20l1-4v19l1 27v-42l1-32v29l1 20v-30l1-2v46l1-34v-12l1 1v12l1-13v-13l1-5v30l1-11v-31l1 14v18l1 30v-41l1-30v45l1-14v-17l1 12v12l1 12v-27l1-4v21l1-15v-17l1-1v27l1 6v-36l1 0v40l1-16v-34l1 24v29l1-14v-21l1-5v33l1-25v-19l1 11v49l1-37v-26l1 3v35l1-7v-31l1 15v13l1-9v-20l1 0v40l1-12v-12l1-4v29l1 1v-19l1-16v27l1 10v-20l1-7v28l1 17v-47l1 10v40l1 33v-67l1-23v47l1-10v-16l1 8v29l1 3v-23l1 0v18l1-1v-15l1 12v14l1 7v-14l1-16v33l1-14v-12l1-6v17l1 45v-37l1 2v24l1-3v-14l1-9v11l1 5v-21l1-22v19l1-2v-27l1 11v21l1-11v-18l1-16v28l1 0v-42l1 26v11l1 8v-24l1-7v18l1 7v-11l1 8v16l1 7v-15l1-1v53l1 6v-15l1-17v39l1-16v-19l1-23v30l1 7v-34l1-19v34l1-14v-26l1-16v17l1 21v-32l1 12v21l1-10v-14l1-30v45l1 28v-47l1 1v18l1 6v-19l1-5v18l1 2v-36l1 19v15l1-8v-12l1-8v12l1-11v-42l1 29v19l1 1v-25l1-16v36l1 14v-37l1 4v22l1 6v-26l1 0v12l1 7v-20l1-4v40l1-35v-15l1 1v18l1-4v-24l1 4v15l1 4v-31l1-21v41l1 3v-31l1 10v22l1-13v-21l1-4v19l1-3v-33l1 12v20l1-7v-13l1 4v19l1-7v-21l1-5v41l1 6v-31l1-5v33l1 7v-30l1 10v19l1 4v-25l1 2v21l1 3v-45l1 33v14l1 15v-18l1-20v35l1 9v-21l1 9v33l1-14v-16l1-8v30l1-3v-21l1 2v15l1 3v-32l1 1v23l1 5v-22l1-7v26l1-13v-17l1-37v46l1 1v-24l1 2v26l1 6v-46l1 1v32l1-1v-15l1 6v15l1 16v-22l1-7v44l1 11v-48l1-8v17l1 33v-35l1-6v32l1-11v-13l1 0v21l1-10v-13l1 4v23l1-14v-19l1-10v30l1 3v-17l1 6v13l1 2v-15l1-29v32l1-2v-17l1 1v17l1 0v-12l1-9v49l1-28v-29l1-21v37l1 7v-26l1-21v53l1-11v-27l1 18v33l1-4v-17l1-2v32l1-7v-10l1 2v16l1-4v-17l1 3v30l1-18v-26l1 8v25l1-7v-18l1 9v20l1-6v-14l1-19v23" stroke="#ff0000"/>
<path d="M258.5 2313v12l1 1v-48l1 23v29l1 2v-22l1 12v17l1-5v-14l1 17v18l1-7v-26l1-2v16l1-1v-26l1 13v14l1 20v-43l1 5v30l1-18v-17l1 1v13l1 1v-22l1 1v23l1-13v-26l1-4v30l1-11v-16l1 4v16l1 3v-40l1 4v20l1-16v-22l1-3v27l1 7v-30l1-5v48l1-10v-31l1-13v14l1-13v-15l1-25v49l1-9v-13l1-21v25l1-7v-21l1 4v18l1 10v-26l1 15v19l1 9v-36l1 8v21l1 9v-27l1 9v61l1-42v-36l1 11v25l1 7v-13l1-8v31l1-9v-27l1-6v17l1 4v-18l1-6v15l1 12v-18l1-8v13l1 3v-16l1-19v31l1-20v-11l1-4v24l1-21v-13l1 1v19l1-2v-32l1-1v15l1-2v-32l1-7v34l1-12v-59l1 26v47l1-38v-20l1-5v33l1-30v-19l1-7v50l1-23v-22l1-5v11l1 9v-19l1-10v26l1 2v-21l1 4v10l1 13v-24l1-15v21l1-6v-23l1 5v16l1-11v-43l1 21v15l1-16v-19l1-12v28l1-9v-18l1-7v13l1-20v-16l1 4v30l1-8v-49l1-7v36l1 0v-23l1 3v27l1-26v-13l1-20v23l1 15v-15l1-6v24l1 18v-19l1-3v37l1-3v-26l1 0v50l1-29v-23l1 0v63l1-32v-19l1-18v29l1-1v-39l1 26v14l1 49v-81l1 15v18l1 6v-19l1-12v21l1 1v-14l1 1v19l1 0v-19l1 15v23l1 0v-21l1 0v15l1 17v-24l1-23v49l1 1v-25l1-10v32l1 11v-43l1 15v12l1 24v-39l1-1v20l1 1v-23l1-7v20l1 16v-19l1-4v37l1-13v-24l1 8v16l1 8v-27l1-2v19l1 2v-17l1-7v38l1-15v-16l1-4v26l1 0v-29l1-3v48l1-12v-27l1-10v26l1 6v-29l1 2v21l1-6v-22l1-2v27l1-4v-58l1 29v23l1-8v-26l1 6v17l1 33v-51l1-15v20l1 2v-23l1-3v18l1-7v-33l1 9v23l1 3v-16l1 12v13l1 5v-18l1 4v19l1 14v-45l1-6v48l1-16v-16l1-18v39l1-5v-38l1-9v22l1-11v-14l1 0v24l1 15v-34l1 2v21l1-11v-26l1 1v31l1 13v-29l1 6v17l1 23v-40l1-1v24l1 20v-22l1 9v14l1 11v-13l1 7v25l1-17v-18l1-13v36l1 11v-26l1 6v15l1 10v-13l1-1v12l1 11v-28l1 1v18l1 13v-21l1-16v38l1-23v-12l1-5v35l1-13v-20l1-11v23l1-1v-19l1-31v37l1 14v-15l1-13v32l1-10v-47l1 28v20l1-13v-23l1 22v28l1-10v-29l1 19v19l1 1v-23l1 1v18l1 8v-23l1-17v23l1 21v-52l1 8v17l1 3v-18l1 2v18l1-15v-13l1-4v20l1-3v-20l1-9v14l1 1v-19l1-40v43l1 22v-53l1 11v17l1 5v-35l1 31v40l1-31v-12l1-14v18l1 9v-39l1 22v31l1 4v-40l1 3v23l1-3v-33l1 20v12l1 9v-16l1 6v18l1 5v-17l1-4v14l1 11v-17l1 19v11l1 14v-41l1 24v24l1-18v-13l1 2v10l1 1v-22l1-7v22l1 5v-17l1-4v18l1-4v-27l1 7v28l1-16v-25l1 2v18l1-15v-19l1-41v44l1 19v-35l1 7v24l1-2v-26l1 4v16l1 2v-18l1 6v24l1-15v-13l1 2v18l1-17v-41l1 3v43l1 2v-17l1 4v19l1 1v-23l1 2v22l1-1v-12l1 0v34l1-11v-22l1-19v31l1 22v-43l1 9v17l1-11v-23l1-5v28l1-14v-19l1 23v11l1 18v-22l1 14v23l1 1v-35l1 2v25l1 6v-20l1 3v30l1-13v-20l1 4v18l1 48v-84l1 19v35l1-15v-32l1 4v17l1 19v-29l1 12v14l1 9v-22l1-11v11l1 15v-18l1 9v12l1 35v-55l1 9v42l1-25v-22l1 11v12l1 5v-13l1-1v48l1-31v-25l1 17v17l1 20v-27l1-3v20l1 22v-32l1-32v51l1 32v-51l1 18v15l1 0v-18l1-6v41l1 3v-17l1 9v25l1 4v-20l1 0v43l1-5v-27l1-1v27l1 6v-19l1 0v15l1 3v-30l1-5v14l1 18v-40l1-11v50l1-33v-22l1 1v18l1-5v-24l1 11v14l1-1v-28l1-1v22l1-13v-18l1-2v23l1-9v-34l1 7v19l1 3v-19l1-44v44l1 17v-35l1 7v12l1-3v-25l1-8v35l1-16v-24l1-3v27l1 0v-21l1 1v32l1-36v-18l1-12v24l1 20v-32l1-23v18l1-2v-22l1-8v46l1-29v-25l1-35v58l1-2v-13l1-10v19l1 5v-34l1 3v25l1-12v-15l1 2v33l1-17v-26l1 2v20l1 3v-21l1-3v21l1 4v-21l1-1v18l1-4v-30l1 2v29l1-10v-26l1-3v26l1-15v-33l1 9v13l1-17v-15l1 12v21l1 7v-19l1 9v53l1-42v-15l1 11v18l1 7v-18l1-15v31l1 7v-15l1-3v47l1-22v-12l1 15v19l1-6v-14l1-11v24l1 2v-22l1 8v36l1-32v-32l1 18v23l1-15v-23l1 14v16l1-6v-24l1-2v22l1-16v-18l1 1v14l1 9v-29l1-3v27l1-14v-21l1-10v57l1-43v-19l1 11v25l1-11v-28l1 6v32l1-27v-13l1-14v39l1-5v-34l1-4v21l1 25v-31l1-1v14l1 4v-15l1 0v15l1 1v-21l1 14v42l1-24v-18l1 1v13l1-5v-14l1-12v38l1-13v-37l1 4v32l1-23v-22l1-9v40l1 28v-33l1 14v31l1 4v-20l1-4v25l1-26v-19l1-3v26l1-22v-32l1 2v21l1-6v-17l1 9v15l1 0v-14l1-5v35l1 37v-72l1 13v60l1-28v-18l1-8v16l1 15v-35l1 0v31l1-5v-20l1 4v32l1-13v-35l1 12v17l1-4v-26l1 5v26l1-12v-12l1-9v15l1-1v-50l1-4v42l1 10v-34l1 12v35l1-5v-39l1 16v19l1 3v-17l1 6v15l1 8v-16l1 6v20l1-6v-20l1 4v15l1 17v-37l1 10v39l1 3v-42l1 11v20l1 21v-35l1-9v50l1-20v-27l1-12v28l1-10v-25l1 7v20l1-6v-12l1-31v42l1 2v-18l1-5v20l1 12v-43l1 0v30l1-4v-20l1-1v26l1 3v-14l1-13v18l1 4v-35l1 2v48l1-21v-21l1 5v29l1-3v-25l1 21v22l1 10v-29l1 7v17l1 6v-22l1-11v28l1 6v-27l1 5v28l1-3v-25l1 11v13l1 0v-13l1 11v12l1 21v-53l1 23v59l1-26v-29l1-2v24l1 9v-17l1-9v30l1-20v-19l1-1v20l1 22v-26l1-6v17l1 24v-36l1-15v59l1-42v-13l1 11v26l1 10v-21l1-12v24l1 22v-41l1-1v37l1 0v-19l1-11v14l1-12v-23l1 1v20l1-2v-23l1-7v11l1-7v-11l1-23v37l1-25v-39l1 3v36l1 10v-41l1 19v21l1 17v-33l1 19v21l1 11v-28l1-34v45l1-11v-16l1-1v22l1 1v-22l1 15v21l1 1v-25l1-12v33l1-20v-13l1 2v14l1 5v-12l1-11v24l1 4v-33l1 14v15l1 3v-13l1-22v19l1-8v-25l1 6v17l1-5v-29l1-1v33l1-12v-28l1-4v53l1-36v-18l1-4v12l1 1v-41l1 15v13l1-11v-22l1 12v28l1 9v-39l1 23v13l1 28v-25l1-3v32l1 9v-32l1 17v21l1 34v-37l1 1v12l1 10v-26l1 9v17l1 12v-25l1 6v13l1 1v-22l1 13v16l1 6v-14l1 3v23l1 12v-20l1 8v11l1 0v-18l1-9v40l1-25v-18l1-1v14l1 9v-18l1 2v23l1-15v-16l1 15v51l1-29v-25l1 2v16l1 7v-24l1 6v11l1-2v-11l1-3v19l1 0v-14l1-11v27l1-6v-18l1-24v35l1-17v-24l1-2v25l1-5v-42l1 6v24l1 8v-29l1-32v29l1 7v-36l1 4v14l1 2v-39l1 17v23l1-17v-15l1-2v20l1-4v-15l1-4v12l1 6v-32l1-9v19l1-10v-14l1-2v22l1-6v-21l1 1v29l1-23v-15l1-7v28l1 7v-29l1 3v15l1-22v-34l1 15v20l1 18v-48l1-3v21l1-14v-13l1-16v27l1-17v-24l1 18v15l1 9v-29l1-26v45l1-4v-16l1-6v33l1 13v-41l1 12v23l1 0v-21l1-5v21l1-5v-31l1 17v34l1-24v-10l1-19v32l1-3v-20l1 2v15l1 1v-20l1-34v57l1 2v-35l1 16v23l1-10v-16l1 6v14l1-3v-36l1 9v44l1-42v-26l1-10v36l1-11v-11l1-2v13l1 6v-26l1 5v16l1 9v-18l1-7v18l1 10v-20l1 1v18l1 26v-22l1-14v22l1 8v-30l1 27v11l1 15v-14l1 6v31l1 3v-46l1 30v17l1 14v-28l1-1v35l1 4v-22l1 12v19l1 3v-19l1 11v16l1 23v-27l1-4v15l1 5v-14l1-30v47l1-8v-10l1-14v18l1 16v-41l1 9v35l1-2v-27l1-5v22l1 7v-27l1 4v37l1-8v-49l1 28v23l1 9v-50l1 45v23l1-9v-20l1-1v29l1-5v-12l1-6v13l1 0v-14l1 7v18l1 4v-31l1-4v30l1 18v-27l1 0v22l1 5v-26l1 1v17l1 33v-33l1-15v18l1-7v-34l1 23v17l1-9v-28l1-16v27l1 8v-23l1-20v29l1-17v-29l1 0v17l1-2v-16l1-10v24l1-16v-17l1-3v24l1 10v-29l1-14v15l1-11v-18l1 3v24l1-5v-12l1-9v26l1-10v-21l1-4v31l1 17v-19l1 1v19l1 3v-17l1 6v22l1 1v-35l1 13v25l1-22v-12l1 5v27l1-12v-26l1 12v15l1 9v-43l1-7v24l1-5v-12l1 1v18l1 20v-16l1 9v16l1 15v-13l1 8v15l1 6v-16l1 0v27l1 37v-49l1 7v12l1 13v-27l1-4v30l1-5v-23l1-2v28l1 7v-33l1-3v14l1-2v-30l1-13v21l1 5v-32l1 9v22l1 38v-48l1-7v14l1 17v-27l1-30v53l1-1v-38l1-22v50l1-4v-12l1-14v16l1 0v-40l1 16v35l1-8v-15l1-4v34l1-14v-59l1 32v32l1 1v-24l1-7v26l1-1v-11l1-6v19l1-1v-17l1-3v17l1 12v-40l1-12v13l1 1v-25l1-3v18l1-16v-13l1-8v18l1 9v-21l1 1v25l1-2v-28l1-2v13l1 2v-19l1 16v28l1-19v-18l1 6v20l1 18v-38l1 0v20l1 5v-17l1 5v13l1-2v-28l1 5v20l1 21v-39l1 1v23l1-10v-30l1 14v19l1 13v-28l1 6v19l1 10v-16l1-1v11l1 2v-15l1-1v26l1 5v-23l1 1v23l1-11v-18l1-16v26l1-1v-27l1-9v20l1 37v-52l1-7v28l1-8v-19l1 18v21l1 11v-41l1-2v12l1 4v-27l1 12v18l1-3v-15l1-4v33l1-8v-42l1 6v38l1-4v-18l1-6v22l1 12v-21l1 14v24l1 12v-30l1-1v27l1 5v-32l1 0v33l1 32v-47l1 3v13l1 0v-19l1-8v19l1 17v-15l1 1v34l1-16v-16l1 4v20l1-6v-14l1 6v35l1-31v-41l1 5v37l1-26v-51l1 17v27l1-6v-16l1-11v16l1-13v-17l1-19v43l1 1v-18l1 4v31l1-24v-14l1-7v22l1-6v-15l1-13v26l1-7v-14l1 2v12l1-10v-20l1 12v23l1-4v-21l1-2v20l1-12v-35l1 26v15l1 20v-41l1-9v23l1 14v-20l1-19v35l1 18v-35l1-6v33l1 12v-19l1 2v33l1-28v-12l1 4v30l1 3v-26l1 2v14l1-6v-25l1 23v16l1 11v-39l1 17v17l1 5v-21l1-22v36l1 4v-32l1 18v12l1 1v-25l1-3v25l1 8v-28l1 7v20l1-9v-14l1-54v74l1-5v-27l1 9v15l1-16v-22l1-1v16l1 0v-23l1-7v28l1 1v-33l1 5v17l1 15v-20l1-23v35l1 4v-23l1 8v25l1-1v-17l1 10v21l1 19v-35l1-8v34l1-5v-20l1 24v13l1 12v-17l1-17v28l1 16v-24l1-1v48l1-17v-27l1 3v24l1 10v-24l1-7v38l1-11v-31l1 6v34l1 12v-36l1 2v26l1-3v-18l1-7v21l1-2v-15l1-4v45l1-21v-16l1 0v18l1-4v-23l1-11v33l1-15v-17l1-8v28l1 15v-30l1 16v22l1 8v-26l1 1v16l1 13v-17l1 12v14l1 5v-16l1-5v19l1 9v-32l1 4v28l1-24v-21l1-1v23l1-5v-30l1 3v15l1 2v-25l1-7v46l1-32v-14l1-9v13l1 5v-32l1 3v27l1-1v-21l1-5v28l1-15v-28l1-21v40l1 3v-26l1 14v57l1-33v-24l1-2v18l1-13v-28l1 9v21l1 10v-14l1-4v24l1 2v-19l1-5v32l1 0v-19l1 0v25l1 0v-19l1-25v50l1 14v-34l1 8v11l1 12v-26l1 13v18l1 10v-31l1 4v30l1 1v-14l1 11v26l1-1v-41l1 18v29l1-3v-13l1-12v21l1 2v-24l1 1v28l1 5v-31l1-11v27l1-4v-28l1 20v19l1-1v-26l1-17v30l1 3v-26l1-1v16l1 21v-36l1-27v27l1-10v-20l1 9v34l1-21v-25l1-4v33l1-14v-14l1-15v35l1 1v-15l1 0v14l1 9v-20l1-2v27l1-3v-22l1-20v33l1 3v-14l1-2v16l1-1v-17l1-9v24l1-19v-19l1 20v24l1-3v-25l1 6v17l1-8v-23l1-12v24l1 0v-15l1-10v26l1 9v-28l1 0v31l1-16v-26l1 16v24l1-10v-11l1-26v39l1-12v-24l1 15v30l1-12v-18l1 14v21l1-10v-26l1-5v27l1 2v-29l1 14v19l1-11v-16l1-3v17l1 10v-24l1-3v24l1-17v-18l1-5v13l1 18v-22l1-6v26l1-20v-24l1 6v56l1-35v-19l1-7v31l1 3v-17l1-14v34l1-7v-28l1 12v11l1-3v-24l1 5v22l1-8v-13l1-1v26l1-4v-44l1 21v34l1-1v-27l1-3v20l1 15v-30l1 8v12l1 2v-22l1-17v30l1-13v-27l1-3v31l1-6v-20l1-16v18l1-7v-21l1 6v22l1-14v-24l1 1v23l1 2v-18l1-17v36l1 5v-20l1-5v32l1 4v-33l1-6v24l1-7v-13l1 2v35l1 1v-37l1-26v52l1-5v-24l1-7v40l1-32v-17l1 3v36l1-4v-20l1 13v16l1 1v-15l1 3v39l1-14v-24l1 26v16l1 29v-45l1 10v21l1-15v-32l1-13v33l1-10v-26l1 12v17l1 35v-32l1 26v22l1 12v-27l1-50v64l1-68v-14l1 0v21l1 15v-30l1 1v38l1 7v-11l1 1v22l1 3v-16l1 4v23l1-13v-12l1 11v65l1-50v-17l1-9v27l1 5v-18l1-4v18l1 27v-42l1 3v16l1-11v-40l1 26v28l1-17v-30l1-16v35l1 7v-13l1-16v20l1-2v-23l1-3v20l1-1v-18l1 5v19l1 5v-35l1 1v28l1-2v-25l1 10v46l1-27v-24l1-15v23l1 8v-28l1-2v15l1-7v-29l1 16v18l1-11v-12l1-7v21l1 8v-24l1 8v12l1 4v-19l1 1v22l1 3v-24l1-5v22l1 1v-23l1-8v34l1-12v-23l1-2v34l1-4v-22l1 0v20l1-14v-18l1-9v31l1 8v-22l1-13v27l1 30v-37l1-12v24l1-5v-22l1 12v20l1 18v-39l1-5v20l1 17v-34l1 5v17l1 16v-19l1 10v16l1 2v-19l1 3v19l1 4v-32l1 10v30l1-14v-13l1 9v15l1 3v-15l1-11v20l1 13v-38l1 10v23l1-19v-20l1 5v30l1-18v-24l1-1v14l1 6v-20l1 0v18l1 11v-29l1-16v55l1-32v-17l1 10v11l1-2v-29l1-4v24l1-6v-27l1 0v27l1 2v-24l1-20v28l1-10v-22l1 15v18l1 10v-15l1 18v22l1-8v-28l1 2v25l1 5v-20l1-2v44l1-21v-16l1 7v33l1-12v-19l1 22v15l1 1v-16l1 1v26l1-1v-29l1 15v11l1 11v-17l1 3v26l1 0v-14l1 0v37l1-3v-22l1 8v13l1 2v-15l1-2v15l1-10v-16l1-5v19l1 2v-20l1-4v31l1-18v-15l1-8v17l1 4v-12l1-14v24l1-4v-27l1 22v11l1-4v-18l1-11v31l1-15v-18l1 6v26l1-8v-15l1-1v27l1-11v-17l1-27v62l1-29v-15l1-6v20l1 13v-27l1 5v15l1-12v-16l1 10v14l1-1v-14l1 3v39l1-21v-15l1 6v48l1-28v-14l1-8v24l1 37v-37l1-1v19l1 17v-26l1 4v24l1 6v-64l1 38v16l1-14v-19l1-49v66l1-27v-32l1 14v15l1-9v-13l1-16v14l1 42v-59l1 12v14l1 2v-44l1 28v24l1-10v-15l1-10v22l1 4v-26l1 5v23l1 3v-23l1 14v23l1-12v-17l1-1v16l1 14v-15l1-7v19l1 20v-57l1-1v22l1 8v-25l1 7v50l1-14v-32l1-5v10l1 8v-18l1-14v24l1 5v-15l1-6v27l1 9v-15l1-9v19l1 6v-29l1-1v26l1 33v-52l1 8v18l1-3v-25l1 18v19l1 4v-46l1 20v33l1-18v-12l1-4v13l1 13v-35l1 0v25l1 13v-25l1 6v22l1-28v-22l1 15v13l1 18v-46l1 4v25l1 17v-46l1 13v12l1 5v-18l1-6v18l1-7v-24l1 2v16l1 1v-14l1 5v27l1-9v-29l1 23v26l1-3v-15l1-10v19l1 3v-21l1 7v14l1 18v-29l1 1v22l1-6v-26l1 11v18l1 24v-29l1-7v35l1-15v-19l1-7v18l1 19v-41l1 1v24l1-16v-22l1-6v28l1 10v-30l1-26v52l1-16v-17l1-6v20l1-6v-13l1 2v19l1-5v-19l1 11v12l1-9v-37l1 19v25l1-8v-22l1-17v21l1-17v-17l1-21v27l1-21v-17l1-20v38l1-9v-15l1-1v12l1 10v-37l1-14v26l1 3v-23l1 13v19l1-6v-22l1-7v30l1 4v-17l1-16v40l1-10v-18l1 2v14l1 19v-24l1-10v16l1 5v-22l1 8v14l1 8v-25l1 17v22l1 20v-22l1 8v27l1 12v-32l1 6v23l1-4v-12l1 5v15l1 25v-20l1-8v32l1 11v-18l1 8v21l1 7v-25l1 15v17l1-4v-17l1 7v25l1-1v-13l1 0v21l1 5v-29l1 15v29l1-11v-13l1-3v20l1 5v-22l1 7v14l1 7v-32l1-5v24l1 25v-29l1-25v40l1-1v-15l1 0v23l1 9v-17l1-11v18l1 26v-28l1 11v17l1-4v-18l1-10v19l1 6v-30l1 4v25l1 3v-35l1 8v16l1-5v-18l1-15v36l1 10v-16l1-7v28l1 30v-60l1 10v14l1 1v-16l1 13v16l1-1v-25l1 2v21l1 7v-43l1-12v45l1 6v-15l1-5v26l1-6v-19l1-14v24l1 2v-23l1-8v22l1 10v-16l1-3v17l1-3v-16l1-8v25l1 2v-23l1 2v37l1-2v-40l1 27v18l1 2v-20l1 7v14l1 8v-13l1 2v24l1-2v-17l1 5v16l1 2v-23l1 21v17l1-3v-28l1 7v16l1 21v-40l1-1v20l1-16v-20l1-1v23l1-22v-25l1 4v14l1-13v-16l1 3v27l1-12v-20l1-19v66l1-14v-47l1-8v28l1-16v-24l1 6v15l1-2v-31l1-1v23l1-15v-18l1-12v22l1-6v-21l1-7v21l1 6v-13l1-20v39l1 8v-23l1-12v20l1-15v-20l1 14v23l1 12v-34l1 0v19l1 20v-33l1-2v15l1 8v-34l1 0v31l1 1v-24l1 13v20l1-7v-28l1-11v42l1-4v-13l1-4v14l1 4v-17l1-6v13l1 0v-15l1-14v41" stroke="#a52a2a"/>
<path d="M258.5 2321v34l1-6v-17l1 4v13l1 3v-25l1-12v52l1-18v-24l1 4v18l1 1v-38l1 2v41l1-7v-23l1-2v17l1-8v-18l1-13v26l1-3v-19l1-8v21l1 7v-22l1 18v16l1-9v-37l1 7v14l1-2v-15l1 3v25l1-20v-51l1 40v20l1-7v-29l1 1v28l1-15v-31l1 2v21l1-7v-16l1 8v49l1-34v-14l1-2v18l1 28v-53l1 17v25l1-7v-10l1 5v24l1-6v-30l1 21v25l1 14v-15l1-23v52l1 17v-24l1 17v17l1 14v-35l1 23v15l1 18v-23l1 7v50l1-53v-29l1 11v17l1 0v-36l1 12v15l1 8v-30l1-15v39l1 5v-32l1-4v32l1-2v-23l1 1v12l1 5v-24l1 2v42l1-30v-24l1 15v18l1 49v-77l1 17v14l1 16v-51l1 6v37l1 9v-53l1 21v22l1-3v-23l1 4v27l1-15v-17l1-14v24l1 30v-58l1-8v26l1-8v-31l1 6v13l1-9v-20l1 9v15l1 7v-30l1 6v21l1-18v-13l1-2v24l1 21v-42l1-11v24l1-20v-22l1-1v24l1-7v-15l1 1v47l1-49v-17l1 8v24l1 9v-45l1-19v31l1-5v-36l1 24v16l1-3v-29l1 10v26l1 7v-20l1 20v17l1 5v-41l1 30v27l1-3v-20l1 19v13l1 5v-21l1 7v17l1 13v-39l1-1v18l1-1v-28l1 10v21l1-15v-16l1-7v19l1 1v-26l1-5v35l1-10v-24l1-1v14l1-5v-19l1 8v36l1-24v-18l1 4v22l1-3v-19l1-21v37l1-23v-13l1 5v14l1-2v-26l1-16v35l1 13v-40l1 3v12l1 4v-22l1 5v19l1 9v-31l1 14v20l1-5v-15l1-13v36l1 4v-12l1-2v17l1 2v-33l1-8v33l1 13v-20l1 0v12l1 25v-31l1-2v20l1 5v-16l1 7v11l1-3v-27l1 20v19l1 7v-17l1-5v15l1 4v-47l1 32v12l1-12v-39l1 8v18l1-5v-12l1-14v27l1-10v-28l1-2v20l1-5v-20l1 3v27l1 5v-34l1-3v24l1-7v-15l1-14v31l1-8v-12l1 2v17l1 9v-12l1-6v27l1 9v-23l1-14v24l1-5v-20l1-23v16l1-17v-21l1-13v19l1-24v-33l1-14v36l1 4v-29l1-5v16l1 1v-19l1 8v18l1-13v-14l1 9v14l1 9v-19l1 13v28l1-17v-23l1 17v23l1-2v-36l1 5v13l1 11v-35l1 21v25l1-16v-33l1 22v24l1-2v-23l1 9v22l1-8v-20l1 9v15l1 7v-26l1 7v26l1-26v-24l1-6v21l1-11v-18l1-4v33l1-26v-34l1 11v20l1 11v-28l1-15v40l1-16v-23l1-4v20l1-1v-17l1-21v20l1 4v-27l1 16v25l1 1v-35l1-2v38l1 2v-21l1 3v16l1 17v-28l1-7v34l1-8v-27l1 1v22l1-1v-30l1 3v13l1-4v-26l1 11v16l1 22v-21l1-12v37l1 13v-22l1 6v21l1 15v-30l1 7v53l1-21v-31l1 8v17l1 9v-20l1 16v22l1-8v-24l1-4v41l1-41v-34l1 24v17l1-9v-27l1-2v16l1-10v-26l1-8v22l1-19v-12l1-14v31l1-12v-20l1-6v22l1 16v-37l1-16v14l1-11v-16l1 5v39l1-11v-20l1-4v26l1 1v-40l1 38v17l1 6v-15l1-8v27l1-12v-18l1 2v39l1-18v-14l1 0v21l1 3v-28l1 8v12l1 11v-23l1-3v27l1-15v-12l1-20v37l1 11v-22l1-10v37l1-27v-36l1 14v26l1-1v-30l1 18v19l1-8v-15l1-3v29l1 0v-14l1-6v29l1-1v-42l1 29v12l1 7v-31l1-4v13l1 6v-23l1 0v17l1 12v-36l1-17v27l1 2v-26l1-9v19l1 10v-18l1-8v26l1-3v-30l1-9v22l1-10v-13l1 8v12l1 29v-35l1-9v20l1 20v-35l1 14v12l1-3v-22l1 10v21l1-7v-26l1-3v19l1-4v-24l1-5v17l1 8v-33l1-19v37l1-4v-13l1-9v19l1-7v-15l1 3v26l1-14v-32l1 22v25l1 22v-38l1-3v32l1-32v-31l1-13v37l1-1v-36l1-21v22l1-11v-19l1 7v24l1-6v-14l1 0v33l1-13v-13l1 13v20l1 27v-43l1-11v17l1-15v-14l1-11v41l1-25v-19l1 4v19l1-14v-12l1-15v27l1 5v-13l1 0v26l1 2v-24l1-5v32l1 2v-18l1 12v19l1 3v-25l1 2v36l1 2v-26l1 1v31l1-6v-15l1 9v16l1 23v-26l1 2v26l1-12v-15l1-11v43l1 17v-55l1 5v25l1-20v-20l1 7v25l1 6v-21l1 7v20l1 17v-23l1-2v20l1 13v-21l1 6v14l1 16v-28l1-1v35l1-19v-27l1 5v20l1-5v-15l1-2v26l1 32v-29l1-9v37l1 4v-15l1-6v22l1-22v-15l1-10v19l1-9v-42l1-13v26l1-5v-31l1-8v25l1 13v-37l1-8v16l1 7v-28l1 1v21l1-16v-19l1-18v40l1-15v-14l1-4v13l1-12v-21l1-24v48l1-15v-14l1-4v15l1 3v-22l1 3v60l1-29v-24l1 7v24l1 2v-25l1 9v24l1 12v-34l1 23v14l1 3v-28l1 21v25l1 13v-32l1-5v29l1 5v-23l1 9v13l1 8v-25l1-12v39l1 0v-25l1-4v29l1-26v-27l1 6v21l1 7v-29l1 4v25l1-20v-27l1 10v25l1 9v-38l1-21v48l1-2v-31l1 8v21l1 11v-33l1-23v50l1 12v-20l1 15v23l1 4v-25l1 1v31l1-8v-16l1-6v30l1-13v-30l1 6v25l1 4v-36l1 2v25l1-7v-35l1 2v31l1-8v-26l1-6v14l1-4v-18l1-10v26l1-12v-24l1-12v21l1-9v-17l1 8v31l1-4v-14l1-24v28l1 19v-18l1-16v31l1 13v-29l1 4v31l1-6v-36l1-10v38l1 6v-16l1 0v16l1-2v-16l1 2v11l1 6v-27l1-13v50l1-1v-27l1 7v24l1 7v-11l1-18v35l1-7v-24l1-11v31l1-12v-15l1-24v26l1-12v-20l1-23v27l1 10v-27l1 28v25l1 27v-27l1 9v26l1 6v-29l1 9v36l1-5v-24l1 23v12l1 18v-24l1 4v19l1 8v-29l1 4v32l1 13v-39l1 19v18l1 10v-21l1 12v30l1-12v-21l1 11v20l1 15v-16l1 9v17l1 23v-31l1 16v16l1 13v-23l1 12v23l1 0v-18l1 13v41l1-10v-13l1-2v29l1 9v-22l1 4v47l1-25v-15l1-5v31l1 7v-25l1-4v16l1-14v-12l1-16v22l1-12v-14l1-15v14l1 18v-60l1 18v21l1-9v-33l1-6v29l1-14v-13l1-21v19l1-6v-19l1-12v26l1-8v-17l1-24v22l1-6v-15l1-9v17l1-13v-27l1 9v24l1-10v-27l1 7v12l1 14v-39l1-16v31l1-12v-28l1 13v37l1-21v-17l1-2v36l1-25v-19l1-11v30l1 2v-24l1-13v33l1-15v-14l1-3v15l1-7v-12l1-15v24l1-2v-17l1-1v19l1-1v-14l1-15v23l1 2v-26l1-5v18l1 0v-17l1-9v33l1-3v-28l1-50v57l1 28v-47l1 6v24l1 7v-24l1-11v24l1-13v-11l1-4v34l1-11v-42l1 9v19l1 12v-43l1-4v13l1 3v-23l1 5v20l1 5v-50l1 14v25l1-6v-12l1-13v21l1 6v-24l1-24v85l1-48v-22l1 1v15l1 21v-30l1 12v16l1 22v-20l1 2v16l1 20v-22l1 7v24l1-9v-16l1 10v28l1-4v-24l1-10v38l1 11v-38l1 2v49l1-30v-10l1-26v34l1 10v-30l1-4v21l1 6v-20l1-19v31l1 8v-35l1-4v17l1-4v-17l1-11v16l1-6v-20l1 3v16l1-2v-37l1 14v17l1-5v-57l1 40v19l1-20v-27l1-30v31l1-12v-17l1-18v40l1 12v-51l1-7v11l1-18v-58l1 2v54l1-15v-11l1-8v26l1-3v-20l1 5v22l1 27v-36l1-5v26l1 0v-14l1 17v15l1 26v-26l1 4v22l1 7v-14l1 24v12l1 9v-21l1-6v22l1-22v-26l1-7v14l1-10v-16l1-18v30l1-24v-22l1 6v28l1-5v-32l1 6v28l1 12v-38l1 7v19l1-13v-13l1 11v17l1 11v-27l1-15v28l1-29v-24l1 4v15l1 2v-18l1-11v21l1 16v-29l1-3v12l1-12v-13l1-16v36l1-5v-27l1 5v10l1 7v-22l1-1v22l1 30v-29l1-3v38l1-16v-25l1-17v40l1 12v-15l1-1v17l1 13v-22l1-16v38l1-28v-12l1 12v24l1-4v-52l1 1v43l1 10v-30l1-12v28l1 5v-19l1 14v23l1 3v-23l1-5v37l1-8v-11l1-19v21l1 18v-41l1-25v44l1 38v-59l1 12v24l1-1v-23l1-4v20l1-4v-15l1-4v41l1-34v-18l1-9v17l1-1v-17l1-24v37l1 1v-22l1-2v18l1 10v-18l1 15v16l1 5v-25l1 20v26l1 13v-21l1-1v12l1-4v-14l1 4v15l1 7v-21l1-2v26l1 1v-55l1 28v25l1 19v-44l1 6v23l1-8v-17l1-12v19l1-13v-19l1 26v17l1 35v-54l1 5v24l1 20v-21l1-6v31l1 7v-32l1 15v12l1 9v-30l1 0v23l1 2v-20l1 10v14l1 10v-16l1-15v23l1 1v-20l1 3v27l1 0v-23l1 1v20l1 4v-23l1 3v23l1-4v-15l1-4v19l1 2v-35l1-6v20l1 4v-18l1-4v16l1-11v-13l1 8v25l1-5v-19l1 7v22l1 9v-28l1 11v13l1 5v-18l1-5v19l1 10v-22l1 12v16l1-1v-23l1 9v16l1-2v-12l1 13v21l1-26v-24l1-20v29l1-3v-25l1-13v23l1 19v-63l1 44v14l1 11v-31l1-3v56l1-30v-26l1-26v23l1-1v-37l1 2v25l1-22v-15l1-4v29l1 3v-28l1-12v25l1-12v-29l1 18v11l1 4v-34l1 0v27l1 2v-44l1 8v15l1 7v-26l1 2v20l1-1v-30l1 22v17l1-9v-17l1-31v51l1 6v-19l1 1v31l1-32v-15l1-11v50l1-11v-31l1-37v60l1-5v-28l1 8v27l1-20v-37l1 15v22l1 6v-27l1-12v36l1-12v-48l1 27v33l1-4v-26l1-10v26l1 3v-29l1-9v17l1-16v-17l1-18v31l1-25v-20l1 1v12l1 18v-43l1 26v11l1 8v-24l1 12v30l1 2v-26l1 19v19l1-1v-17l1 16v26l1 27v-50l1 12v40l1-10v-20l1-13v33l1-3v-24l1 8v43l1-8v-18l1 9v29l1 15v-34l1-11v33l1 5v-15l1-3v27l1 9v-18l1 13v18l1 2v-26l1 24v22l1 0v-29l1 8v19l1-2v-21l1 8v19l1 0v-14l1-6v21l1 15v-30l1 11v12l1-4v-18l1-21v36l1 0v-24l1 14v26l1-5v-14l1-6v18l1-16v-13l1-4v29l1-6v-27l1 15v34l1-27v-32l1 18v23l1-1v-31l1-9v31l1-19v-15l1 0v23l1 0v-24l1 4v18l1 3v-34l1 12v16l1 8v-21l1 1v12l1 5v-28l1 3v14l1-5v-18l1-4v11l1-2v-17l1 4v18l1 15v-26l1 1v19l1 17v-29l1 8v38l1-12v-15l1 9v14l1 13v-23l1 25v15l1 2v-28l1 7v14l1 36v-50l1 24v13l1 3v-23l1 15v16l1 11v-40l1 12v26l1-7v-20l1-15v23l1-3v-15l1 5v21l1 10v-27l1-17v21l1-7v-35l1 23v13l1 13v-16l1-9v37l1-11v-22l1 9v19l1-9v-15l1-21v34l1-6v-12l1-26v55l1-30v-40l1 15v12l1 13v-37l1-23v32l1-14v-22l1-1v38l1 5v-19l1 16v17l1 1v-47l1 14v60l1-21v-13l1 4v18l1 9v-29l1-15v26l1-19v-37l1 13v16l1 7v-52l1-2v39l1-12v-31l1 18v15l1-2v-24l1-14v28l1-8v-23l1 4v45l1-37v-18l1-1v11l1-10v-17l1-10v15l1-6v-18l1-42v52l1-11v-17l1-20v36l1 4v-24l1-17v28l1-9v-14l1-11v28l1-3v-15l1 0v22l1-14v-19l1 6v23l1-1v-37l1 12v47l1-6v-19l1 8v29l1-4v-20l1 10v19l1-7v-24l1-6v25l1-15v-23l1-27v33l1-5v-29l1-18v24l1-4v-23l1-7v20l1 2v-29l1 2v13l1-7v-22l1 11v13l1 16v-41l1-7v12l1-7v-15l1-8v14l1 1v-18l1-29v29l1-6v-20l1 16v20l1 5v-18l1 15v18l1 23v-20l1 19v27l1 4v-26l1-1v27l1-8v-17l1 0v16l1 0v-14l1-31v35l1 1v-19l1-17v25l1-12v-20l1 6v18l1 12v-32l1 9v17l1 4v-16l1 5v28l1 1v-21l1 4v23l1-3v-12l1 2v20l1-9v-16l1-1v21l1 1v-11l1 8v14l1 4v-25l1 2v18l1 7v-11l1-6v41l1-18v-14l1 12v30l1-17v-22l1-2v15l1 2v-16l1-20v23l1 5v-22l1-13v15l1-9v-16l1-5v23l1-6v-21l1-14v44l1-31v-18l1-2v22l1-7v-23l1-14v21l1 10v-24l1 10v22l1 10v-27l1-2v43l1-15v-22l1 13v30l1-7v-16l1 7v19l1-2v-12l1 17v35l1-34v-13l1-2v20l1 14v-34l1-3v16l1 7v-14l1 20v16l1 1v-20l1 7v25l1-1v-14l1-5v20l1 13v-12l1-2v17l1 18v-26l1-7v30l1-7v-28l1 9v15l1 6v-30l1 14v16l1-6v-24l1 2v12l1-7v-21l1 25v27l1-17v-35l1 25v25l1 5v-15l1 0v15l1 7v-23l1 2v27l1-25v-18l1 12v18l1-8v-33l1-2v23l1-10v-16l1-22v36l1-10v-22l1 14v11l1 6v-27l1-19v35l1 12v-29l1 12v23l1 0v-34l1 15v12l1 12v-15l1 2v34l1-14v-16l1 10v20l1 3v-21l1-15v35l1 12v-15l1-17v44l1-5v-22l1 24v32l1-16v-23l1 4v30l1-16v-28l1-24v53l1-18v-15l1-8v18l1-14v-18l1-6v37l1 24v-34l1 9v17l1 9v-32l1 18v29l1 21v-33l1 11v25l1 8v-28l1-4v30l1-1v-16l1 14v17l1 10v-14l1 2v18l1 15v-37l1 17v31l1-2v-22l1-3v23l1 4v-24l1 17v24l1 39v-57l1-5v21l1 21v-44l1 8v20l1 12v-21l1 5v20l1 2v-13l1 13v26l1 5v-15l1 16v15l1 16v-19l1-15v19l1-20v-23l1-21v17l1-35v-12l1-8v31l1 22v-33l1-17v36l1-31v-11l1 9v38l1-13v-46l1 4v26l1-3v-15l1-1v20l1-10v-19l1 5v34l1-1v-38l1 5v24l1-10v-35l1 13v17l1 16v-22l1 6v28l1 9v-25l1 18v13l1 13v-28l1 4v34l1 11v-22l1-29v41l1 12v-16l1-4v16l1 1v-22l1 9v20l1 6v-18l1 4v26l1-11v-14l1-7v54l1 16v-70l1 18v17l1-7v-20l1 17v17l1-1v-22l1 9v18l1 7v-19l1-1v29l1-8v-22l1 5v12l1 17v-26l1-26v39l1 12v-19l1 1v20l1-18v-21l1-8v42l1-24v-27l1-1v28l1-16v-16l1-27v25l1-7v-25l1 4v12l1 12v-25l1 12v23l1 14v-24l1-2v26l1 11v-20l1 8v28l1 8v-40l1 9v20l1 6v-30l1-2v13l1-4v-13l1-12v24l1 8v-23l1 23v16l1 4v-33l1 13v18l1-17v-31l1 24v30l1-13v-30l1 15v14l1 5v-25l1 7v17l1 11v-19l1-3v33l1 13v-32l1 17v22l1 27v-28l1-4v44l1-25v-21l1-13v14l1-4v-22l1 1v13l1 7v-28l1 4v15l1-9v-32l1 6v27l1 1v-37l1 5v19l1-9v-20l1-1v23l1 24v-50l1-8v12l1 22v-24l1-9v29l1 27v-36l1 2v23l1-9v-22l1 23v16l1 5v-31l1 1v33l1 5v-35l1 16v35l1-7v-12l1 11v12l1 9v-34l1 1v51l1-26v-19l1-1v23l1-10v-23l1-13v15l1-7v-25l1-1v23l1 33v-63l1 13v14l1-6v-13l1-10v23l1-1v-17l1-9v26l1-2v-20l1 1v14l1 20v-45l1 19v17l1 8v-31l1 9v26l1-12v-18l1 9v22l1 2v-19l1-6v29l1-24v-13l1-1v34l1-41v-21l1 1v11l1-10v-29l1-1v22l1-7v-17l1-14v31l1-6v-21l1-22v29l1-7v-46l1 11v38l1-26v-16l1-21v24l1-6v-13l1-10v19l1 28v-31l1-3v15l1-2v-25l1 9v41l1-5v-25l1 5v15l1-2v-28l1 3v15l1 5v-25l1 3v11l1-3v-35l1 7v19l1 19v-21l1-11v20l1-2v-25l1-20v32l1-3v-15l1 1v21l1 11v-25l1 10v33l1 2v-23l1 3v50l1-9v-25l1-4v32l1 33v-34l1 10v46l1-9v-19l1-5v20l1 8v-13l1 3v31l1-4v-11l1 10v30l1-16v-25l1 4v36l1-8v-17l1-5v19l1 0v-15l1-10v22l1-8v-18l1 2v25l1-8v-26l1-2v24l1-4v-26l1-4v22l1-17v-21l1 5v14l1 10v-22l1 5v23l1-15v-18l1-5v22l1 3v-20l1 1v13l1 11v-35l1 5v23l1 12v-41l1 18v20l1 4v-23l1 15v16l1 3v-70l1 42v18l1 36v-42l1 3v15l1 15v-18l1-8v26l1 2v-12l1 10v22l1 11v-36l1 22v13l1 19v-41l1 8v25l1-13v-15l1-1v43l1-30v-32l1-11v37l1 1v-24l1-3v20l1 13v-27l1 5v31l1-10v-30l1 6v23l1 11v-31l1 4v17l1 5v-27l1-26v48l1 10v-26l1-11v33l1-11v-17l1-12v39l1-10v-16l1-5v21l1 4v-21l1-5v15l1-2v-16l1 2v14l1 0v-24l1-1v14l1-6v-16l1 9v16l1 32v-47l1 7v33l1-5v-18l1 2v15l1 7v-18l1-7v29l1-7v-15l1 14v21l1 4v-18l1 0v21l1 15v-21l1 12v20l1 14v-34l1 22v25l1-9v-16l1 3v30l1 1v-31l1 6v25l1 4v-17l1-25v27l1 1v-13l1-21v25l1-4v-19l1 8v21l1-20v-17l1-10v27l1-12v-19l1-20v37l1-14v-15l1-14v26l1-13v-24l1-24v53l1-8v-27l1-3v29l1 12v-27l1 18v15l1-4v-10l1 13v28l1-2v-21l1 0v32l1-3v-17l1-21v31l1-1v-29l1-15v19l1 2v-29l1-2v24l1-8v-35l1-17v33l1 2v-24l1-9v18l1 12v-29l1-16v32l1 7v-47l1 9v21l1-10v-17l1 1v19l1 4v-23l1-4v22l1 7v-22l1 4v22l1 9v-17l1-5v13l1 34v-34l1 5v34l1-14v-14l1-10v29l1 0v-12l1-13v21l1 23v-53l1 9v31l1-13v-18l1 10v29l1-29v-23l1-2v28l1-5v-27l1-5v31l1 9v-16l1-13v44l1-15v-19l1-3v20l1-1v-17l1 5v25l1-3v-17l1 3v29l1-14v-38l1 14v14l1-1v-17l1-3v25l1 5v-29l1-20v27l1 1v-28l1 0v18l1 2v-15l1 4v16l1-5v-25l1-3v13l1 12v-31l1 1v26l1-2v-23l1-22v40l1-2v-20l1-19v48l1 0v-28l1 1v36l1 7v-25l1 11v40l1-22v-16l1-9v21l1-1v-31l1-24v48l1 0v-21l1-5v25l1-2v-11l1-21v42l1 4v-19l1-9v11l1-10v-20l1-2v19l1-3v-39l1 18v14l1-5v-27l1 6v15l1-10v-19l1-7v28l1-6v-21l1-30v32l1 14v-31l1-20v25l1 9v-24l1 1v26l1 14v-12l1 5v22l1 15v-19l1 4v24l1-8v-25l1-5v28l1-8v-26l1 10v13l1-8v-22l1-8v38" stroke="#00ff00"/>
<path d="M258.5 2314v18l1 2v-25l1-35v47l1 4v-43l1 16v25l1 8v-16l1 16v44l1-33v-28l1-2v41l1-1v-26l1 14v12l1-2v-25l1 15v18l1-1v-15l1-16v48l1-11v-22l1-18v22l1 5v-34l1 7v30l1 11v-37l1-19v25l1 6v-13l1-4v32l1 2v-28l1 0v19l1 7v-18l1-13v29l1 0v-24l1-2v22l1-1v-18l1-9v18l1 6v-16l1-34v44l1-11v-20l1 4v18l1-9v-20l1 7v34l1 7v-47l1-1v19l1 22v-37l1-3v13l1 37v-35l1-6v18l1-5v-20l1 5v15l1 21v-49l1 6v13l1 1v-15l1 12v11l1 1v-21l1 2v15l1 1v-21l1 14v11l1 3v-23l1-12v46l1 13v-24l1-1v30l1-14v-25l1 21v31l1-26v-19l1 8v24l1-1v-20l1-5v21l1 15v-28l1 2v11l1-5v-23l1 11v23l1-7v-16l1-8v34l1-5v-20l1-7v18l1-9v-17l1-9v17l1-3v-14l1 10v19l1 5v-17l1-27v39l1-6v-16l1 5v20l1 3v-24l1-34v46l1-2v-23l1-7v26l1-3v-56l1 18v28l1-5v-26l1-16v30l1 0v-18l1-26v31l1 5v-44l1 17v20l1 13v-32l1 9v19l1 0v-25l1-10v31l1-17v-20l1-9v20l1 6v-18l1-29v47l1-3v-30l1 4v14l1-2v-17l1-12v21l1-11v-13l1-17v19l1-8v-22l1-7v31l1-29v-42l1 6v18l1-2v-14l1 2v24l1-18v-15l1-1v17l1 29v-64l1 12v23l1 14v-21l1 9v21l1 5v-36l1 23v16l1 14v-30l1 4v17l1 27v-40l1 9v31l1-6v-43l1 11v34l1-1v-24l1 18v18l1 16v-26l1-15v24l1 13v-16l1 1v24l1 6v-15l1 4v15l1 16v-23l1 14v31l1-10v-16l1 14v21l1 14v-19l1 5v25l1-5v-12l1 18v28l1-13v-13l1-4v23l1-3v-17l1 1v16l1-3v-11l1-3v20l1 2v-20l1-5v25l1-2v-14l1-34v54l1-11v-19l1-12v18l1 2v-36l1 0v22l1-4v-13l1-8v17l1-7v-23l1-20v24l1 16v-29l1-5v20l1 16v-46l1-1v43l1-3v-30l1 17v19l1 11v-19l1 0v25l1 3v-31l1 21v22l1 4v-22l1 12v38l1-3v-11l1 4v19l1-8v-13l1 1v13l1-4v-15l1-12v23l1-17v-22l1 2v24l1 6v-31l1 0v12l1-3v-24l1-4v20l1 2v-40l1 6v30l1-17v-16l1 13v22l1-12v-20l1 2v22l1-5v-16l1 3v15l1 27v-30l1-6v14l1 5v-15l1 4v17l1 9v-34l1 4v20l1 1v-36l1 13v36l1-18v-14l1-5v22l1 24v-48l1 17v15l1 11v-15l1 1v12l1 10v-24l1-1v20l1 2v-21l1 2v37l1-23v-21l1-2v29l1-2v-15l1-17v26l1-7v-24l1-7v26l1 0v-26l1 5v20l1 8v-37l1 1v29l1-10v-15l1-2v29l1 13v-33l1 0v42l1 6v-34l1 2v26l1 4v-12l1-17v35l1-5v-48l1 21v38l1 10v-23l1 5v13l1 11v-15l1 2v25l1 10v-28l1 10v43l1-21v-13l1 1v12l1 10v-29l1-19v39l1-9v-23l1-13v33l1-4v-27l1 17v22l1-13v-16l1 1v13l1 10v-29l1-19v16l1 3v-33l1-2v18l1-4v-13l1 14v42l1-25v-32l1 9v33l1 7v-15l1 16v15l1-1v-41l1 1v38l1 8v-15l1-4v20l1-10v-11l1 7v14l1 25v-30l1-1v14l1-4v-16l1-1v22l1-9v-29l1-12v31l1 0v-25l1-6v23l1 0v-23l1-6v22l1-13v-12l1-12v26l1-11v-33l1 21v20l1-5v-24l1 0v29l1-9v-31l1 3v36l1-11v-31l1 5v24l1 7v-17l1-7v15l1 11v-17l1-26v48l1-18v-14l1-26v46l1-7v-34l1 18v14l1-2v-17l1-10v23l1-6v-14l1 2v21l1 3v-42l1 11v17l1 5v-29l1-10v28l1-6v-23l1 3v34l1-14v-22l1 6v13l1 4v-21l1 1v30l1-6v-38l1 4v39l1-14v-13l1-8v20l1-10v-16l1-16v42l1-13v-16l1-8v14l1-2v-13l1-9v11l1-13v-18l1-2v21l1 7v-21l1-14v37l1-28v-14l1-12v19l1 4v-26l1 14v15l1 31v-36l1 7v20l1 5v-13l1-4v24l1 13v-31l1-13v44l1 2v-27l1 4v14l1 14v-21l1-18v35l1 6v-17l1 1v33l1-12v-26l1 6v29l1-1v-23l1 2v24l1-8v-12l1-12v27l1-9v-31l1 7v29l1 6v-17l1-7v45l1 7v-37l1 3v13l1-2v-15l1-1v20l1 5v-27l1 6v28l1-19v-13l1-17v23l1 1v-18l1 4v21l1-3v-26l1-5v23l1-1v-18l1-4v27l1-2v-34l1 6v20l1 1v-34l1 33v28l1-7v-20l1-4v30l1 9v-19l1-8v24l1-1v-29l1-1v20l1 15v-28l1 14v22l1-5v-20l1 6v15l1 6v-11l1-29v34l1-3v-21l1-15v29l1 0v-27l1 6v15l1-4v-11l1-8v16l1-3v-32l1-2v23l1 2v-14l1-14v23l1-11v-25l1 22v18l1 14v-44l1 20v25l1-3v-19l1 8v19l1 1v-19l1-4v35l1 9v-39l1-11v36l1-1v-18l1-16v48l1 12v-22l1-3v29l1-6v-29l1 10v22l1 15v-46l1 23v16l1-4v-14l1 11v29l1-19v-36l1 24v35l1-32v-17l1-1v21l1-14v-13l1-13v31l1 13v-54l1-3v23l1 1v-27l1 19v18l1 8v-29l1 2v14l1-9v-20l1 3v28l1-19v-18l1-1v27l1 8v-32l1 12v12l1 10v-14l1-3v28l1-2v-28l1 14v17l1 8v-31l1 16v23l1-3v-35l1 23v20l1-1v-36l1 14v27l1-10v-13l1 6v25l1-13v-25l1 8v22l1-10v-21l1 10v35l1-10v-37l1-10v17l1 16v-35l1 29v12l1 17v-20l1 8v19l1 15v-32l1 11v20l1 42v-36l1-8v42l1-25v-23l1 19v11l1 11v-25l1-20v36l1-5v-24l1-2v18l1-8v-36l1 4v32l1 3v-31l1-3v13l1 18v-22l1-15v20l1 3v-16l1-20v35l1 2v-17l1-14v25l1-9v-17l1-5v18l1 0v-29l1-4v13l1-16v-25l1 7v44l1-33v-17l1-7v35l1-13v-12l1-8v52l1-19v-22l1-8v36l1 21v-65l1 23v17l1 6v-24l1-10v21l1-8v-22l1-7v39l1-19v-13l1-2v17l1-9v-25l1-8v56l1-22v-28l1 12v17l1 7v-19l1 0v14l1-1v-31l1-9v29l1 9v-29l1-13v29l1-3v-47l1 38v22l1 1v-16l1 4v21l1-3v-25l1-3v36l1-12v-18l1-15v25l1 8v-23l1-23v36l1 8v-32l1 3v14l1 1v-18l1 4v17l1-11v-19l1-17v27l1 7v-33l1-13v30l1-17v-13l1 11v21l1 6v-15l1-17v52l1-4v-21l1-3v23l1 1v-17l1 6v26l1 9v-35l1 16v22l1 2v-17l1 5v45l1-27v-33l1 0v18l1-11v-29l1-12v25l1-14v-21l1-1v22l1 0v-28l1-1v12l1-7v-13l1-18v30l1-28v-18l1-32v46l1-18v-21l1-2v17l1-17v-19l1-13v27l1-3v-23l1 2v25l1-13v-25l1-2v16l1 0v-21l1-22v32l1 1v-25l1-7v41l1-5v-19l1 0v34l1-13v-12l1-4v26l1 14v-40l1-5v17l1 12v-20l1-2v22l1-3v-22l1-14v24l1 15v-33l1 18v14l1 21v-39l1-18v39l1-19v-13l1-15v19l1-8v-13l1-15v15l1-3v-37l1 15v18l1-12v-25l1 8v17l1 1v-36l1-18v47l1-2v-33l1-11v32l1-2v-25l1-8v33l1-6v-16l1 0v17l1 8v-32l1 6v12l1-11v-14l1-9v21l1 6v-24l1 1v13l1-1v-19l1-1v29l1-4v-35l1-3v25l1 2v-39l1 15v19l1 1v-21l1-10v20l1-2v-13l1-25v32l1-5v-31l1-18v37l1-1v-24l1 8v16l1-9v-24l1 15v14l1 9v-14l1 2v31l1 12v-30l1-2v42l1 12v-21l1 24v17l1 1v-13l1 11v24l1-1v-30l1-10v45l1-4v-27l1-15v24l1-6v-16l1-15v16l1-1v-21l1 5v15l1-12v-15l1-14v20l1 7v-14l1-15v34l1-27v-13l1-11v17l1 6v-22l1-11v18l1 4v-30l1 5v21l1 9v-30l1 16v13l1-2v-18l1-4v13l1 10v-19l1-3v18l1 16v-42l1 12v25l1 4v-12l1-15v31l1 12v-17l1 3v19l1 13v-28l1-1v35l1-6v-20l1 17v19l1-11v-17l1 4v16l1-1v-17l1-4v13l1 18v-42l1 11v26l1-20v-29l1 29v25l1-2v-15l1 1v24l1-6v-18l1 6v28l1-13v-15l1 17v24l1 3v-21l1 3v17l1-3v-18l1 12v11l1 9v-12l1 3v26l1 11v-51l1 17v21l1 12v-21l1 8v13l1-3v-12l1 17v14l1 18v-17l1-25v12l1-12v-29l1-7v21l1-19v-21l1-2v14l1-15v-47l1 15v21l1 6v-28l1 6v13l1 1v-30l1-3v22l1-4v-19l1 9v31l1-22v-16l1 14v18l1 3v-25l1 20v20l1 3v-21l1 1v46l1-10v-23l1-6v28l1 8v-17l1-19v17l1-24v-13l1-8v21l1-7v-34l1-5v23l1-6v-34l1 3v27l1-2v-36l1-2v16l1 7v-21l1-7v23l1 11v-36l1 9v21l1-14v-33l1-17v36l1-4v-18l1-15v29l1 1v-14l1-24v50l1-21v-28l1 7v30l1-16v-23l1 23v19l1 41v-41l1-4v20l1 5v-45l1 10v25l1-10v-30l1 6v24l1-15v-23l1 20v17l1-12v-18l1-14v38l1-7v-44l1 16v32l1-13v-26l1 11v28l1-11v-17l1-10v42l1-16v-24l1-9v18l1-10v-12l1 6v14l1 20v-39l1 8v19l1 2v-21l1 6v23l1-9v-14l1-8v27l1-1v-23l1 9v16l1-3v-19l1-23v51l1-26v-25l1 21v25l1-13v-20l1 0v25l1 26v-54l1 6v20l1-5v-21l1-6v49l1-17v-26l1-1v18l1-5v-21l1 9v25l1 2v-17l1-11v35l1-20v-28l1 20v17l1 12v-25l1 4v15l1 2v-26l1-7v24l1 4v-48l1 30v11l1 4v-24l1-7v31l1-5v-20l1 1v17l1 13v-26l1-14v30l1 4v-29l1 1v32l1 0v-24l1-10v79l1-33v-18l1 5v19l1-6v-17l1 1v41l1-5v-22l1 13v17l1 8v-22l1 5v12l1 12v-31l1 20v17l1-3v-18l1 10v14l1 4v-24l1-11v39l1-5v-14l1 8v30l1 4v-38l1-19v37l1 10v-21l1 9v23l1-4v-31l1 13v19l1-6v-31l1 2v55l1-41v-16l1-3v22l1 5v-39l1 6v25l1-17v-24l1 0v19l1 29v-56l1 9v14l1 0v-49l1 28v39l1-7v-13l1-4v22l1-3v-23l1-26v32l1-6v-22l1 11v15l1 9v-28l1-18v52l1-16v-29l1 15v13l1-9v-24l1 4v16l1-8v-22l1 14v23l1-3v-20l1-17v31l1 4v-32l1 11v21l1 11v-42l1 9v39l1-12v-19l1-23v55l1 11v-34l1-17v34l1 6v-18l1 12v27l1-5v-22l1 8v12l1 17v-24l1 6v19l1-3v-28l1 17v24l1-6v-16l1-13v31l1 11v-18l1-4v41l1-20v-13l1-7v21l1 33v-56l1-21v32l1-12v-21l1 7v19l1 12v-24l1-2v23l1-2v-25l1 4v28l1 7v-23l1-3v16l1-1v-27l1 8v16l1-6v-18l1-4v19l1 5v-34l1-10v27l1-3v-16l1-12v18l1-4v-25l1 7v49l1-31v-12l1-7v18l1-17v-20l1-1v25l1 2v-31l1 8v26l1-4v-31l1 8v17l1 3v-30l1 2v26l1 3v-25l1-1v15l1 1v-17l1 7v19l1-9v-14l1-2v14l1-3v-17l1 9v17l1-13v-16l1 4v23l1 12v-27l1 8v11l1 22v-28l1 3v24l1 17v-29l1 8v23l1 3v-30l1 12v19l1-19v-30l1 11v23l1-10v-12l1-21v29l1-3v-15l1 3v28l1-2v-25l1-3v21l1 14v-30l1-1v16l1-4v-31l1 10v10l1 1v-15l1-5v23l1 0v-24l1-2v31l1-1v-25l1 21v11l1 10v-22l1 5v14l1 10v-15l1-3v34l1 15v-19l1 16v14l1 5v-34l1 19v20l1 31v-31l1 5v21l1 9v-21l1 5v17l1 16v-14l1-3v16l1-2v-25l1-4v26l1-9v-17l1-2v17l1 0v-15l1-12v13l1-8v-15l1-15v24l1 2v-16l1-2v19l1-5v-16l1-18v22l1-8v-31l1 6v20l1-1v-28l1-18v35l1 2v-16l1-25v29l1-4v-39l1 12v20l1 2v-13l1-4v33l1 3v-18l1 4v19l1 19v-15l1-3v22l1 14v-16l1-10v23l1-3v-16l1-3v26l1-19v-31l1 11v19l1 0v-12l1-2v17l1-16v-28l1 8v15l1 6v-24l1 3v17l1 9v-33l1 9v34l1-7v-19l1-10v23l1-2v-11l1 8v15l1-10v-24l1-10v23l1 3v-74l1 27v18l1 4v-25l1-12v19l1 8v-15l1 2v16l1 12v-38l1-18v19l1 15v-29l1 8v16l1 0v-30l1 20v24l1-1v-16l1 7v17l1-7v-37l1 27v16l1-15v-17l1 5v13l1 24v-47l1-12v17l1 11v-23l1 3v13l1 5v-23l1 7v16l1 8v-30l1 3v21l1 5v-47l1 47v11l1 17v-23l1 0v38l1-22v-18l1-3v28l1 2v-41l1 6v31l1-2v-17l1 14v16l1 23v-44l1-15v28l1-15v-18l1 18v25l1 14v-18l1 5v13l1 21v-27l1 4v21l1 15v-41l1 9v36l1-10v-12l1 11v14l1 6v-23l1 24v34l1-27v-16l1 3v23l1 23v-37l1 15v18l1-7v-23l1 1v50l1-10v-21l1-18v18l1 14v-45l1-2v19l1-11v-14l1-22v22l1-14v-33l1 25v17l1 18v-32l1 7v25l1 10v-28l1 9v27l1-5v-12l1-8v24l1 13v-19l1 9v16l1-4v-28l1 7v28l1 15v-22l1 6v41l1-7v-20l1-10v40l1 8v-11l1-6v49l1-10v-12l1-1v12l1-12v-21l1 8v15l1-4v-31l1-2v23l1-19v-28l1 10v16l1 0v-14l1-5v13l1 6v-25l1 10v18l1 8v-19l1 0v26l1 7v-27l1 4v15l1 13v-19l1 3v12l1 5v-24l1-1v31l1 8v-35l1 30v12l1 29v-47l1 32v18l1 13v-16l1 1v29l1 19v-31l1 2v15l1 5v-23l1-8v21l1 1v-11l1-3v32l1-19v-16l1-1v15l1 6v-19l1-4v29l1-8v-16l1-2v34l1-24v-21l1-13v31l1 6v-17l1 1v13l1 17v-35l1 22v28l1 5v-20l1 0v35l1 8v-33l1 20v24l1-4v-63l1 15v56l1-7v-18l1-7v33l1 7v-24l1 12v17l1 0v-13l1 4v16l1 4v-22l1-3v19l1 7v-16l1 1v21l1 10v-20l1-2v20l1-6v-19l1-5v30l1-7v-17l1-1v12l1 6v-19l1-26v37l1-11v-23l1 2v21l1 5v-25l1 2v19l1 3v-22l1-8v18l1 5v-23l1-3v31l1 12v-36l1 27v18l1 21v-40l1 15v27l1-4v-25l1-5v26l1 2v-25l1-3v17l1 0v-15l1-17v27l1 3v-27l1 7v17l1 1v-13l1-4v11l1 5v-20l1-30v42l1-2v-23l1 1v25l1-9v-14l1 4v40l1-13v-21l1 11v32l1-5v-16l1 6v26l1-5v-27l1 1v23l1-7v-35l1-3v20l1 36v-93l1-19v39l1-2v-13l1 6v21l1 23v-50l1 15v14l1 2v-24l1 2v14l1 12v-37l1 2v43l1 7v-14l1-5v21l1-8v-13l1 6v24l1-1v-26l1-2v22l1-4v-32l1 3v23l1-1v-35l1 21v16l1-9v-30l1 19v17l1-3v-19l1 8v14l1 9v-18l1-5v32l1 4v-31l1 8v16l1 30v-49l1 17v27l1-4v-30l1 3v22l1-4v-19l1 16v18l1-3v-14l1-14v34l1-25v-15l1-10v17l1-16v-16l1-44v33l1 12v-20l1-7v21l1 1v-15l1 4v21l1 0v-16l1-10v14l1 16v-39l1-11v15l1 0v-23l1-24v20l1 0v-12l1-26v32l1 2v-50l1 2v20l1-13v-20l1-17v15l1-7v-25l1-12v31l1-30v-12l1-13v12l1-19v-16l1-27v33l1-18v-16l1-32v41l1-12v-22l1-2v17l1-1v-29l1-22v31l1-1v-11l1-63v64l1-1v-18l1-2v19l1-19v-14l1-8v18l1 3v-19l1-8v21l1-1v-21l1 0v29l1-4v-27l1 3v17l1 25v-41l1-17v29l1 23v-37l1-7v25l1-9v-23l1 5v43l1-27v-16l1-12v44l1-20v-20l1-11v44l1-28v-14l1-11v19l1-4v-14l1-7v25l1-11v-29l1-17v36l1 3v-16l1 0v26l1-15v-20l1 11v16l1-11v-18l1 11v23l1-10v-18l1-10v14l1-12v-12l1-5v18l1-4v-16l1 0v37l1-29v-15l1-6v25l1 0v-25l1-10v32l1 13v-45l1-14v27l1 21v-41l1 1v21l1 0v-27l1 9v13l1 19v-48l1 10v17l1 11v-12l1-11v28l1-5v-19l1 4v33l1-24v-33l1 2v28l1-20v-33l1 13v15l1-11v-14l1-9v16l1-10v-14l1-22v20l1-14v-21l1-6v44l1-18v-29l1-19v14l1-12v-19l1-2v30l1-23v-14l1 6v23l1 15v-13l1 17v17l1 14v-20l1 20v20l1 16v-41l1 30v26l1 20v-41l1 11v46l1-6v-32l1-7v26l1 9v-29l1 18v24l1-4v-10l1 1v22l1 7v-12l1 11v14l1-1v-13l1-8v19l1 12v-24l1 6v18l1 13v-29l1-12v32l1-16v-24l1 8v18l1 0v-38l1 14v22l1-9v-15l1-1v21l1 0v-19l1-1v13l1 15v-53l1 17v17l1-5v-17l1-5v25l1-2v-26l1-9v22l1 7v-25l1 10v27l1 1v-30l1-15v30l1-12v-13l1-3v17l1 4v-23l1-14v23l1-5v-18l1 1v24l1-7v-12l1-2v20l1 22v-38l1 3v46l1-20v-41l1 23v21l1 14v-36l1-11v25l1-13v-15l1 5v13l1 22v-60l1-10v30l1 8v-31l1 0v20l1 5v-19l1 7v15l1-1v-17l1-10v17l1 1v-14l1-20v28l1 16v-33l1-1v52l1-13v-17l1-3v22l1 31v-28l1-5v21l1 0v-18l1-28v57l1-24v-23l1-40v64l1 7v-19l1 5v19l1 2v-21l1 6v14l1 10v-16l1 3v12l1 10v-15l1 1v21l1 6v-21l1 12v27l1-14v-30l1 20v19l1-17v-11l1 10v13l1 18v-28l1-1v22l1 35v-68l1 14v26l1 15v-24l1-5v26l1 16v-40l1 1v33l1 8v-33l1 13v12l1 25v-42l1 14v14l1 16v-19l1-17v37l1 12v-27l1 2v15l1 16v-33l1 34v18l1-3v-13l1 4v24l1 20v-24l1-9v30l1-3v-16l1-1v38l1-7v-23l1 1v53l1-25v-19l1 8v12l1 8v-45l1-5v46l1-9v-18l1-7v21l1-6v-18l1-6v40l1-23v-16l1-2v24l1-5v-29l1 9v12l1-6v-14l1-8v41l1-15v-21l1-9v24l1-6v-20l1 6v19l1 5v-37l1-1v26l1-3v-22l1 5v24l1 3v-28l1 20v15l1 13v-34l1-4v45l1 12v-27l1-20v26l1 21v-48l1 8v26l1 6v-35l1 14v20l1-7v-18l1-9v29l1 0v-26l1 15v14l1-1v-17l1 7v23l1 16v-27l1 7v20l1 17v-31l1 9v37l1-5v-28l1-5v27" stroke="#00ffff"/>
<path d="M258.5 2411v20l1-5v-13l1 2v31l1-2v-48l1 33v34l1-14v-20l1-26v24l1-15v-33l1 20v20l1-4v-34l1 0v20l1-1v-19l1-7v21l1 4v-36l1 14v11l1-4v-14l1-24v31l1-4v-20l1 6v15l1 12v-28l1-4v23l1 11v-17l1 0v20l1 3v-19l1-2v26l1 8v-55l1 8v43l1-2v-24l1-5v27l1-1v-23l1-6v15l1 0v-19l1-1v14l1-24v-13l1-6v27l1-20v-13l1 4v23l1-17v-14l1-12v21l1-10v-27l1-3v21l1 24v-40l1-6v16l1-4v-16l1-8v35l1-34v-29l1 7v30l1 13v-51l1-7v45l1-17v-18l1-5v23l1-4v-19l1-12v49l1-16v-31l1-1v22l1 23v-34l1 11v23l1-28v-18l1 3v32l1 0v-25l1-1v17l1 28v-44l1 6v41l1-19v-17l1-12v31l1 11v-33l1-15v28l1 2v-38l1 23v14l1-6v-20l1 3v20l1 4v-21l1-3v17l1-4v-17l1-15v18l1 10v-11l1-9v18l1-4v-28l1-7v18l1 15v-34l1 2v24l1-5v-14l1-8v19l1 25v-51l1-24v41l1 7v-18l1-15v27l1-8v-15l1-3v21l1-9v-15l1-11v29l1-18v-18l1 1v19l1-14v-12l1-17v20l1-4v-24l1-17v31l1 5v-29l1-4v31l1-18v-16l1-16v32l1-2v-14l1 0v31l1-12v-60l1 25v23l1 0v-22l1-12v19l1 5v-32l1 17v18l1-6v-39l1 2v19l1-6v-25l1 6v28l1 6v-21l1 14v21l1 8v-21l1-3v24l1-2v-48l1 45v13l1-2v-16l1-13v19l1 8v-37l1 14v21l1 3v-14l1-9v16l1 2v-19l1 5v14l1-13v-14l1-7v34l1-8v-12l1 6v15l1 3v-12l1-6v22l1-4v-14l1 5v19l1-3v-34l1 15v36l1-18v-13l1-34v39l1-13v-25l1 10v19l1-1v-20l1 1v15l1 4v-30l1-3v17l1 6v-76l1 49v23l1 28v-34l1-9v33l1-13v-13l1-2v24l1 0v-20l1-5v46l1-22v-16l1-8v22l1-1v-25l1 0v21l1 8v-32l1 0v29l1 17v-42l1-2v46l1-18v-30l1-5v29l1-16v-46l1 29v31l1-9v-26l1 4v18l1-3v-18l1-1v30l1-5v-22l1 22v12l1 20v-28l1 6v18l1-3v-37l1 10v33l1-5v-24l1-17v40l1 1v-23l1 4v13l1 5v-13l1-2v16l1 11v-27l1-1v25l1 4v-15l1-11v19l1 6v-31l1-3v39l1-30v-31l1 9v16l1 16v-44l1 8v14l1-10v-19l1-7v17l1 13v-33l1-7v34l1-6v-38l1 2v24l1-1v-20l1-2v17l1 11v-26l1-11v33l1 3v-14l1-4v19l1-10v-25l1-4v23l1 33v-64l1 1v21l1 8v-25l1-8v18l1-19v-19l1 5v15l1 7v-19l1-14v27l1-19v-28l1 22v13l1 13v-19l1-11v35l1 1v-19l1-1v39l1-9v-15l1-16v23l1-15v-21l1 4v11l1-6v-25l1-7v26l1-8v-29l1-4v31l1-8v-22l1-16v23l1-9v-18l1-34v61l1-4v-26l1 12v34l1-5v-25l1-2v31l1-17v-12l1 4v17l1 7v-13l1 5v12l1 5v-28l1 10v22l1-3v-16l1-8v23l1-13v-15l1-11v20l1 0v-26l1-7v19l1 11v-23l1 1v15l1 13v-29l1 9v21l1 13v-21l1 5v14l1 4v-13l1-21v45l1 3v-13l1-20v33l1 23v-20l1-6v31l1-14v-25l1 14v15l1 5v-21l1-38v38l1 3v-21l1-4v17l1 5v-15l1-10v13l1 2v-16l1-7v41l1-34v-33l1 3v15l1-8v-18l1-21v32l1-20v-33l1 12v33l1-3v-35l1 7v27l1 20v-62l1 16v28l1 14v-36l1-3v11l1 12v-52l1 26v15l1-5v-14l1-4v35l1-17v-21l1-10v27l1-27v-15l1-5v24l1 17v-22l1 2v38l1-11v-16l1-2v13l1 1v-37l1 1v22l1 8v-37l1 5v15l1-12v-11l1-18v36l1-16v-20l1-14v12l1 8v-14l1 18v16l1 10v-11l1-7v19l1 18v-23l1-23v41l1 4v-33l1 24v20l1-1v-20l1 11v15l1 9v-24l1 10v12l1 23v-27l1-2v15l1 6v-64l1 56v12l1 26v-50l1 36v13l1 2v-19l1 12v15l1-5v-22l1 25v18l1 10v-31l1 4v15l1-1v-20l1-8v14l1 13v-25l1 3v15l1 5v-22l1 1v21l1 10v-28l1-3v23l1 1v-23l1 2v23l1 28v-53l1 10v17l1 7v-21l1 8v22l1 21v-46l1 11v15l1 8v-17l1-22v41l1-2v-18l1-11v36l1 36v-52l1 5v22l1 23v-27l1 5v18l1 0v-26l1 10v43l1-20v-22l1 6v24l1 13v-42l1 18v32l1 7v-37l1-3v25l1 3v-22l1 3v15l1 31v-39l1-4v31l1-13v-37l1 18v16l1 27v-32l1-3v22l1-7v-19l1 3v22l1 16v-28l1-24v28l1 11v-35l1-1v17l1-13v-44l1 17v16l1 8v-24l1-1v23l1-18v-40l1 15v30l1 8v-27l1 8v44l1-11v-33l1 0v25l1 4v-24l1 17v44l1-23v-35l1 18v43l1-19v-11l1-11v31l1-4v-20l1 5v30l1-21v-13l1-18v41l1-11v-24l1-6v21l1 2v-21l1-19v25l1 2v-22l1 19v16l1 6v-44l1 6v34l1-3v-14l1-10v22l1 14v-29l1 13v23l1 0v-11l1 8v15l1 24v-55l1 3v24l1 10v-28l1 17v18l1 6v-20l1 7v30l1-11v-16l1 6v14l1 13v-36l1 16v22l1-5v-24l1 15v27l1-5v-18l1-13v34l1-6v-18l1 17v24l1-17v-28l1-5v18l1 4v-36l1 16v34l1-17v-29l1 13v14l1-10v-20l1-37v38l1-8v-48l1 5v22l1-16v-15l1-2v35l1-20v-19l1-13v25l1 11v-51l1 11v26l1-12v-17l1-26v25l1 1v-22l1 1v15l1-8v-17l1-2v36l1 15v-57l1 18v16l1 3v-17l1 14v11l1 26v-45l1 25v31l1-1v-29l1-2v32l1-9v-24l1-5v43l1-6v-20l1-5v24l1 2v-18l1-8v25l1 5v-19l1 6v18l1 12v-34l1 17v14l1 16v-24l1 0v13l1 12v-46l1 9v21l1-1v-31l1 10v13l1-7v-11l1-12v28l1-20v-16l1 4v19l1 0v-18l1 8v16l1 10v-37l1 16v23l1-9v-36l1 21v22l1-9v-14l1 13v17l1 10v-23l1 7v26l1-18v-18l1-13v30l1 18v-24l1-1v20l1 0v-13l1 6v16l1 15v-29l1 3v75l1-50v-35l1-1v21l1-7v-21l1 7v18l1-5v-17l1 14v22l1 16v-29l1-23v41l1-7v-17l1-11v48l1-39v-11l1-15v32l1-13v-15l1-32v51l1-23v-21l1 0v11l1 12v-22l1-3v17l1-3v-14l1-9v20l1 3v-18l1-7v25l1 9v-39l1 11v52l1-5v-28l1 0v15l1 11v-13l1-10v32l1 5v-14l1-5v13l1-5v-35l1 13v31l1-16v-16l1-17v20l1-9v-12l1-7v23l1 3v-15l1 27v24l1 9v-39l1 4v24l1 9v-26l1 12v25l1-11v-15l1-64v82l1-9v-23l1-19v33l1 17v-29l1-3v16l1-12v-37l1 10v18l1-1v-19l1-12v18l1 1v-16l1-7v20l1 7v-22l1-11v16l1 10v-29l1-1v37l1-1v-43l1 15v27l1 18v-22l1 5v14l1 11v-11l1-14v31l1 16v-22l1 5v13l1 16v-28l1 6v14l1-3v-14l1-5v26l1-12v-12l1-25v56l1-38v-32l1-6v23l1-3v-19l1 3v20l1 3v-19l1-8v16l1-15v-25l1 24v11l1 18v-31l1-6v32l1 9v-40l1 15v24l1-6v-27l1 27v11l1 14v-48l1 24v22l1-7v-10l1-16v26l1-8v-28l1 9v21l1 2v-16l1-6v31l1-12v-12l1-19v34l1-3v-28l1 12v16l1-1v-13l1-8v15l1-3v-23l1 6v25l1 5v-19l1 0v14l1 8v-36l1 20v21l1-7v-12l1-11v21l1 0v-21l1-1v29l1-21v-11l1-5v22l1 5v-17l1-14v40l1-31v-12l1-29v35l1 0v-33l1-17v24l1-5v-24l1-2v23l1-4v-27l1-11v32l1-13v-37l1 1v30l1-17v-20l1-11v32l1-10v-22l1 0v15l1 11v-23l1-30v22l1-7v-20l1 5v30l1-11v-13l1-16v31l1-2v-15l1 1v15l1 7v-26l1 2v27l1 2v-26l1 2v21l1-2v-16l1-8v16l1 6v-24l1 1v22l1 18v-30l1 0v34l1 6v-40l1 30v14l1 14v-14l1 2v35l1-17v-15l1 10v36l1-13v-17l1-15v31l1 3v-20l1 7v20l1 10v-34l1 12v44l1-31v-24l1-6v24l1 13v-17l1-19v40l1-10v-17l1-6v21l1-5v-14l1 1v23l1 13v-22l1-11v47l1-3v-36l1 15v23l1 23v-25l1-12v35l1-24v-36l1 5v44l1-24v-29l1 4v40l1-18v-35l1 1v25l1-11v-18l1-4v24l1-1v-17l1-9v26l1 0v-16l1-29v30l1-3v-31l1 15v12l1-3v-19l1 0v20l1 14v-59l1 25v22l1 1v-22l1-7v15l1-5v-20l1 10v17l1 12v-50l1 25v20l1 0v-17l1 6v41l1-18v-41l1 1v24l1 1v-18l1-21v23l1-3v-12l1-3v14l1-5v-38l1-2v45l1-22v-15l1-8v24l1-5v-21l1-3v19l1-7v-13l1-1v21l1-5v-18l1 10v13l1 5v-40l1 32v22l1 2v-30l1-2v17l1 6v-14l1-7v25l1 6v-27l1 8v22l1 12v-20l1-3v24l1-12v-16l1-48v69l1 2v-33l1-12v22l1 0v-19l1-21v19l1 8v-58l1 26v17l1 42v-70l1 3v43l1-19v-12l1-1v24l1 25v-30l1-2v31l1-14v-24l1-15v30l1 37v-59l1 0v26l1-3v-31l1 6v16l1 11v-21l1-36v33l1 3v-14l1-1v41l1-33v-17l1-10v20l1-5v-15l1-11v36l1-33v-16l1 3v12l1 7v-29l1 8v17l1-4v-33l1 15v20l1-17v-27l1 0v26l1 9v-38l1-9v17l1 0v-28l1 20v18l1-8v-14l1-8v26l1 8v-23l1-4v43l1-12v-20l1 0v18l1 9v-24l1-3v22l1 29v-23l1-2v39l1-22v-13l1 9v27l1-12v-14l1-9v23l1 10v-27l1-24v62l1-49v-11l1-4v34l1-13v-31l1 5v23l1-5v-33l1 14v22l1-10v-11l1-3v13l1-1v-12l1-8v21l1 12v-21l1 2v20l1-6v-20l1-1v15l1 21v-27l1-2v20l1 5v-18l1-8v42l1-11v-26l1 7v18l1-3v-12l1-16v27l1 7v-31l1 10v15l1-5v-26l1-5v40l1-12v-23l1 4v22l1 17v-30l1 0v13l1 6v-29l1-13v45l1-6v-21l1-2v28l1-1v-17l1 6v20l1 55v-54l1 10v26l1-4v-29l1 8v13l1 4v-21l1 4v15l1 9v-34l1 20v33l1-10v-15l1 1v20l1-13v-12l1-18v47l1-21v-22l1-24v31l1 0v-41l1 21v18l1-3v-20l1-5v21l1-17v-18l1 10v14l1 20v-36l1 10v13l1 2v-25l1 14v11l1 15v-25l1-10v19l1 4v-16l1 2v31l1-3v-29l1 2v22l1 6v-33l1 0v18l1 8v-42l1-16v33l1 17v-39l1-27v41l1-9v-47l1 35v16l1 11v-43l1-11v32l1-3v-13l1-12v28l1-3v-53l1 20v37l1 20v-24l1 10v52l1-26v-25l1 18v11l1 19v-35l1 39v16l1 10v-33l1 15v24l1 8v-22l1 3v24l1 12v-24l1-3v27l1 2v-13l1 17v14l1 6v-32l1 3v14l1 9v-25l1 10v15l1 8v-29l1 6v22l1-12v-21l1 5v31l1-22v-27l1-9v36l1-15v-16l1 3v22l1-7v-23l1-9v34l1-5v-23l1 8v12l1 7v-27l1-3v19l1 12v-33l1-13v51l1-25v-22l1 0v22l1-5v-20l1 16v22l1-7v-36l1 12v20l1 7v-41l1 18v19l1 9v-38l1-9v43l1-4v-12l1 5v11l1 14v-18l1-9v57l1-21v-24l1 7v31l1-15v-27l1 9v21l1 2v-17l1 3v23l1-5v-38l1 40v28l1-30v-37l1 18v23l1-7v-21l1 6v29l1 0v-29l1-6v27l1-9v-12l1-45v50l1 8v-31l1-28v58l1-25v-19l1 5v19l1-14v-36l1 14v17l1 9v-23l1-6v13l1 1v-29l1-8v19l1 2v-65l1 41v16l1 16v-56l1 26v23l1-4v-23l1 4v21l1-8v-22l1 7v32l1 8v-19l1 4v24l1-14v-20l1 2v23l1-5v-21l1 10v23l1 2v-40l1 16v42l1-6v-23l1-16v26l1-5v-32l1-1v20l1-3v-12l1 6v14l1-4v-15l1-41v95l1-35v-35l1-20v31l1 7v-28l1-11v23l1-10v-42l1 24v25l1 2v-35l1 21v15l1 21v-33l1 3v14l1 7v-13l1-2v23l1 13v-66l1 34v30l1 26v-42l1 8v13l1-5v-12l1 4v37l1-14v-22l1 5v36l1-17v-15l1-12v16l1 0v-26l1 22v27l1-23v-33l1 31v32l1-20v-14l1-20v28l1 21v-19l1-4v25l1-8v-56l1 41v11l1 7v-30l1-7v60l1-21v-21l1-21v20l1 1v-41l1 15v25l1-4v-24l1 1v51l1-32v-24l1-17v31l1 5v-35l1 0v24l1-12v-22l1-5v50l1-20v-23l1-16v17l1-1v-17l1-6v22l1-9v-28l1 1v35l1-6v-16l1 10v31l1-11v-13l1 4v17l1-15v-22l1 7v17l1 15v-20l1 6v13l1-3v-41l1 23v18l1-4v-17l1-21v35l1 17v-24l1-44v68l1 18v-39l1 6v14l1 5v-50l1 4v22l1 13v-33l1-3v22l1 12v-33l1 16v39l1-30v-13l1-15v20l1 7v-23l1-1v19l1-6v-15l1-4v13l1 33v-32l1-12v38l1 0v-21l1 7v19l1-3v-38l1 20v18l1 34v-35l1-3v22l1-9v-12l1-12v35l1-8v-26l1 5v32l1 9v-24l1-8v27l1-13v-25l1-9v45l1-4v-48l1 27v18l1 14v-41l1-3v18l1 2v-17l1-17v33l1-2v-22l1-18v34l1 1v-28l1-2v22l1-7v-13l1 3v31l1-15v-28l1-8v30l1-3v-19l1 2v11l1 12v-25l1 5v15l1 0v-22l1-10v20l1 12v-31l1-4v14l1 37v-49l1-5v26l1-4v-46l1 13v21l1 24v-36l1-17v23l1-1v-24l1-7v22l1 8v-30l1-16v30l1-11v-19l1-5v19l1-8v-15l1-10v22l1 3v-20l1-6v30l1 3v-28l1-12v35l1-7v-32l1 7v29l1-3v-31l1 6v23l1 10v-34l1 5v52l1-33v-14l1-23v38l1 17v-41l1 5v13l1 16v-29l1 5v23l1 0v-14l1 8v14l1 8v-12l1-8v18l1 10v-17l1 9v20l1 3v-14l1-8v22l1 18v-21l1-4v22l1 6v-17l1-2v39l1-6v-29l1 8v25l1-3v-31l1 0v33l1 6v-23l1-43v74l1-14v-18l1-12v38l1 9v-20l1-10v27l1 21v-56l1 1v14l1 6v-14l1-11v45l1-15v-33l1 0v18l1-5v-15l1-11v37l1-15v-23l1 13v22l1-6v-22l1-13v39l1-7v-21l1-7v20l1-8v-27l1 4v27l1-6v-26l1 3v22l1-3v-20l1-19v53l1-27v-14l1 1v21l1 5v-18l1-1v21l1 11v-41l1 8v12l1 4v-54l1 25v21l1 16v-24l1-6v35l1-8v-36l1 7v15l1 20v-29l1 9v10l1 16v-32l1-7v19l1 4v-36l1-7v35l1-17v-36l1 6v18l1 25v-27l1 16v16l1 12v-15l1-21v23l1 22v-13l1 5v19l1 6v-13l1 14v20l1 17v-31l1 13v31l1-14v-38l1 38v19l1 1v-12l1 2v29l1 1v-40l1 46v15l1 7v-33l1 11v16l1 8v-27l1 13v33l1-15v-12l1 3v37l1 4v-29l1 6v19l1 17v-28l1 7v15l1 15v-28l1 6v16l1 12v-13l1 8v20l1-8v-22l1 30v11l1 10v-14l1 5v19l1 21v-39l1 11v26l1 15v-16l1 3v28l1 7v-51l1 39v20l1 5v-23l1 17v14l1 0v-14l1 2v17l1 2v-30l1 22v14l1-3v-12l1 6v30l1 5v-37l1 5v13l1 12v-20l1 11v19l1-1v-23l1 2v19l1-13v-30l1-1v25l1-14v-12l1-7v15l1 9v-13l1-23v37l1-13v-20l1 1v11l1 11v-24l1 1v20l1 13v-28l1 2v31l1-11v-38l1 17v34l1-3v-14l1-6v15l1-8v-38l1-4v21l1-1v-22l1-7v25l1-27v-16l1-9v24l1-22v-10l1-24v26l1-15v-35l1 17v15l1 12v-27l1-7v14l1-1v-39l1-14v27l1 6v-35l1 9v24l1 0v-16l1-25v35l1-5v-17l1 13v20l1-9v-16l1-5v23l1 1v-26l1 9v16l1 14v-20l1 1v17l1 2v-12l1-2v13l1 12v-24l1 8v28l1 10v-33l1 6v38l1-39v-15l1 2v14l1 7v-27l1 7v11l1 0v-18l1 1v24l1 6v-37l1-9v65l1-39v-14l1-4v24l1-12v-16l1-22v32l1-1v-21l1 1v29l1-8v-27l1-1v13l1-2v-28l1 2v17l1-2v-17l1-2v30l1-5v-26l1 12v16l1 8v-14l1 3v24l1 2v-25l1 3v27l1 3v-20l1-6v19l1-6v-21l1-6v25l1-3v-16l1 3v27l1-4v-64l1 50v12l1-7v-26l1 5v25l1-10v-36l1 19v20l1 4v-23l1-13v23l1 2v-15l1-12v25l1 1v-19l1 11v14l1 20v-23l1 11v19l1 7v-41l1 17v20l1 10v-25l1-14v27l1 30v-38l1 3v12l1 7v-20l1-5v25l1 35v-33l1 1v26l1 4v-41l1 7v14l1 1v-24l1 2v22l1-11v-26l1 9v29l1 10v-21l1-3v17l1 14v-23l1 9v14l1 36v-36l1-6v19l1 3v-15l1-2v18l1 7v-48l1 20v24l1 11v-27l1 6v23l1 36v-73l1 19v27l1-2v-29l1 7v12l1 7v-25l1-6v18l1 12v-12l1-15v37l1-12v-26l1 11v36l1-24v-21l1 6v15l1 6v-19l1-7v45l1-4v-41l1 11v13l1 14v-25l1-21v25l1 9v-35l1 38v21l1 3v-28l1 7v39l1-6v-26l1 13v11l1 14v-14l1 9v25l1-4v-17l1 8v30l1-18v-26l1-2v25l1 7v-29l1 11v23l1-34v-14l1-5v35l1 2v-32l1-4v34l1 9v-22l1-4v15l1 30v-72l1 26v13l1 3v-16l1 0v12l1 11v-25l1 21v20l1-2v-37l1 34v11l1 5v-25l1 9v21l1 1v-21l1-2v20l1 2v-31l1 5v15l1 9v-32l1-13v15l1 10v-25l1 5v20l1 13v-27l1-3v27l1 2v-19l1 6v15l1 40v-41l1 2v29l1 5v-24l1-7v14l1 23v-38l1-2v20l1-4v-15l1-11v28l1 4v-15l1-8v29l1-8v-28l1 2v12l1 3v-17l1 2v16l1 5v-24l1-15v20l1 10v-15l1-8v23l1 12v-22l1-2v28l1 22v-26l1 12v19l1 34v-55l1 17v30l1-12v-25l1 13v14l1-7v-14l1-17v41l1-10v-22l1 0v29l1-15v-14l1-12v20l1 6v-27l1 12v21l1-13v-18l1 1v17l1 4v-19l1-18v41l1 6v-41l1 5v35l1 1v-16l1 5v15l1 4v-19l1-7v14l1 11v-23l1 8v13l1 9v-13l1-8v48l1 4v-21l1 0v23l1-2v-20l1-24v40l1-15v-28l1-11v20l1 9v-28l1 0v18l1 2v-24l1-13v42l1 12v-30l1 5v21l1-2v-18l1-12v26l1 4v-19l1-12v17" stroke="#0000ff"/>
<path d="M258.5 2398v51l1-32v-12l1-23v28l1 4v-18l1-19v44l1-4v-36l1 1v14l1-4v-23l1 7v22l1-5v-21l1 5v21l1 12v-19l1 0v18l1 13v-29l1-8v23l1 9v-23l1 12v19l1-3v-20l1 9v29l1-31v-13l1-14v29l1-32v-16l1-5v15l1-4v-21l1 0v16l1-2v-17l1-6v22l1 3v-27l1 14v25l1-7v-34l1 9v12l1 6v-19l1-4v21l1-5v-23l1 11v27l1 0v-44l1 28v23l1-6v-27l1 12v23l1 9v-32l1-2v15l1 12v-22l1-1v25l1 4v-23l1 7v35l1-17v-19l1-15v29l1-7v-15l1-46v56l1-13v-17l1-8v18l1-13v-14l1-17v34l1 9v-33l1-20v26l1 3v-14l1-1v36l1-18v-35l1 5v17l1-5v-20l1-2v17l1-11v-22l1-6v16l1 23v-38l1-10v30l1-5v-21l1-13v41l1 7v-22l1 6v20l1 7v-23l1-4v11l1 23v-27l1-32v49l1-16v-14l1 9v38l1-14v-17l1-2v19l1 4v-11l1 0v21l1 5v-26l1 9v31l1 12v-37l1 4v19l1 12v-23l1-9v26l1-16v-22l1-8v21l1 29v-48l1-11v30l1-14v-28l1-15v23l1 4v-33l1-15v14l1-8v-33l1 8v11l1-16v-14l1-9v29l1-23v-27l1 12v19l1 10v-28l1 27v16l1 21v-32l1 19v30l1 3v-20l1 3v16l1 22v-45l1-18v39l1 6v-33l1 14v31l1-16v-28l1 16v24l1 22v-38l1-9v15l1 13v-21l1-12v17l1-11v-24l1 8v34l1 2v-19l1-3v29l1-10v-20l1-2v39l1-1v-18l1-14v36l1-14v-14l1 1v19l1-4v-19l1-41v51l1 5v-30l1 15v14l1 1v-35l1 11v14l1 3v-24l1-6v18l1 3v-32l1-11v41l1 0v-29l1-7v15l1 16v-46l1 8v13l1 7v-16l1-4v23l1-4v-15l1 15v11l1 22v-27l1-23v31l1-10v-12l1-26v35l1-3v-20l1-19v22l1 4v-20l1-6v16l1 3v-22l1-33v82l1-21v-12l1 6v15l1 19v-36l1 2v11l1 15v-46l1 31v15l1 2v-17l1-10v18l1-11v-19l1-14v52l1-25v-21l1 12v12l1 4v-22l1 10v12l1-2v-32l1 0v34l1-3v-32l1-14v42l1-3v-20l1-1v27l1 0v-14l1 3v23l1 8v-26l1-13v25l1-5v-18l1 3v20l1 2v-35l1 5v21l1 8v-19l1 8v23l1-12v-29l1 16v27l1 2v-26l1-7v31l1-2v-12l1 0v21l1-13v-21l1-1v33l1-18v-25l1-6v27l1-14v-27l1-6v20l1 23v-43l1-1v29l1-3v-13l1 3v15l1 15v-16l1-18v30l1 11v-39l1 13v19l1 2v-16l1 5v14l1-13v-15l1 7v22l1 3v-22l1-6v32l1 3v-13l1 18v17l1 2v-22l1-9v33l1 5v-15l1 9v12l1 4v-17l1 1v25l1 6v-37l1 20v23l1 4v-30l1-12v44l1-9v-18l1 3v20l1-7v-14l1 2v33l1-3v-32l1-8v32l1 4v-42l1 28v21l1-4v-23l1 9v17l1 8v-26l1 0v34l1 6v-30l1-10v35l1 1v-22l1 6v18l1 0v-22l1 0v43l1-13v-39l1 33v16l1-8v-17l1 2v18l1 3v-31l1 2v28l1 11v-25l1 1v24l1-10v-14l1 8v23l1 9v-24l1 20v17l1 1v-18l1 15v18l1-4v-22l1 1v34l1-22v-14l1-14v25l1 22v-53l1 0v20l1-12v-24l1-10v22l1-7v-15l1 1v10l1 1v-30l1-1v13l1 7v-18l1-13v23l1 2v-18l1-19v14l1 2v-23l1-3v55l1-3v-34l1 7v11l1 24v-36l1 13v13l1-3v-33l1 20v20l1 5v-24l1-27v36l1-14v-34l1 10v14l1 5v-25l1 1v16l1 0v-22l1 1v18l1-4v-18l1 6v19l1 13v-24l1-14v20l1 13v-32l1 7v13l1 17v-45l1-8v30l1-26v-25l1 10v30l1-19v-34l1 3v29l1 8v-31l1 0v37l1 10v-38l1 6v29l1 7v-30l1-2v19l1-12v-16l1-15v28l1-12v-22l1-3v14l1 0v-15l1-9v15l1-3v-19l1-1v18l1 6v-18l1 2v29l1-11v-19l1 8v13l1 5v-23l1-27v38l1 8v-27l1-2v17l1 25v-43l1-3v29l1-28v-25l1-8v30l1-11v-13l1-9v22l1-7v-17l1-8v23l1 2v-15l1-4v16l1-4v-26l1 12v13l1 6v-19l1 11v27l1-14v-71l1 50v19l1-17v-17l1-20v10l1 6v-25l1-19v24l1-4v-17l1 2v24l1 18v-41l1 17v19l1-1v-47l1 27v33l1 3v-24l1-8v31l1 15v-23l1 2v16l1-1v-21l1-18v20l1-27v-16l1-10v15l1 4v-14l1-12v39l1-15v-20l1-3v24l1 17v-25l1-5v37l1-35v-31l1 16v16l1-4v-21l1 10v14l1 17v-25l1 16v15l1 11v-22l1-18v29l1-11v-17l1-9v18l1 1v-21l1 3v14l1-6v-25l1 1v38l1-23v-44l1 29v20l1 10v-36l1 18v37l1 6v-42l1 7v26l1 20v-34l1-15v44l1 37v-60l1 8v17l1 15v-23l1 10v18l1 3v-23l1 0v20l1 33v-36l1 0v28l1 8v-25l1 19v21l1-13v-23l1-12v23l1-18v-12l1-5v17l1-24v-16l1-27v19l1 9v-18l1-4v17l1 21v-27l1-6v43l1-6v-24l1 9v26l1 2v-20l1-11v40l1 14v-27l1 6v15l1 5v-19l1 5v19l1 13v-16l1-21v31l1 7v-22l1 19v12l1 0v-45l1 36v21l1-11v-24l1-17v35l1-6v-20l1-29v28l1-5v-12l1-26v21l1 3v-41l1-8v40l1-9v-22l1 4v14l1 18v-35l1-4v18l1 21v-36l1 11v35l1-19v-49l1 15v36l1 0v-15l1-1v24l1-12v-17l1-12v32l1-12v-16l1-7v12l1 5v-17l1-1v21l1-14v-10l1-16v19l1-4v-29l1-6v33l1-10v-13l1-19v20l1-9v-11l1-9v22l1-2v-18l1-30v55l1-30v-11l1-11v17l1-7v-21l1-11v30l1-5v-29l1 2v21l1 9v-35l1 25v26l1 5v-72l1 53v14l1 6v-17l1-10v37l1-14v-16l1-7v14l1 8v-28l1 1v39l1 10v-44l1-2v32l1-3v-26l1 12v12l1 16v-44l1 11v15l1-1v-21l1 2v16l1 12v-17l1-20v27l1-11v-42l1 14v27l1-3v-27l1 7v20l1 3v-19l1 1v21l1 8v-22l1 12v19l1 9v-18l1-3v73l1-1v-54l1-5v45l1-36v-17l1-2v30l1-18v-25l1-38v44l1 23v-26l1-17v53l1-15v-25l1 12v15l1 10v-12l1-26v41l1-4v-22l1-3v63l1-28v-40l1 12v19l1-12v-24l1 11v19l1-2v-20l1 0v27l1-10v-40l1 11v11l1 7v-20l1 2v24l1-6v-43l1 19v27l1 16v-39l1-12v33l1-1v-36l1-2v27l1-11v-20l1-13v53l1-14v-47l1-4v17l1-1v-30l1-2v27l1 6v-37l1-1v18l1 0v-21l1-1v28l1-16v-13l1-32v22l1 10v-19l1-1v26l1-14v-23l1-11v24l1 20v-41l1 14v14l1 1v-26l1 2v12l1 2v-21l1 13v16l1 22v-30l1 5v72l1-56v-17l1-6v45l1-25v-16l1-4v28l1-6v-15l1-14v20l1 4v-24l1 4v18l1-1v-12l1 1v12l1 12v-16l1 6v24l1 4v-31l1 9v25l1 2v-18l1 0v19l1-9v-11l1-7v18l1 4v-18l1-5v21l1 11v-39l1 2v28l1 4v-36l1-3v20l1-7v-12l1-18v29l1-5v-24l1 5v13l1 14v-18l1-10v24l1-8v-38l1 13v25l1-20v-15l1 1v11l1 0v-14l1 1v26l1-14v-11l1-3v28l1-18v-25l1 6v23l1-17v-30l1 14v14l1 7v-22l1 9v15l1-26v-34l1 14v22l1 6v-30l1 23v18l1-3v-24l1 5v16l1 21v-46l1 18v12l1-12v-55l1 33v14l1 0v-15l1 1v19l1-8v-16l1-23v31l1 0v-13l1 6v19l1 17v-22l1 13v27l1 8v-21l1 22v26l1-15v-12l1-1v24l1-6v-35l1 4v20l1-5v-22l1-6v27l1-3v-23l1-12v12l1 1v-13l1 8v20l1-14v-27l1-11v18l1 2v-24l1-13v29l1-10v-21l1-2v19l1-5v-21l1 9v14l1 7v-17l1 1v37l1-8v-82l1 58v15l1 31v-42l1-11v42l1-7v-16l1-24v34l1 2v-18l1 12v34l1-13v-20l1-9v25l1 14v-27l1-25v21l1 12v-27l1 12v19l1-11v-11l1-14v22l1-2v-13l1-5v20l1-5v-17l1-22v58l1-12v-50l1-15v25l1 20v-40l1 6v26l1 8v-30l1 18v29l1-9v-58l1 39v15l1 10v-22l1 1v34l1 12v-36l1 1v25l1-8v-14l1-6v45l1 3v-29l1 8v17l1 12v-33l1 4v13l1 22v-33l1-2v10l1 5v-14l1-31v40l1-5v-17l1 2v20l1-16v-20l1 15v17l1 3v-22l1 7v19l1 8v-18l1-8v17l1-14v-17l1 11v17l1 16v-37l1 22v25l1-9v-13l1 11v19l1-1v-26l1 6v32l1 11v-32l1-14v24l1 9v-22l1 0v23l1 13v-21l1 0v21l1-3v-18l1 3v18l1 15v-17l1-16v26l1 11v-36l1 18v17l1 6v-19l1 5v21l1 31v-42l1 28v18l1 5v-23l1 23v17l1 11v-12l1-4v29l1 14v-56l1 43v16l1 26v-41l1-7v23l1 12v-15l1 0v21l1-10v-12l1 0v27l1-3v-52l1 19v18l1-4v-12l1-16v33l1 13v-41l1 6v17l1 19v-24l1 5v14l1-1v-34l1 21v13l1-1v-19l1-11v22l1-10v-15l1-9v29l1 9v-20l1-6v17l1 9v-30l1-2v26l1 11v-23l1-8v21l1 5v-17l1-23v23l1 3v-39l1 4v14l1 0v-16l1-7v19l1-10v-33l1-14v33l1-11v-40l1 4v21l1-11v-18l1-34v76l1-18v-24l1-10v20l1-7v-26l1 15v20l1-1v-47l1 13v21l1-9v-19l1-5v27l1 2v-38l1 5v12l1 3v-12l1-3v21l1 1v-12l1 3v29l1-10v-19l1 10v28l1 10v-20l1 15v10l1 1v-14l1 12v13l1 7v-20l1 0v31l1-8v-35l1 36v46l1-21v-27l1-25v56l1-7v-21l1 10v29l1 7v-30l1 1v19l1 24v-29l1-15v67l1-33v-22l1 4v22l1 18v-49l1 20v20l1 3v-23l1-4v16l1 26v-49l1 6v18l1-10v-31l1-7v27l1 8v-23l1-9v32l1 13v-54l1 12v21l1-6v-18l1-10v24l1-4v-24l1 2v11l1 1v-16l1-3v31l1-1v-27l1-2v28l1-6v-12l1 3v15l1 1v-17l1-9v21l1 4v-26l1 14v54l1-35v-15l1-54v50l1-6v-13l1 2v25l1-4v-31l1 0v23l1-8v-29l1 7v28l1-21v-17l1-13v32l1-6v-18l1-5v14l1-12v-21l1-1v26l1 4v-40l1 8v16l1-5v-70l1 34v37l1-12v-23l1-2v18l1 3v-17l1-10v32l1-19v-18l1-15v26l1 6v-27l1-9v30l1-15v-16l1-7v37l1-4v-32l1-4v21l1-7v-36l1 0v21l1 12v-21l1 8v15l1 18v-43l1-21v26l1-8v-27l1-13v38l1-21v-18l1-9v27l1 19v-40l1-11v30l1 18v-61l1-5v20l1 22v-28l1-7v21l1 2v-23l1-16v32l1-17v-21l1-9v15l1 20v-40l1 0v18l1 20v-25l1 9v46l1-2v-34l1 21v19l1-4v-31l1-3v25l1-22v-12l1-15v41l1-28v-29l1-8v31l1-15v-25l1 2v12l1-11v-18l1 1v14l1 16v-35l1 23v12l1 8v-45l1 29v18l1 20v-23l1-20v16l1-10v-40l1 13v22l1-4v-26l1-12v17l1-3v-14l1-31v26l1 23v-32l1-26v27l1 21v-55l1-8v31l1 6v-39l1 3v25l1-5v-12l1-7v18l1-3v-12l1-16v18l1-1v-21l1 9v16l1-3v-17l1 4v24l1 10v-42l1 10v15l1 12v-26l1 9v22l1 7v-30l1 12v26l1-14v-15l1 8v19l1 6v-22l1-15v39l1 15v-32l1-4v34l1 1v-17l1 12v11l1-13v-25l1-10v23l1 5v-25l1-9v19l1-23v-31l1-23v46l1-5v-22l1-11v33l1-13v-24l1 1v14l1-5v-31l1 12v20l1 11v-26l1-18v36l1 17v-19l1-15v33l1-1v-15l1-5v21l1-5v-15l1-12v21l1 8v-36l1 5v19l1 13v-55l1 31v20l1 5v-15l1 4v19l1 18v-33l1 8v32l1-15v-12l1-9v19l1 11v-19l1 0v19l1 4v-17l1-32v39l1 5v-11l1-4v21l1 10v-13l1 3v17l1 6v-37l1 24v17l1 33v-36l1-15v37l1 12v-25l1 3v22l1-4v-19l1 4v22l1 14v-20l1 8v19l1 0v-18l1-3v26l1 9v-39l1 2v45l1-11v-26l1 4v44l1-10v-15l1-7v27l1-9v-17l1 14v14l1 26v-36l1 2v19l1 3v-25l1 2v35l1-19v-14l1-9v32l1-9v-28l1 4v35l1-8v-28l1 4v37l1 6v-34l1 24v16l1-2v-17l1-13v48l1-1v-20l1 0v26l1 3v-25l1 16v15l1 1v-14l1-22v42l1 4v-14l1-6v33l1 6v-17l1-5v19l1 9v-30l1 6v20l1 37v-41l1-22v29l1-3v-12l1-20v33l1-9v-30l1 11v20l1-7v-13l1 1v22l1-12v-27l1-3v19l1 9v-65l1 23v18l1 15v-23l1-8v26l1-1v-12l1-3v26l1 16v-25l1-7v17l1 13v-34l1 15v28l1 3v-27l1 4v19l1 7v-15l1-6v21l1 13v-21l1 1v25l1 1v-29l1 6v30l1 29v-52l1 9v24l1-2v-23l1 7v14l1 15v-19l1 7v21l1 0v-18l1 3v24l1-3v-13l1-16v28l1-5v-37l1-2v33l1 17v-35l1-4v19l1-7v-11l1-13v15l1-12v-22l1 8v12l1 23v-28l1 10v17l1 2v-13l1 3v15l1 4v-24l1 13v16l1-8v-18l1 11v14l1 17v-34l1-8v23l1-1v-17l1-13v23l1-5v-14l1-21v25l1 0v-13l1-19v25l1 4v-27l1-28v24l1 6v-25l1-18v45l1-6v-22l1 4v25l1-12v-21l1-4v31l1 5v-17l1 4v12l1 10v-33l1 10v32l1 11v-39l1 9v31l1-17v-24l1 17v29l1 15v-33l1-7v23l1-26v-27l1 17v17l1 2v-15l1 3v15l1-5v-25l1-5v21l1 12v-39l1-1v18l1 3v-25l1-7v25l1-1v-20l1 8v50l1-39v-18l1 4v12l1 18v-32l1 10v16l1-6v-28l1 3v19l1 6v-24l1 2v18l1 2v-19l1 0v26l1-28v-23l1 12v16l1 14v-23l1-1v21l1 9v-17l1-3v30l1-17v-11l1-24v21l1 14v-14l1-21v14l1 2v-21l1-10v26l1-27v-21l1 5v21l1-10v-24l1 12v13l1-9v-16l1-9v11l1 6v-26l1-14v28l1-1v-24l1 10v14l1 5v-25l1 7v30l1 1v-20l1-3v23l1 6v-26l1 8v16l1 19v-20l1 7v11l1 15v-17l1 22v18l1 19v-42l1-1v29l1 15v-23l1 11v34l1-5v-21l1 7v34l1-11v-28l1-2v21l1 0v-17l1 0v26l1 6v-16l1-5v46l1-21v-24l1-8v23l1 4v-14l1-13v24l1 0v-41l1 20v25l1-14v-20l1-10v28l1-24v-23l1-18v44l1-12v-18l1-16v42l1 6v-16l1-9v39l1-5v-19l1 4v16l1 3v-21l1 7v14l1 2v-16l1 5v18l1 22v-38l1 11v16l1 8v-26l1 17v29l1-22v-16l1-6v27l1-6v-14l1-12v31l1 7v-12l1-11v20l1 14v-19l1-16v20l1 4v-21l1-9v41l1-7v-26l1 5v19l1 10v-19l1-10v18l1 1v-20l1-1v18l1 4v-45l1 9v45l1 6v-66l1 40v14l1 1v-14l1-5v34l1 26v-49l1-7v35l1 40v-71l1 1v17l1 26v-56l1-2v14l1 6v-32l1-2v18l1 0v-20l1-5v22l1 1v-26l1 9v26l1-12v-14l1 5v39l1-3v-41l1 4v20l1-2v-13l1-7v14l1-1v-19l1-7v12l1 17v-26l1-13v32l1 2v-33l1-11v34l1-27v-13l1-12v36l1 1v-31l1-7v22l1 14v-38l1 6v16l1 14v-17l1-9v21l1 16v-23l1 0v23l1 14v-30l1-6v28l1-7v-27l1 14v26l1 9v-24l1-6v22l1 2v-23l1 2v18l1-4v-18l1 2v27l1 14v-23l1 17v14l1 20v-20l1-12v38l1-14v-10l1-31v38l1 2v-13l1-48v80l1-22v-14l1 13v18l1-2v-36l1 31v21l1 26v-28l1-1v53l1-15v-13l1-9v37l1-14v-25l1 24v19l1-2v-24l1-1v24l1 4v-29l1 16v20l1-6v-17l1 8v29l1-1v-32l1-19v34l1-14v-25l1 18v26l1-11v-12l1-9v16l1 7v-25l1-13v26l1 23v-30l1-2v25l1-1v-18l1-3v22l1 14v-29l1 5v16l1 4v-28l1-6v38l1-10v-16l1-7v17l1 30v-36l1 2v14l1 10v-21l1-10v18l1 17v-20l1 6v29l1-4v-16l1 20v14l1-3v-36l1 19v30l1 6v-19l1 9v15l1-18v-41l1 10v26l1-20v-25l1-7v22l1-10v-14l1-21v27l1-4v-39l1 21v15l1-11v-16l1-3v20l1 7v-28l1-3v19l1 20v-25l1-15v15l1 2v-23l1-3v39l1-18v-22l1 14v37l1-16v-29l1-5v25l1-1v-17l1-8v13l1 3v-12l1-13v28l1 6v-36l1 17v23l1 18v-34l1 3v21l1-10v-12l1 5v23l1 5v-27l1-9v18l1-15v-14l1-12v31l1-23v-32l1-24v33l1 7v-29l1-4v34l1-17v-28l1 8v20l1-15v-20l1 5v14l1 2v-29l1-2v17l1 4v-14l1-12v37l1-19v-24l1 8v17l1-17v-12l1-14v17l1 1v-23l1-19v36l1-5v-46l1-5v48l1-28v-19l1-13v19l1-1v-20l1-15v22l1 9v-25l1 13v17l1-4v-22l1 11v21l1 2v-30l1 9v33l1-12v-28l1-19v27l1 2v-14l1-7v35l1-6v-25l1-20v33l1-4v-16l1-24v34l1-28v-18l1-7v18l1-4v-15l1-7v22l1-12v-14l1-8v18l1 3v-56l1 30v23l1 3v-41l1 8v31l1 31v-35l1-1v32l1 4v-13l1 3v38l1-21v-15l1 1v22l1 0v-14l1-18v32l1-15v-14l1-6v22l1-9v-27l1-1v17l1-6v-35l1 17v24l1 13v-38l1 19v14l1 12v-17l1 0v25l1 10v-16l1-14v16l1 2v-15l1 7v18l1-1v-27l1 4v13l1 6v-20l1 0v17l1 20v-35l1 15v16l1 10v-22l1-2v29l1 25v-31l1-5v29l1 10v-19l1 4v39l1 17v-22l1 5v26l1 5v-31l1 5v35l1-23v-14l1-6v21l1-5v-18l1-7v51l1-22v-41l1 8v22l1-6v-17l1-2v18l1 20v-42l1-10v25l1-9v-12l1 9v15l1 3v-27l1 9v29l1 18v-57l1 7v16l1 7v-17l1 0v14l1 5v-37l1 19v15l1-5v-19l1-1v11l1 27v-31l1-33v39l1-3v-24l1 16v21l1-8v-18l1-18v33l1 1v-13l1 6v18l1 4v-15l1-10v29l1-3v-36l1 16v14l1 0v-17l1 2v20l1-3v-13l1 5v25l1-11v-13l1 9v17l1 4v-53l1 22v38l1-31v-11l1-21v32l1-2v-25l1 7v16l1-1v-13l1-6v14l1-12v-34l1 7v28l1 2v-13l1-27v55l1-11v-11l1-6v14l1 25v-31l1-3v20" stroke="#000000"/>
</g>
<path d="M255 1478H1717V2471H255ZM260 1483V2466H1712V1483Z" fill="#000" fill-rule="evenodd"/>
<text x="226" y="1503.7" font-size="56.5" text-anchor="end" font-family='"Liberation Sans", sans-serif' >180</text>
<text x="226" y="1666.6" font-size="56.5" text-anchor="end" font-family='"Liberation Sans", sans-serif' >150</text>
<text x="226" y="1829.4" font-size="56.5" text-anchor="end" font-family='"Liberation Sans", sans-serif' >120</text>
<text x="226" y="1992.3" font-size="56.5" text-anchor="end" font-family='"Liberation Sans", sans-serif' >90</text>
<text x="226" y="2155.2" font-size="56.5" text-anchor="end" font-family='"Liberation Sans", sans-serif' >60</text>
<text x="226" y="2318" font-size="56.5" text-anchor="end" font-family='"Liberation Sans", sans-serif' >30</text>
<text x="226" y="2480.9" font-size="56.5" text-anchor="end" font-family='"Liberation Sans", sans-serif' >0</text>
<text x="265.1" y="2537.3" font-size="56.5" text-anchor="middle" font-family='"Liberation Sans", sans-serif' >0</text>
<text x="448.1" y="2537.3" font-size="56.5" text-anchor="middle" font-family='"Liberation Sans", sans-serif' letter-spacing="1.6">0.5</text>
<text x="629.4" y="2537.3" font-size="56.5" text-anchor="middle" font-family='"Liberation Sans", sans-serif' >1</text>
<text x="812.4" y="2537.3" font-size="56.5" text-anchor="middle" font-family='"Liberation Sans", sans-serif' letter-spacing="1.6">1.5</text>
<text x="993.7" y="2537.3" font-size="56.5" text-anchor="middle" font-family='"Liberation Sans", sans-serif' >2</text>
<text x="1176.6" y="2537.3" font-size="56.5" text-anchor="middle" font-family='"Liberation Sans", sans-serif' letter-spacing="1.6">2.5</text>
<text x="1358" y="2537.3" font-size="56.5" text-anchor="middle" font-family='"Liberation Sans", sans-serif' >3</text>
<text x="1541" y="2537.3" font-size="56.5" text-anchor="middle" font-family='"Liberation Sans", sans-serif' letter-spacing="1.6">3.5</text>
<text x="1722.3" y="2537.3" font-size="56.5" text-anchor="middle" font-family='"Liberation Sans", sans-serif' >4</text>
<text x="623.2" y="1393.6" font-size="50.5" text-anchor="start" font-family='"Liberation Sans", sans-serif' >traj 1</text>
<line x1="764.8" y1="1376.3" x2="910.1" y2="1376.3" stroke="#ff0000" stroke-width="3"/>
<text x="623.2" y="1443.8" font-size="50.5" text-anchor="start" font-family='"Liberation Sans", sans-serif' >traj 2</text>
<line x1="764.8" y1="1427.3" x2="910.1" y2="1427.3" stroke="#a52a2a" stroke-width="3"/>
<text x="1010.3" y="1393.6" font-size="50.5" text-anchor="start" font-family='"Liberation Sans", sans-serif' >traj 3</text>
<line x1="1152.4" y1="1376.3" x2="1297.7" y2="1376.3" stroke="#00ff00" stroke-width="3"/>
<text x="1010.3" y="1443.8" font-size="50.5" text-anchor="start" font-family='"Liberation Sans", sans-serif' >traj 4</text>
<line x1="1152.4" y1="1427.3" x2="1297.7" y2="1427.3" stroke="#00ffff" stroke-width="3"/>
<text x="1397.5" y="1393.6" font-size="50.5" text-anchor="start" font-family='"Liberation Sans", sans-serif' >traj 5</text>
<line x1="1539.6" y1="1376.3" x2="1684.9" y2="1376.3" stroke="#0000ff" stroke-width="3"/>
<text x="1397.5" y="1443.8" font-size="50.5" text-anchor="start" font-family='"Liberation Sans", sans-serif' >traj 6</text>
<line x1="1539.6" y1="1427.3" x2="1684.9" y2="1427.3" stroke="#000000" stroke-width="3"/>
<text x="914.8" y="2617.3" font-size="65.4" text-anchor="start" font-family='"Liberation Sans", sans-serif' >t [µs]</text>
<text transform="translate(76.6,2080) rotate(-90)" font-size="65" font-family='"Liberation Sans", sans-serif'><tspan font-family='"Liberation Serif", serif' font-size="68">Θ</tspan> [deg]</text>
<text transform="translate(1802.3,2658.9) scale(0.895,1)" font-size="86" font-family='"Liberation Serif", serif'>B</text>
</svg>
</body></html>
